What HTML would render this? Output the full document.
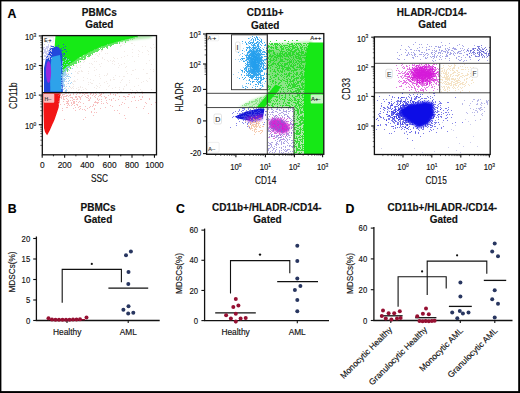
<!DOCTYPE html>
<html><head><meta charset="utf-8"><style>
html,body{margin:0;padding:0;background:#fff;width:520px;height:393px;overflow:hidden}
svg{display:block}
text{font-family:"Liberation Sans", sans-serif}
</style></head><body>
<svg width="520" height="393" viewBox="0 0 520 393">
<defs>
<filter id="b0" x="-20%" y="-20%" width="140%" height="140%"><feGaussianBlur stdDeviation="0.6"/></filter>
<filter id="b1" x="-20%" y="-20%" width="140%" height="140%"><feGaussianBlur stdDeviation="0.9"/></filter>
<filter id="b2" x="-30%" y="-30%" width="160%" height="160%"><feGaussianBlur stdDeviation="2"/></filter>
<clipPath id="c1"><rect x="42.3" y="35.6" width="114.2" height="119.2"/></clipPath>
<clipPath id="c2"><rect x="206.6" y="33.6" width="117.2" height="120.7"/></clipPath>
<clipPath id="c3"><rect x="374.4" y="36.9" width="115.8" height="117.6"/></clipPath>
</defs>
<rect x="0" y="0" width="520" height="393" fill="#fff"/>
<g>
<rect x="0" y="0" width="520" height="393" fill="#fff"/>
<text x="7.60" y="17.70" font-size="12.3" text-anchor="start" font-weight="bold" fill="#000"  stroke="#000" stroke-width="0.15">A</text>
<text x="99.30" y="15.80" font-size="10" text-anchor="middle" font-weight="bold" fill="#111"  stroke="#111" stroke-width="0.15">PBMCs</text>
<text x="99.30" y="28.30" font-size="10" text-anchor="middle" font-weight="bold" fill="#111"  stroke="#111" stroke-width="0.15">Gated</text>
<g clip-path="url(#c1)">
<path d="M89 49h1v1h-1zM121 45h1v1h-1zM110 60h1v1h-1zM63 67h1v1h-1zM61 63h1v1h-1zM64 46h1v1h-1zM99 83h1v1h-1zM70 53h1v1h-1zM119 89h1v1h-1zM114 61h1v1h-1zM153 44h1v1h-1zM72 47h1v1h-1zM88 82h1v1h-1zM75 71h1v1h-1zM111 45h1v1h-1zM63 52h1v1h-1zM124 63h1v1h-1zM88 71h1v1h-1zM81 70h1v1h-1zM109 85h1v1h-1zM154 47h1v1h-1zM72 66h1v1h-1zM61 75h1v1h-1zM132 70h1v1h-1zM126 71h1v1h-1zM114 64h1v1h-1zM140 89h1v1h-1zM104 75h1v1h-1zM63 77h1v1h-1zM121 91h1v1h-1zM138 56h1v1h-1zM95 75h1v1h-1zM60 65h1v1h-1zM74 47h1v1h-1zM63 80h1v1h-1zM70 54h1v1h-1zM96 85h1v1h-1zM65 64h1v1h-1zM138 85h1v1h-1zM75 53h1v1h-1zM58 62h1v1h-1zM94 70h1v1h-1zM124 44h1v1h-1zM146 80h1v1h-1zM143 81h1v1h-1zM96 61h1v1h-1zM68 73h1v1h-1zM64 45h1v1h-1zM78 50h1v1h-1zM58 49h1v1h-1zM67 60h1v1h-1zM60 85h1v1h-1zM66 47h1v1h-1zM91 55h1v1h-1zM60 89h1v1h-1zM111 43h1v1h-1zM83 60h1v1h-1zM74 80h1v1h-1zM110 80h1v1h-1zM90 53h1v1h-1zM137 91h1v1h-1zM138 78h1v1h-1zM80 67h1v1h-1zM92 43h1v1h-1zM60 55h1v1h-1zM151 64h1v1h-1zM79 53h1v1h-1zM77 52h1v1h-1zM66 75h1v1h-1zM147 81h1v1h-1zM75 81h1v1h-1zM90 82h1v1h-1zM70 49h1v1h-1zM72 83h1v1h-1zM70 42h1v1h-1zM100 85h1v1h-1zM82 56h1v1h-1zM81 71h1v1h-1zM83 62h1v1h-1zM70 87h1v1h-1zM92 64h1v1h-1zM115 87h1v1h-1zM99 87h1v1h-1zM101 51h1v1h-1zM58 81h1v1h-1zM74 65h1v1h-1zM89 67h1v1h-1zM68 70h1v1h-1zM82 55h1v1h-1zM113 79h1v1h-1zM118 67h1v1h-1zM126 85h1v1h-1zM69 64h1v1h-1zM65 54h1v1h-1zM65 75h1v1h-1zM134 86h1v1h-1zM79 89h1v1h-1zM73 63h1v1h-1zM77 57h1v1h-1zM59 58h1v1h-1zM64 91h1v1h-1zM68 55h1v1h-1zM61 80h1v1h-1zM84 48h1v1h-1zM72 87h1v1h-1zM113 77h1v1h-1zM66 44h1v1h-1zM65 88h1v1h-1zM120 82h1v1h-1zM66 84h1v1h-1zM64 85h1v1h-1zM102 58h1v1h-1zM112 88h1v1h-1zM68 50h1v1h-1zM62 52h1v1h-1zM88 57h1v1h-1zM132 56h1v1h-1zM92 42h1v1h-1zM76 65h1v1h-1zM91 83h1v1h-1zM127 73h1v1h-1zM63 48h1v1h-1zM64 79h1v1h-1zM83 50h1v1h-1zM85 54h1v1h-1zM73 64h1v1h-1zM153 69h1v1h-1zM81 90h1v1h-1zM58 61h1v1h-1zM77 67h1v1h-1zM58 55h1v1h-1zM66 61h1v1h-1zM62 43h1v1h-1zM131 74h1v1h-1zM62 83h1v1h-1zM71 68h1v1h-1zM107 83h1v1h-1zM124 76h1v1h-1zM80 43h1v1h-1zM71 60h1v1h-1zM68 83h1v1h-1zM105 42h1v1h-1zM65 55h1v1h-1zM120 45h1v1h-1zM72 54h1v1h-1zM63 55h1v1h-1zM123 76h1v1h-1zM124 56h1v1h-1zM59 64h1v1h-1zM78 89h1v1h-1zM78 71h1v1h-1zM80 86h1v1h-1zM58 66h1v1h-1zM102 57h1v1h-1zM71 59h1v1h-1zM88 84h1v1h-1zM58 79h1v1h-1zM94 61h1v1h-1zM67 83h1v1h-1zM85 88h1v1h-1zM119 87h1v1h-1zM150 69h1v1h-1zM104 59h1v1h-1zM87 78h1v1h-1zM112 61h1v1h-1zM74 50h1v1h-1zM78 87h1v1h-1zM102 48h1v1h-1zM76 46h1v1h-1zM81 54h1v1h-1zM94 58h1v1h-1zM64 55h1v1h-1zM107 73h1v1h-1zM142 52h1v1h-1zM84 54h1v1h-1zM61 77h1v1h-1zM115 42h1v1h-1zM96 88h1v1h-1zM68 49h1v1h-1zM121 80h1v1h-1zM61 81h1v1h-1zM80 87h1v1h-1zM121 57h1v1h-1zM68 45h1v1h-1zM96 53h1v1h-1zM116 42h1v1h-1zM106 75h1v1h-1zM99 54h1v1h-1zM123 88h1v1h-1zM91 63h1v1h-1zM124 51h1v1h-1zM86 89h1v1h-1zM79 62h1v1h-1zM123 89h1v1h-1zM78 90h1v1h-1zM71 44h1v1h-1zM63 61h1v1h-1zM76 88h1v1h-1zM131 43h1v1h-1zM74 42h1v1h-1zM85 59h1v1h-1zM151 48h1v1h-1zM62 65h1v1h-1zM94 87h1v1h-1zM76 60h1v1h-1zM61 45h1v1h-1zM148 54h1v1h-1zM83 77h1v1h-1zM89 55h1v1h-1zM147 73h1v1h-1zM80 65h1v1h-1zM151 89h1v1h-1zM95 54h1v1h-1zM100 66h1v1h-1zM148 51h1v1h-1zM136 78h1v1h-1zM117 58h1v1h-1zM134 45h1v1h-1zM77 79h1v1h-1zM61 69h1v1h-1zM67 66h1v1h-1zM80 62h1v1h-1zM113 60h1v1h-1zM82 54h1v1h-1zM73 86h1v1h-1zM114 58h1v1h-1zM96 91h1v1h-1zM107 53h1v1h-1zM104 82h1v1h-1zM61 56h1v1h-1zM69 51h1v1h-1zM153 71h1v1h-1zM149 60h1v1h-1zM83 80h1v1h-1zM150 47h1v1h-1zM79 60h1v1h-1zM71 52h1v1h-1zM82 71h1v1h-1zM88 52h1v1h-1zM135 69h1v1h-1zM64 47h1v1h-1zM96 69h1v1h-1zM120 46h1v1h-1zM74 76h1v1h-1zM98 56h1v1h-1zM142 91h1v1h-1zM93 51h1v1h-1zM58 87h1v1h-1zM97 86h1v1h-1zM59 69h1v1h-1zM66 73h1v1h-1zM94 67h1v1h-1zM72 56h1v1h-1zM68 66h1v1h-1zM136 90h1v1h-1zM77 48h1v1h-1zM105 44h1v1h-1zM146 73h1v1h-1zM138 50h1v1h-1zM139 51h1v1h-1zM79 61h1v1h-1zM108 61h1v1h-1zM62 70h1v1h-1zM132 43h1v1h-1zM99 74h1v1h-1zM101 63h1v1h-1zM60 72h1v1h-1zM105 53h1v1h-1zM102 50h1v1h-1zM70 63h1v1h-1zM66 64h1v1h-1zM129 80h1v1h-1zM107 60h1v1h-1zM141 91h1v1h-1zM129 82h1v1h-1zM76 91h1v1h-1zM106 89h1v1h-1zM147 50h1v1h-1zM64 59h1v1h-1zM132 49h1v1h-1zM78 55h1v1h-1zM61 51h1v1h-1zM73 88h1v1h-1zM124 86h1v1h-1zM74 81h1v1h-1zM69 68h1v1h-1zM143 69h1v1h-1zM68 91h1v1h-1zM93 80h1v1h-1zM101 50h1v1h-1zM138 54h1v1h-1zM120 91h1v1h-1zM115 75h1v1h-1zM88 42h1v1h-1zM61 49h1v1h-1zM118 63h1v1h-1zM108 86h1v1h-1zM122 43h1v1h-1zM58 59h1v1h-1zM68 59h1v1h-1zM79 71h1v1h-1zM71 88h1v1h-1zM67 73h1v1h-1zM97 55h1v1h-1zM59 74h1v1h-1zM121 64h1v1h-1zM149 78h1v1h-1zM82 87h1v1h-1zM62 68h1v1h-1zM77 72h1v1h-1zM107 74h1v1h-1zM62 86h1v1h-1zM58 84h1v1h-1zM90 79h1v1h-1zM126 84h1v1h-1zM127 55h1v1h-1zM112 63h1v1h-1zM130 89h1v1h-1zM119 76h1v1h-1zM100 78h1v1h-1zM113 57h1v1h-1zM78 73h1v1h-1zM65 87h1v1h-1zM72 43h1v1h-1zM68 88h1v1h-1zM60 44h1v1h-1zM64 71h1v1h-1zM68 52h1v1h-1zM68 43h1v1h-1zM141 82h1v1h-1zM67 46h1v1h-1zM132 52h1v1h-1zM89 63h1v1h-1zM60 54h1v1h-1zM61 62h1v1h-1zM142 46h1v1h-1zM58 52h1v1h-1zM132 90h1v1h-1zM106 81h1v1h-1zM76 66h1v1h-1zM92 83h1v1h-1zM83 89h1v1h-1zM85 52h1v1h-1zM126 66h1v1h-1zM65 81h1v1h-1zM145 46h1v1h-1zM110 79h1v1h-1zM92 58h1v1h-1zM73 84h1v1h-1zM122 79h1v1h-1zM74 63h1v1h-1zM133 70h1v1h-1zM70 65h1v1h-1zM76 57h1v1h-1zM73 49h1v1h-1zM82 58h1v1h-1zM90 51h1v1h-1zM67 90h1v1h-1zM67 61h1v1h-1zM77 73h1v1h-1zM96 43h1v1h-1zM125 67h1v1h-1zM119 65h1v1h-1zM146 63h1v1h-1zM114 79h1v1h-1zM99 53h1v1h-1zM88 73h1v1h-1zM67 62h1v1h-1zM99 64h1v1h-1zM134 61h1v1h-1zM73 81h1v1h-1zM67 70h1v1h-1zM69 91h1v1h-1zM92 44h1v1h-1zM84 61h1v1h-1zM59 62h1v1h-1zM99 76h1v1h-1z" fill="#d8c4b8" fill-opacity="0.35"/>
<path d="M62 72h1v1h-1zM61 71h1v1h-1zM64 70h1v1h-1zM63 70h1v1h-1zM63 74h1v1h-1zM61 73h1v1h-1zM64 71h1v1h-1zM61 76h1v1h-1zM62 70h1v1h-1zM60 71h1v1h-1zM64 68h1v1h-1zM63 72h1v1h-1zM62 69h1v1h-1zM62 73h1v1h-1zM60 73h1v1h-1zM63 71h1v1h-1zM63 73h1v1h-1zM62 74h1v1h-1zM62 75h1v1h-1zM65 68h1v1h-1zM65 69h1v1h-1zM65 71h1v1h-1zM62 71h1v1h-1zM61 70h1v1h-1zM64 69h1v1h-1zM61 72h1v1h-1zM63 69h1v1h-1zM60 74h1v1h-1zM60 72h1v1h-1zM65 70h1v1h-1zM69 64h1v1h-1zM70 65h1v1h-1zM68 65h1v1h-1zM66 68h1v1h-1zM67 68h1v1h-1zM67 71h1v1h-1zM68 67h1v1h-1zM67 67h1v1h-1zM67 66h1v1h-1zM70 64h1v1h-1zM67 65h1v1h-1zM67 69h1v1h-1zM66 67h1v1h-1zM69 66h1v1h-1zM71 63h1v1h-1zM66 69h1v1h-1zM68 69h1v1h-1zM68 66h1v1h-1zM70 68h1v1h-1zM69 65h1v1h-1zM67 70h1v1h-1zM65 67h1v1h-1zM70 67h1v1h-1zM72 62h1v1h-1zM78 59h1v1h-1zM76 62h1v1h-1zM74 62h1v1h-1zM76 60h1v1h-1zM71 64h1v1h-1zM78 62h1v1h-1zM76 61h1v1h-1zM74 63h1v1h-1zM75 62h1v1h-1zM78 60h1v1h-1zM71 65h1v1h-1zM75 61h1v1h-1zM73 63h1v1h-1zM72 63h1v1h-1zM73 61h1v1h-1zM77 60h1v1h-1zM72 64h1v1h-1zM77 59h1v1h-1zM75 60h1v1h-1zM75 63h1v1h-1zM71 62h1v1h-1zM74 61h1v1h-1zM78 58h1v1h-1zM74 60h1v1h-1zM76 59h1v1h-1zM73 65h1v1h-1zM78 61h1v1h-1zM76 63h1v1h-1zM73 62h1v1h-1zM73 64h1v1h-1zM83 56h1v1h-1zM84 58h1v1h-1zM81 57h1v1h-1zM80 56h1v1h-1zM82 58h1v1h-1zM79 58h1v1h-1zM84 57h1v1h-1zM81 59h1v1h-1zM80 58h1v1h-1zM81 58h1v1h-1zM80 59h1v1h-1zM84 55h1v1h-1zM82 56h1v1h-1zM80 61h1v1h-1zM84 56h1v1h-1zM84 59h1v1h-1zM83 57h1v1h-1zM82 57h1v1h-1zM79 59h1v1h-1zM82 59h1v1h-1zM81 56h1v1h-1zM83 59h1v1h-1zM85 55h1v1h-1zM86 54h1v1h-1zM88 56h1v1h-1zM88 54h1v1h-1zM89 56h1v1h-1zM89 53h1v1h-1zM85 54h1v1h-1zM88 53h1v1h-1zM88 55h1v1h-1zM85 56h1v1h-1zM86 55h1v1h-1zM85 57h1v1h-1zM87 54h1v1h-1zM89 52h1v1h-1zM87 56h1v1h-1zM85 58h1v1h-1zM89 54h1v1h-1zM89 55h1v1h-1zM86 53h1v1h-1zM87 53h1v1h-1zM91 51h1v1h-1zM94 52h1v1h-1zM94 50h1v1h-1zM93 51h1v1h-1zM93 52h1v1h-1zM92 51h1v1h-1zM91 53h1v1h-1zM90 53h1v1h-1zM92 52h1v1h-1zM92 50h1v1h-1zM90 52h1v1h-1zM91 52h1v1h-1zM92 53h1v1h-1zM94 51h1v1h-1zM90 55h1v1h-1zM93 50h1v1h-1zM90 54h1v1h-1zM92 54h1v1h-1zM98 48h1v1h-1zM96 49h1v1h-1zM95 49h1v1h-1zM98 50h1v1h-1zM97 50h1v1h-1zM97 49h1v1h-1zM98 49h1v1h-1zM96 51h1v1h-1zM96 50h1v1h-1zM99 47h1v1h-1zM95 51h1v1h-1zM97 48h1v1h-1zM95 50h1v1h-1zM99 49h1v1h-1zM96 48h1v1h-1zM97 51h1v1h-1zM105 45h1v1h-1zM102 47h1v1h-1zM103 46h1v1h-1zM104 46h1v1h-1zM104 47h1v1h-1zM106 45h1v1h-1zM101 47h1v1h-1zM105 46h1v1h-1zM106 46h1v1h-1zM106 47h1v1h-1zM106 44h1v1h-1zM100 47h1v1h-1zM100 48h1v1h-1zM102 48h1v1h-1zM104 45h1v1h-1zM102 49h1v1h-1zM102 46h1v1h-1zM101 49h1v1h-1zM103 45h1v1h-1zM103 47h1v1h-1zM113 42h1v1h-1zM109 45h1v1h-1zM110 44h1v1h-1zM110 46h1v1h-1zM107 48h1v1h-1zM111 44h1v1h-1zM111 43h1v1h-1zM110 43h1v1h-1zM107 45h1v1h-1zM113 43h1v1h-1zM107 47h1v1h-1zM112 43h1v1h-1zM109 44h1v1h-1zM112 42h1v1h-1zM113 44h1v1h-1zM114 42h1v1h-1zM108 45h1v1h-1zM110 45h1v1h-1zM112 44h1v1h-1zM108 44h1v1h-1zM114 43h1v1h-1zM111 45h1v1h-1zM107 46h1v1h-1zM115 43h1v1h-1zM116 42h1v1h-1zM117 42h1v1h-1zM120 41h1v1h-1zM115 42h1v1h-1zM117 43h1v1h-1zM118 41h1v1h-1zM116 43h1v1h-1zM119 41h1v1h-1zM121 41h1v1h-1zM117 41h1v1h-1zM119 42h1v1h-1zM119 43h1v1h-1zM128 39h1v1h-1zM125 40h1v1h-1zM129 38h1v1h-1zM126 39h1v1h-1zM125 41h1v1h-1zM126 40h1v1h-1zM127 40h1v1h-1zM123 40h1v1h-1zM122 40h1v1h-1zM127 39h1v1h-1zM125 42h1v1h-1zM128 40h1v1h-1zM122 41h1v1h-1zM124 40h1v1h-1zM132 37h1v1h-1zM134 38h1v1h-1zM134 37h1v1h-1zM132 38h1v1h-1zM136 37h1v1h-1zM132 39h1v1h-1zM131 38h1v1h-1zM133 38h1v1h-1zM130 38h1v1h-1zM137 37h1v1h-1zM130 39h1v1h-1z" fill="#3ee03e" fill-opacity="0.8"/>
<path d="M112,35.6 L153,35.6 L150,38 L135,39.5 L120,42 Z" fill="#9ae896" fill-opacity="0.85" filter="url(#b1)"/>
<path d="M55.5,35.6 L138,35.6 L138,36.5 L130,38.5 L122,40.5 L115,42.3 L107,44.8 L100,47.3 L95,49.5 L90,52 L85,54.5 L78.8,58 L71.3,63 L65.7,67.5 L60,71.7 L57,68 L54,55 Z" fill="#14ea14" filter="url(#b0)"/>
<path d="M59 60h1v1h-1zM59 57h1v1h-1zM59 56h1v1h-1zM65 46h1v1h-1zM54 47h1v1h-1zM57 51h1v1h-1zM54 54h1v1h-1zM64 58h1v1h-1zM64 53h1v1h-1zM58 58h1v1h-1zM60 56h1v1h-1zM55 51h1v1h-1zM54 58h1v1h-1zM53 53h1v1h-1zM58 52h1v1h-1zM55 54h1v1h-1zM54 53h1v1h-1zM62 50h1v1h-1zM61 58h1v1h-1zM64 49h1v1h-1zM63 57h1v1h-1zM62 56h1v1h-1zM56 56h1v1h-1zM54 51h1v1h-1zM56 46h1v1h-1zM58 47h1v1h-1zM59 58h1v1h-1zM61 59h1v1h-1zM56 49h1v1h-1zM57 56h1v1h-1zM52 51h1v1h-1zM56 55h1v1h-1zM59 59h1v1h-1zM52 54h1v1h-1zM66 58h1v1h-1zM58 56h1v1h-1zM56 58h1v1h-1zM54 56h1v1h-1zM58 50h1v1h-1zM57 52h1v1h-1zM53 57h1v1h-1zM59 54h1v1h-1zM51 51h1v1h-1zM56 51h1v1h-1zM55 49h1v1h-1zM55 48h1v1h-1zM61 54h1v1h-1zM55 57h1v1h-1zM50 50h1v1h-1zM57 59h1v1h-1zM61 56h1v1h-1zM60 51h1v1h-1zM56 50h1v1h-1zM57 48h1v1h-1zM58 55h1v1h-1zM56 57h1v1h-1zM54 52h1v1h-1zM57 49h1v1h-1zM60 50h1v1h-1zM65 57h1v1h-1zM59 53h1v1h-1zM62 54h1v1h-1zM50 55h1v1h-1zM50 58h1v1h-1zM50 49h1v1h-1zM63 44h1v1h-1zM59 55h1v1h-1zM51 55h1v1h-1zM52 46h1v1h-1zM57 58h1v1h-1zM53 51h1v1h-1zM51 53h1v1h-1zM55 52h1v1h-1zM53 58h1v1h-1zM65 49h1v1h-1zM51 57h1v1h-1zM62 61h1v1h-1zM53 52h1v1h-1zM49 54h1v1h-1zM51 46h1v1h-1zM49 49h1v1h-1zM55 60h1v1h-1zM63 53h1v1h-1zM61 53h1v1h-1zM53 54h1v1h-1zM48 54h1v1h-1zM60 54h1v1h-1zM53 46h1v1h-1zM52 53h1v1h-1zM56 52h1v1h-1zM61 48h1v1h-1zM59 49h1v1h-1zM57 53h1v1h-1zM52 52h1v1h-1zM63 47h1v1h-1zM66 51h1v1h-1zM53 56h1v1h-1zM63 55h1v1h-1zM61 55h1v1h-1zM57 57h1v1h-1zM58 45h1v1h-1zM54 49h1v1h-1zM56 60h1v1h-1zM52 49h1v1h-1zM60 49h1v1h-1zM57 54h1v1h-1zM51 48h1v1h-1zM55 53h1v1h-1zM48 52h1v1h-1zM50 56h1v1h-1zM64 54h1v1h-1z" fill="#2848d8" fill-opacity="0.9"/>
<path d="M50,48.5 L57,46.5 L61.5,50 L62.5,60 L62.8,92 L44,92 L44,68 L46,58 Z" fill="#2246dc" filter="url(#b0)"/>
<path d="M51.5,57 L60,55 L61.3,65 L61.3,91.5 L50.3,91.5 L50,72 Z" fill="#2ea2ea" filter="url(#b0)"/>
<ellipse cx="48.5" cy="72" rx="2.6" ry="11" fill="#962ae0" filter="url(#b0)"/>
<path d="M51 50h1v1h-1zM50 46h1v1h-1zM44 59h1v1h-1zM45 50h1v1h-1zM44 55h1v1h-1zM50 56h1v1h-1zM46 56h1v1h-1zM51 54h1v1h-1zM49 55h1v1h-1zM47 42h1v1h-1zM46 47h1v1h-1zM49 49h1v1h-1zM47 51h1v1h-1zM49 42h1v1h-1zM49 56h1v1h-1zM45 55h1v1h-1zM43 52h1v1h-1zM44 56h1v1h-1zM51 45h1v1h-1zM47 48h1v1h-1zM49 57h1v1h-1zM51 51h1v1h-1zM48 47h1v1h-1zM46 52h1v1h-1zM48 44h1v1h-1zM45 49h1v1h-1zM44 52h1v1h-1zM51 58h1v1h-1zM46 48h1v1h-1zM44 44h1v1h-1zM50 50h1v1h-1zM48 56h1v1h-1zM46 54h1v1h-1zM46 51h1v1h-1zM47 46h1v1h-1zM43 47h1v1h-1zM45 48h1v1h-1zM45 56h1v1h-1zM46 58h1v1h-1zM43 53h1v1h-1zM45 58h1v1h-1zM48 53h1v1h-1zM49 58h1v1h-1zM49 51h1v1h-1zM47 50h1v1h-1zM45 51h1v1h-1zM48 46h1v1h-1zM48 52h1v1h-1zM46 53h1v1h-1zM45 53h1v1h-1zM51 49h1v1h-1zM49 48h1v1h-1zM46 46h1v1h-1zM48 50h1v1h-1zM48 55h1v1h-1zM47 53h1v1h-1zM48 51h1v1h-1zM43 48h1v1h-1zM50 47h1v1h-1zM44 51h1v1h-1zM45 52h1v1h-1zM47 57h1v1h-1zM43 49h1v1h-1zM47 54h1v1h-1zM49 59h1v1h-1zM47 58h1v1h-1zM48 45h1v1h-1zM50 53h1v1h-1zM47 47h1v1h-1zM44 49h1v1h-1zM47 49h1v1h-1zM50 45h1v1h-1zM44 50h1v1h-1zM43 59h1v1h-1zM48 57h1v1h-1zM44 47h1v1h-1zM47 55h1v1h-1z" fill="#c8c8f0" fill-opacity="0.9"/>
<path d="M62 63h1v1h-1zM66 81h1v1h-1zM68 76h1v1h-1zM62 82h1v1h-1zM63 81h1v1h-1zM61 66h1v1h-1zM65 91h1v1h-1zM68 74h1v1h-1zM62 80h1v1h-1zM61 86h1v1h-1zM64 73h1v1h-1zM66 90h1v1h-1zM63 79h1v1h-1zM66 78h1v1h-1zM69 67h1v1h-1zM62 88h1v1h-1zM66 86h1v1h-1zM64 71h1v1h-1zM68 83h1v1h-1zM66 91h1v1h-1zM62 79h1v1h-1zM63 86h1v1h-1zM66 67h1v1h-1zM63 66h1v1h-1zM64 81h1v1h-1zM61 74h1v1h-1zM66 74h1v1h-1zM66 64h1v1h-1zM62 74h1v1h-1zM65 74h1v1h-1zM63 78h1v1h-1zM70 83h1v1h-1zM61 77h1v1h-1zM66 69h1v1h-1zM61 87h1v1h-1zM62 77h1v1h-1zM65 77h1v1h-1zM62 75h1v1h-1zM68 81h1v1h-1zM65 70h1v1h-1zM63 73h1v1h-1zM72 68h1v1h-1zM63 84h1v1h-1zM64 64h1v1h-1zM65 62h1v1h-1zM67 66h1v1h-1zM64 78h1v1h-1zM69 80h1v1h-1zM63 83h1v1h-1zM67 64h1v1h-1zM68 66h1v1h-1zM66 70h1v1h-1zM61 84h1v1h-1zM67 76h1v1h-1zM66 58h1v1h-1zM64 88h1v1h-1zM64 79h1v1h-1zM65 75h1v1h-1zM65 79h1v1h-1zM65 71h1v1h-1zM64 72h1v1h-1zM62 78h1v1h-1zM68 59h1v1h-1zM68 69h1v1h-1zM62 84h1v1h-1zM69 76h1v1h-1zM64 74h1v1h-1zM70 61h1v1h-1zM64 84h1v1h-1zM69 70h1v1h-1zM63 89h1v1h-1zM63 74h1v1h-1zM62 61h1v1h-1zM64 69h1v1h-1zM68 78h1v1h-1zM65 60h1v1h-1zM64 85h1v1h-1zM64 75h1v1h-1zM61 75h1v1h-1zM62 65h1v1h-1zM63 85h1v1h-1zM61 88h1v1h-1zM69 86h1v1h-1zM62 69h1v1h-1zM62 72h1v1h-1zM64 76h1v1h-1zM62 70h1v1h-1zM64 80h1v1h-1zM62 83h1v1h-1zM66 59h1v1h-1zM67 67h1v1h-1zM64 86h1v1h-1zM71 73h1v1h-1zM63 70h1v1h-1zM71 82h1v1h-1zM61 80h1v1h-1zM62 76h1v1h-1zM68 62h1v1h-1zM67 75h1v1h-1zM65 68h1v1h-1zM63 76h1v1h-1zM62 62h1v1h-1zM63 72h1v1h-1zM70 77h1v1h-1zM68 67h1v1h-1zM66 76h1v1h-1zM63 82h1v1h-1zM65 72h1v1h-1zM63 57h1v1h-1zM66 89h1v1h-1zM63 80h1v1h-1zM65 90h1v1h-1zM61 82h1v1h-1zM69 61h1v1h-1zM63 61h1v1h-1zM63 75h1v1h-1zM65 69h1v1h-1zM62 67h1v1h-1zM65 73h1v1h-1z" fill="#90c8f0" fill-opacity="0.8"/>
<path d="M60.5,93.2 L58.6,107.8 L54.7,119.3 L49.6,130.8 L47.1,135.2 L45,132 L44,128 L43.5,110 L43.5,93.2 Z" fill="#f21212" filter="url(#b0)"/>
<path d="M76 101h1v1h-1zM73 94h1v1h-1zM80 102h1v1h-1zM76 97h1v1h-1zM71 97h1v1h-1zM110 93h1v1h-1zM88 96h1v1h-1zM80 98h1v1h-1zM62 95h1v1h-1zM95 95h1v1h-1zM89 107h1v1h-1zM94 112h1v1h-1zM85 117h1v1h-1zM87 95h1v1h-1zM100 108h1v1h-1zM66 96h1v1h-1zM63 96h1v1h-1zM132 97h1v1h-1zM99 95h1v1h-1zM68 96h1v1h-1zM83 119h1v1h-1zM72 98h1v1h-1zM117 110h1v1h-1zM90 106h1v1h-1zM68 100h1v1h-1zM136 107h1v1h-1zM131 93h1v1h-1zM144 106h1v1h-1zM111 100h1v1h-1zM134 97h1v1h-1zM60 97h1v1h-1zM64 96h1v1h-1zM97 102h1v1h-1zM68 101h1v1h-1zM78 102h1v1h-1zM70 95h1v1h-1zM100 94h1v1h-1zM67 102h1v1h-1zM109 99h1v1h-1zM79 93h1v1h-1zM79 109h1v1h-1zM90 93h1v1h-1zM60 95h1v1h-1zM151 104h1v1h-1zM72 97h1v1h-1zM103 93h1v1h-1zM146 103h1v1h-1zM140 99h1v1h-1zM66 107h1v1h-1zM71 105h1v1h-1zM77 99h1v1h-1zM73 103h1v1h-1zM76 96h1v1h-1zM88 98h1v1h-1zM101 103h1v1h-1zM72 104h1v1h-1zM74 105h1v1h-1zM97 98h1v1h-1zM125 97h1v1h-1zM142 96h1v1h-1zM92 106h1v1h-1zM75 107h1v1h-1zM106 102h1v1h-1zM149 99h1v1h-1zM95 105h1v1h-1zM83 103h1v1h-1zM110 94h1v1h-1zM138 100h1v1h-1zM73 93h1v1h-1zM76 94h1v1h-1zM63 94h1v1h-1zM80 97h1v1h-1zM66 101h1v1h-1zM61 97h1v1h-1zM60 94h1v1h-1zM127 96h1v1h-1zM82 95h1v1h-1zM114 110h1v1h-1zM95 93h1v1h-1zM135 93h1v1h-1zM149 98h1v1h-1zM99 99h1v1h-1zM85 106h1v1h-1zM67 107h1v1h-1zM131 101h1v1h-1zM61 96h1v1h-1zM145 102h1v1h-1zM128 94h1v1h-1zM69 105h1v1h-1zM110 105h1v1h-1zM148 113h1v1h-1zM97 103h1v1h-1zM74 99h1v1h-1zM106 100h1v1h-1zM94 108h1v1h-1zM88 100h1v1h-1zM119 113h1v1h-1zM93 105h1v1h-1zM142 97h1v1h-1zM64 104h1v1h-1zM125 118h1v1h-1zM99 93h1v1h-1zM58 103h1v1h-1zM98 102h1v1h-1zM59 94h1v1h-1zM67 99h1v1h-1zM68 93h1v1h-1zM72 100h1v1h-1zM93 104h1v1h-1zM73 102h1v1h-1zM59 101h1v1h-1zM67 101h1v1h-1zM90 94h1v1h-1zM117 93h1v1h-1zM75 96h1v1h-1zM66 98h1v1h-1zM69 95h1v1h-1zM63 101h1v1h-1zM74 103h1v1h-1zM77 104h1v1h-1zM79 106h1v1h-1zM73 101h1v1h-1zM64 119h1v1h-1zM67 103h1v1h-1zM77 93h1v1h-1zM86 93h1v1h-1zM71 102h1v1h-1zM63 98h1v1h-1zM93 94h1v1h-1zM58 101h1v1h-1zM108 95h1v1h-1zM105 97h1v1h-1zM115 94h1v1h-1zM76 99h1v1h-1zM88 95h1v1h-1zM93 93h1v1h-1zM78 107h1v1h-1zM63 99h1v1h-1zM93 115h1v1h-1zM105 98h1v1h-1zM75 97h1v1h-1zM95 101h1v1h-1zM90 98h1v1h-1zM76 104h1v1h-1zM59 98h1v1h-1zM77 105h1v1h-1zM80 108h1v1h-1zM115 100h1v1h-1zM89 100h1v1h-1zM84 94h1v1h-1zM63 97h1v1h-1zM95 102h1v1h-1zM78 96h1v1h-1zM66 93h1v1h-1zM94 102h1v1h-1zM86 97h1v1h-1zM142 93h1v1h-1zM118 99h1v1h-1zM66 95h1v1h-1zM91 112h1v1h-1zM97 99h1v1h-1zM124 115h1v1h-1zM124 103h1v1h-1zM74 101h1v1h-1zM74 102h1v1h-1zM71 103h1v1h-1zM134 96h1v1h-1zM101 101h1v1h-1zM68 104h1v1h-1zM129 94h1v1h-1zM75 110h1v1h-1zM91 111h1v1h-1zM119 96h1v1h-1zM85 110h1v1h-1zM80 106h1v1h-1zM66 103h1v1h-1zM103 103h1v1h-1zM85 93h1v1h-1zM82 109h1v1h-1zM79 96h1v1h-1zM60 93h1v1h-1zM92 95h1v1h-1zM122 102h1v1h-1zM73 99h1v1h-1zM67 95h1v1h-1zM100 95h1v1h-1zM58 95h1v1h-1zM70 100h1v1h-1zM124 96h1v1h-1zM98 96h1v1h-1zM101 94h1v1h-1zM94 96h1v1h-1zM125 99h1v1h-1zM62 108h1v1h-1zM79 101h1v1h-1zM61 93h1v1h-1zM96 94h1v1h-1zM87 93h1v1h-1zM89 99h1v1h-1zM70 97h1v1h-1zM87 108h1v1h-1zM64 94h1v1h-1zM98 100h1v1h-1zM80 99h1v1h-1zM77 98h1v1h-1zM101 93h1v1h-1zM101 99h1v1h-1zM70 94h1v1h-1zM82 93h1v1h-1zM62 110h1v1h-1zM115 95h1v1h-1zM94 109h1v1h-1zM155 102h1v1h-1zM112 106h1v1h-1zM65 96h1v1h-1zM104 96h1v1h-1zM128 107h1v1h-1zM84 109h1v1h-1zM135 100h1v1h-1zM90 97h1v1h-1zM128 96h1v1h-1zM79 97h1v1h-1zM141 99h1v1h-1zM80 93h1v1h-1zM121 104h1v1h-1zM101 96h1v1h-1zM59 102h1v1h-1zM96 102h1v1h-1zM59 100h1v1h-1zM139 96h1v1h-1zM83 93h1v1h-1zM143 108h1v1h-1zM62 94h1v1h-1zM95 97h1v1h-1zM113 98h1v1h-1zM60 104h1v1h-1zM119 105h1v1h-1zM61 98h1v1h-1zM106 97h1v1h-1zM96 112h1v1h-1zM64 99h1v1h-1zM87 97h1v1h-1zM107 103h1v1h-1zM58 104h1v1h-1zM67 105h1v1h-1zM113 94h1v1h-1zM111 99h1v1h-1zM85 96h1v1h-1zM68 103h1v1h-1zM73 108h1v1h-1zM65 93h1v1h-1zM123 96h1v1h-1zM91 93h1v1h-1zM81 96h1v1h-1zM105 107h1v1h-1z" fill="#f08080" fill-opacity="0.5"/>
</g>
<rect x="43.80" y="37.40" width="10.00" height="4.60" fill="#ffffff" stroke="#ccc" stroke-width="0.3" rx="1"/>
<text x="44.30" y="41.50" font-size="4.5" text-anchor="start" fill="#333"  stroke="#333" stroke-width="0.15">E-+</text>
<rect x="43.80" y="93.80" width="10.50" height="9.00" fill="#f8c0c0" stroke="none" stroke-width="0" rx="1"/>
<text x="44.50" y="100.50" font-size="5" text-anchor="start" fill="#333"  stroke="#333" stroke-width="0.15">H--</text>
<line x1="42.30" y1="92.60" x2="156.50" y2="92.60" stroke="#111" stroke-width="1.2"/>
<rect x="42.30" y="35.60" width="114.20" height="119.20" fill="none" stroke="#111" stroke-width="1.3" rx="0"/>
<line x1="38.80" y1="124.70" x2="42.30" y2="124.70" stroke="#111" stroke-width="1.1"/>
<text transform="translate(36.30,129.00) scale(0.86,1)" font-size="9" text-anchor="end" fill="#111" stroke="#111" stroke-width="0.15">10<tspan font-size="5.7" dy="-3.3">0</tspan></text>
<line x1="40.30" y1="115.79" x2="42.30" y2="115.79" stroke="#111" stroke-width="0.6"/>
<line x1="40.30" y1="110.58" x2="42.30" y2="110.58" stroke="#111" stroke-width="0.6"/>
<line x1="40.30" y1="106.88" x2="42.30" y2="106.88" stroke="#111" stroke-width="0.6"/>
<line x1="40.30" y1="104.01" x2="42.30" y2="104.01" stroke="#111" stroke-width="0.6"/>
<line x1="40.30" y1="101.67" x2="42.30" y2="101.67" stroke="#111" stroke-width="0.6"/>
<line x1="40.30" y1="99.69" x2="42.30" y2="99.69" stroke="#111" stroke-width="0.6"/>
<line x1="40.30" y1="97.97" x2="42.30" y2="97.97" stroke="#111" stroke-width="0.6"/>
<line x1="40.30" y1="96.45" x2="42.30" y2="96.45" stroke="#111" stroke-width="0.6"/>
<line x1="38.80" y1="95.10" x2="42.30" y2="95.10" stroke="#111" stroke-width="1.1"/>
<text transform="translate(36.30,99.40) scale(0.86,1)" font-size="9" text-anchor="end" fill="#111" stroke="#111" stroke-width="0.15">10<tspan font-size="5.7" dy="-3.3">1</tspan></text>
<line x1="40.30" y1="86.19" x2="42.30" y2="86.19" stroke="#111" stroke-width="0.6"/>
<line x1="40.30" y1="80.98" x2="42.30" y2="80.98" stroke="#111" stroke-width="0.6"/>
<line x1="40.30" y1="77.28" x2="42.30" y2="77.28" stroke="#111" stroke-width="0.6"/>
<line x1="40.30" y1="74.41" x2="42.30" y2="74.41" stroke="#111" stroke-width="0.6"/>
<line x1="40.30" y1="72.07" x2="42.30" y2="72.07" stroke="#111" stroke-width="0.6"/>
<line x1="40.30" y1="70.09" x2="42.30" y2="70.09" stroke="#111" stroke-width="0.6"/>
<line x1="40.30" y1="68.37" x2="42.30" y2="68.37" stroke="#111" stroke-width="0.6"/>
<line x1="40.30" y1="66.85" x2="42.30" y2="66.85" stroke="#111" stroke-width="0.6"/>
<line x1="38.80" y1="65.50" x2="42.30" y2="65.50" stroke="#111" stroke-width="1.1"/>
<text transform="translate(36.30,69.80) scale(0.86,1)" font-size="9" text-anchor="end" fill="#111" stroke="#111" stroke-width="0.15">10<tspan font-size="5.7" dy="-3.3">2</tspan></text>
<line x1="40.30" y1="56.59" x2="42.30" y2="56.59" stroke="#111" stroke-width="0.6"/>
<line x1="40.30" y1="51.38" x2="42.30" y2="51.38" stroke="#111" stroke-width="0.6"/>
<line x1="40.30" y1="47.68" x2="42.30" y2="47.68" stroke="#111" stroke-width="0.6"/>
<line x1="40.30" y1="44.81" x2="42.30" y2="44.81" stroke="#111" stroke-width="0.6"/>
<line x1="40.30" y1="42.47" x2="42.30" y2="42.47" stroke="#111" stroke-width="0.6"/>
<line x1="40.30" y1="40.49" x2="42.30" y2="40.49" stroke="#111" stroke-width="0.6"/>
<line x1="40.30" y1="38.77" x2="42.30" y2="38.77" stroke="#111" stroke-width="0.6"/>
<line x1="40.30" y1="37.25" x2="42.30" y2="37.25" stroke="#111" stroke-width="0.6"/>
<line x1="38.80" y1="35.90" x2="42.30" y2="35.90" stroke="#111" stroke-width="1.1"/>
<text transform="translate(36.30,40.20) scale(0.86,1)" font-size="9" text-anchor="end" fill="#111" stroke="#111" stroke-width="0.15">10<tspan font-size="5.7" dy="-3.3">3</tspan></text>
<line x1="40.30" y1="145.39" x2="42.30" y2="145.39" stroke="#111" stroke-width="0.6"/>
<line x1="40.30" y1="140.18" x2="42.30" y2="140.18" stroke="#111" stroke-width="0.6"/>
<line x1="40.30" y1="136.48" x2="42.30" y2="136.48" stroke="#111" stroke-width="0.6"/>
<line x1="40.30" y1="133.61" x2="42.30" y2="133.61" stroke="#111" stroke-width="0.6"/>
<line x1="40.30" y1="131.27" x2="42.30" y2="131.27" stroke="#111" stroke-width="0.6"/>
<line x1="40.30" y1="129.29" x2="42.30" y2="129.29" stroke="#111" stroke-width="0.6"/>
<line x1="40.30" y1="127.57" x2="42.30" y2="127.57" stroke="#111" stroke-width="0.6"/>
<line x1="40.30" y1="126.05" x2="42.30" y2="126.05" stroke="#111" stroke-width="0.6"/>
<line x1="42.20" y1="154.80" x2="42.20" y2="157.80" stroke="#111" stroke-width="1.1"/>
<text x="0" y="0" transform="translate(42.20,168.40) scale(0.9,1)" font-size="9.3" text-anchor="middle" fill="#111"  stroke="#111" stroke-width="0.15">0</text>
<line x1="53.43" y1="154.80" x2="53.43" y2="156.30" stroke="#111" stroke-width="0.9"/>
<line x1="64.65" y1="154.80" x2="64.65" y2="157.80" stroke="#111" stroke-width="1.1"/>
<text x="0" y="0" transform="translate(64.65,168.40) scale(0.9,1)" font-size="9.3" text-anchor="middle" fill="#111"  stroke="#111" stroke-width="0.15">200</text>
<line x1="75.88" y1="154.80" x2="75.88" y2="156.30" stroke="#111" stroke-width="0.9"/>
<line x1="87.10" y1="154.80" x2="87.10" y2="157.80" stroke="#111" stroke-width="1.1"/>
<text x="0" y="0" transform="translate(87.10,168.40) scale(0.9,1)" font-size="9.3" text-anchor="middle" fill="#111"  stroke="#111" stroke-width="0.15">400</text>
<line x1="98.32" y1="154.80" x2="98.32" y2="156.30" stroke="#111" stroke-width="0.9"/>
<line x1="109.55" y1="154.80" x2="109.55" y2="157.80" stroke="#111" stroke-width="1.1"/>
<text x="0" y="0" transform="translate(109.55,168.40) scale(0.9,1)" font-size="9.3" text-anchor="middle" fill="#111"  stroke="#111" stroke-width="0.15">600</text>
<line x1="120.77" y1="154.80" x2="120.77" y2="156.30" stroke="#111" stroke-width="0.9"/>
<line x1="132.00" y1="154.80" x2="132.00" y2="157.80" stroke="#111" stroke-width="1.1"/>
<text x="0" y="0" transform="translate(132.00,168.40) scale(0.9,1)" font-size="9.3" text-anchor="middle" fill="#111"  stroke="#111" stroke-width="0.15">800</text>
<line x1="143.22" y1="154.80" x2="143.22" y2="156.30" stroke="#111" stroke-width="0.9"/>
<line x1="154.45" y1="154.80" x2="154.45" y2="157.80" stroke="#111" stroke-width="1.1"/>
<text x="0" y="0" transform="translate(154.45,168.40) scale(0.9,1)" font-size="9.3" text-anchor="middle" fill="#111"  stroke="#111" stroke-width="0.15">1000</text>
<text x="0" y="0" transform="translate(99.50,181.80) scale(0.79,1)" font-size="10.5" text-anchor="middle" fill="#111"  stroke="#111" stroke-width="0.15">SSC</text>
<text x="0" y="0" transform="translate(17.00,95.60) rotate(-90) scale(0.85,1)" font-size="10.3" text-anchor="middle" fill="#111"  stroke="#111" stroke-width="0.15">CD11b</text>
<text x="265.20" y="16.20" font-size="10" text-anchor="middle" font-weight="bold" fill="#111"  stroke="#111" stroke-width="0.15">CD11b+</text>
<text x="265.20" y="28.50" font-size="10" text-anchor="middle" font-weight="bold" fill="#111"  stroke="#111" stroke-width="0.15">Gated</text>
<g clip-path="url(#c2)">
<linearGradient id="gg2" x1="0" y1="0" x2="0" y2="1"><stop offset="0" stop-color="#c0f0b8"/><stop offset="0.12" stop-color="#6edc6a"/><stop offset="0.5" stop-color="#98e694"/><stop offset="1" stop-color="#bcefb8"/></linearGradient>
<path d="M267.8,44 L312,41 L312,154 L294,154 L294,107.6 L267.8,107.6 Z" fill="url(#gg2)" filter="url(#b1)"/>
<path d="M295 91h1v1h-1zM284 54h1v1h-1zM301 93h1v1h-1zM298 109h1v1h-1zM307 153h1v1h-1zM282 65h1v1h-1zM300 68h1v1h-1zM311 84h1v1h-1zM300 111h1v1h-1zM297 40h1v1h-1zM269 89h1v1h-1zM305 87h1v1h-1zM289 44h1v1h-1zM294 132h1v1h-1zM302 84h1v1h-1zM308 144h1v1h-1zM298 56h1v1h-1zM304 116h1v1h-1zM283 47h1v1h-1zM307 132h1v1h-1zM286 52h1v1h-1zM303 129h1v1h-1zM305 134h1v1h-1zM308 149h1v1h-1zM300 65h1v1h-1zM287 54h1v1h-1zM301 78h1v1h-1zM300 120h1v1h-1zM293 86h1v1h-1zM271 51h1v1h-1zM273 45h1v1h-1zM300 110h1v1h-1zM299 134h1v1h-1zM277 104h1v1h-1zM279 56h1v1h-1zM295 146h1v1h-1zM279 98h1v1h-1zM308 105h1v1h-1zM273 52h1v1h-1zM296 54h1v1h-1zM284 63h1v1h-1zM279 67h1v1h-1zM286 81h1v1h-1zM307 92h1v1h-1zM304 141h1v1h-1zM289 103h1v1h-1zM295 110h1v1h-1zM306 143h1v1h-1zM301 59h1v1h-1zM304 83h1v1h-1zM278 83h1v1h-1zM303 61h1v1h-1zM277 100h1v1h-1zM278 56h1v1h-1zM271 64h1v1h-1zM291 43h1v1h-1zM301 67h1v1h-1zM304 152h1v1h-1zM310 150h1v1h-1zM299 95h1v1h-1zM299 122h1v1h-1zM311 131h1v1h-1zM297 96h1v1h-1zM287 80h1v1h-1zM288 100h1v1h-1zM272 95h1v1h-1zM275 90h1v1h-1zM289 100h1v1h-1zM310 72h1v1h-1zM276 82h1v1h-1zM294 134h1v1h-1zM293 47h1v1h-1zM308 82h1v1h-1zM307 65h1v1h-1zM302 53h1v1h-1zM307 94h1v1h-1zM274 96h1v1h-1zM305 57h1v1h-1zM288 52h1v1h-1zM308 122h1v1h-1zM294 138h1v1h-1zM294 45h1v1h-1zM275 67h1v1h-1zM290 106h1v1h-1zM288 56h1v1h-1zM309 145h1v1h-1zM307 91h1v1h-1zM300 88h1v1h-1zM269 49h1v1h-1zM299 43h1v1h-1zM291 51h1v1h-1zM298 53h1v1h-1zM270 70h1v1h-1zM273 64h1v1h-1zM294 111h1v1h-1zM294 109h1v1h-1zM290 52h1v1h-1zM296 49h1v1h-1zM311 112h1v1h-1zM293 76h1v1h-1zM283 68h1v1h-1zM307 146h1v1h-1zM305 117h1v1h-1zM293 51h1v1h-1zM279 43h1v1h-1zM308 93h1v1h-1zM271 43h1v1h-1zM294 114h1v1h-1zM307 102h1v1h-1zM299 145h1v1h-1zM296 132h1v1h-1zM268 47h1v1h-1zM309 110h1v1h-1zM272 105h1v1h-1zM282 57h1v1h-1zM307 127h1v1h-1zM306 101h1v1h-1zM289 49h1v1h-1zM307 96h1v1h-1zM297 120h1v1h-1zM277 57h1v1h-1zM296 47h1v1h-1zM310 70h1v1h-1zM281 49h1v1h-1zM306 128h1v1h-1zM298 110h1v1h-1zM297 99h1v1h-1zM298 54h1v1h-1zM305 104h1v1h-1zM299 96h1v1h-1zM296 58h1v1h-1zM294 124h1v1h-1zM304 101h1v1h-1zM304 69h1v1h-1zM283 48h1v1h-1zM298 95h1v1h-1zM306 47h1v1h-1zM298 100h1v1h-1zM279 65h1v1h-1zM310 71h1v1h-1zM272 80h1v1h-1zM296 114h1v1h-1zM295 47h1v1h-1zM300 57h1v1h-1zM310 134h1v1h-1zM309 121h1v1h-1zM304 131h1v1h-1zM297 60h1v1h-1zM270 77h1v1h-1zM309 80h1v1h-1zM305 100h1v1h-1zM274 56h1v1h-1zM303 89h1v1h-1zM309 55h1v1h-1zM287 87h1v1h-1zM276 55h1v1h-1zM297 81h1v1h-1zM281 89h1v1h-1zM296 88h1v1h-1zM272 56h1v1h-1zM307 66h1v1h-1zM275 56h1v1h-1zM293 68h1v1h-1zM297 88h1v1h-1zM296 90h1v1h-1zM296 50h1v1h-1zM305 82h1v1h-1zM290 68h1v1h-1zM310 149h1v1h-1zM309 135h1v1h-1zM286 56h1v1h-1zM279 53h1v1h-1zM293 71h1v1h-1zM282 49h1v1h-1zM285 103h1v1h-1zM290 44h1v1h-1zM293 79h1v1h-1zM276 43h1v1h-1zM274 104h1v1h-1zM268 58h1v1h-1zM294 152h1v1h-1zM304 94h1v1h-1zM285 48h1v1h-1zM309 73h1v1h-1zM301 108h1v1h-1zM307 150h1v1h-1zM268 92h1v1h-1zM305 50h1v1h-1zM277 55h1v1h-1zM297 86h1v1h-1zM291 92h1v1h-1zM298 52h1v1h-1zM308 126h1v1h-1zM283 51h1v1h-1zM285 87h1v1h-1zM310 63h1v1h-1zM276 57h1v1h-1zM290 59h1v1h-1zM307 90h1v1h-1zM294 52h1v1h-1zM307 109h1v1h-1zM270 87h1v1h-1zM300 127h1v1h-1zM295 82h1v1h-1zM304 58h1v1h-1zM305 152h1v1h-1zM309 44h1v1h-1zM273 80h1v1h-1zM292 100h1v1h-1zM281 65h1v1h-1zM294 76h1v1h-1zM305 97h1v1h-1zM299 106h1v1h-1zM295 102h1v1h-1zM300 48h1v1h-1zM279 107h1v1h-1zM279 103h1v1h-1zM309 111h1v1h-1zM306 48h1v1h-1zM311 149h1v1h-1zM300 116h1v1h-1zM289 97h1v1h-1zM298 118h1v1h-1zM288 48h1v1h-1zM304 43h1v1h-1zM303 138h1v1h-1zM309 102h1v1h-1zM310 117h1v1h-1zM299 76h1v1h-1zM292 55h1v1h-1zM288 41h1v1h-1zM287 55h1v1h-1zM295 84h1v1h-1zM306 118h1v1h-1zM311 122h1v1h-1zM305 52h1v1h-1zM302 128h1v1h-1zM270 94h1v1h-1zM294 85h1v1h-1zM280 71h1v1h-1zM305 151h1v1h-1zM281 47h1v1h-1zM273 77h1v1h-1zM273 51h1v1h-1zM306 44h1v1h-1zM305 114h1v1h-1zM304 49h1v1h-1zM309 65h1v1h-1zM301 45h1v1h-1zM296 56h1v1h-1zM297 66h1v1h-1zM291 71h1v1h-1zM306 122h1v1h-1zM306 98h1v1h-1zM297 53h1v1h-1zM281 80h1v1h-1zM281 56h1v1h-1zM286 79h1v1h-1zM299 141h1v1h-1zM301 60h1v1h-1zM268 62h1v1h-1zM275 94h1v1h-1zM296 86h1v1h-1zM298 77h1v1h-1zM304 125h1v1h-1zM280 70h1v1h-1zM292 45h1v1h-1zM293 48h1v1h-1zM300 132h1v1h-1zM292 49h1v1h-1zM303 78h1v1h-1zM301 62h1v1h-1zM288 69h1v1h-1zM299 117h1v1h-1zM308 114h1v1h-1zM301 95h1v1h-1zM291 87h1v1h-1zM285 65h1v1h-1zM300 140h1v1h-1zM305 54h1v1h-1zM300 129h1v1h-1zM296 79h1v1h-1zM297 126h1v1h-1zM301 55h1v1h-1zM297 69h1v1h-1zM301 113h1v1h-1zM295 100h1v1h-1zM282 63h1v1h-1zM309 103h1v1h-1zM303 53h1v1h-1zM291 99h1v1h-1zM271 94h1v1h-1zM311 45h1v1h-1zM302 52h1v1h-1zM294 69h1v1h-1zM291 83h1v1h-1zM303 123h1v1h-1zM299 62h1v1h-1zM268 61h1v1h-1zM306 50h1v1h-1zM309 91h1v1h-1zM302 57h1v1h-1zM297 90h1v1h-1zM288 54h1v1h-1zM280 59h1v1h-1zM307 142h1v1h-1zM287 67h1v1h-1zM295 78h1v1h-1zM291 104h1v1h-1zM302 95h1v1h-1zM308 111h1v1h-1zM292 54h1v1h-1zM284 55h1v1h-1zM289 88h1v1h-1zM283 99h1v1h-1zM311 78h1v1h-1zM303 130h1v1h-1zM285 96h1v1h-1zM301 99h1v1h-1zM297 141h1v1h-1zM303 45h1v1h-1zM277 53h1v1h-1zM300 105h1v1h-1zM280 47h1v1h-1zM311 63h1v1h-1zM270 95h1v1h-1zM300 89h1v1h-1zM297 149h1v1h-1zM294 151h1v1h-1zM282 51h1v1h-1zM297 148h1v1h-1zM300 107h1v1h-1zM273 103h1v1h-1zM300 133h1v1h-1zM287 89h1v1h-1zM302 140h1v1h-1zM299 64h1v1h-1zM298 128h1v1h-1zM311 121h1v1h-1zM301 136h1v1h-1zM308 89h1v1h-1zM280 46h1v1h-1zM299 119h1v1h-1zM277 99h1v1h-1zM309 117h1v1h-1zM308 130h1v1h-1zM301 84h1v1h-1zM302 46h1v1h-1zM294 123h1v1h-1zM297 142h1v1h-1zM279 72h1v1h-1zM296 57h1v1h-1zM288 43h1v1h-1zM289 70h1v1h-1zM298 99h1v1h-1zM295 49h1v1h-1zM287 91h1v1h-1zM284 66h1v1h-1zM295 46h1v1h-1zM308 72h1v1h-1zM293 82h1v1h-1zM311 54h1v1h-1zM297 140h1v1h-1zM268 52h1v1h-1zM273 89h1v1h-1zM299 150h1v1h-1zM294 140h1v1h-1zM273 58h1v1h-1zM298 126h1v1h-1zM302 76h1v1h-1zM300 153h1v1h-1zM310 81h1v1h-1zM311 88h1v1h-1zM301 120h1v1h-1zM308 148h1v1h-1zM297 95h1v1h-1zM304 126h1v1h-1zM300 78h1v1h-1zM307 147h1v1h-1zM284 80h1v1h-1zM294 43h1v1h-1zM308 47h1v1h-1zM299 125h1v1h-1zM290 81h1v1h-1zM310 143h1v1h-1zM301 83h1v1h-1zM297 82h1v1h-1zM307 83h1v1h-1zM283 87h1v1h-1zM301 139h1v1h-1zM289 64h1v1h-1zM305 113h1v1h-1zM296 61h1v1h-1zM283 105h1v1h-1zM291 77h1v1h-1zM300 81h1v1h-1zM300 82h1v1h-1zM305 102h1v1h-1zM298 102h1v1h-1zM278 44h1v1h-1zM275 72h1v1h-1zM296 80h1v1h-1zM274 44h1v1h-1zM299 55h1v1h-1zM297 47h1v1h-1zM298 58h1v1h-1zM270 50h1v1h-1zM295 106h1v1h-1zM296 96h1v1h-1zM304 74h1v1h-1zM286 85h1v1h-1zM301 53h1v1h-1zM277 66h1v1h-1zM271 84h1v1h-1zM305 74h1v1h-1zM303 122h1v1h-1zM279 68h1v1h-1zM289 81h1v1h-1zM302 86h1v1h-1zM306 76h1v1h-1zM293 91h1v1h-1zM298 133h1v1h-1zM300 124h1v1h-1zM308 46h1v1h-1zM269 55h1v1h-1zM291 91h1v1h-1zM268 100h1v1h-1zM271 46h1v1h-1zM285 59h1v1h-1zM282 48h1v1h-1zM299 143h1v1h-1zM305 89h1v1h-1zM305 83h1v1h-1zM269 63h1v1h-1zM308 75h1v1h-1zM310 118h1v1h-1zM272 81h1v1h-1zM309 87h1v1h-1zM279 45h1v1h-1zM311 103h1v1h-1zM299 114h1v1h-1zM272 47h1v1h-1zM311 123h1v1h-1zM305 141h1v1h-1zM296 131h1v1h-1zM295 133h1v1h-1zM309 115h1v1h-1zM309 71h1v1h-1zM307 122h1v1h-1zM309 140h1v1h-1zM291 44h1v1h-1zM296 53h1v1h-1zM294 48h1v1h-1zM269 53h1v1h-1zM296 151h1v1h-1zM298 49h1v1h-1zM298 81h1v1h-1zM287 56h1v1h-1zM309 52h1v1h-1zM296 62h1v1h-1zM305 91h1v1h-1zM287 45h1v1h-1zM281 48h1v1h-1zM305 153h1v1h-1zM302 119h1v1h-1zM299 87h1v1h-1zM301 119h1v1h-1zM300 148h1v1h-1zM298 131h1v1h-1zM307 75h1v1h-1zM302 82h1v1h-1zM307 64h1v1h-1zM274 59h1v1h-1zM297 139h1v1h-1zM311 126h1v1h-1zM294 86h1v1h-1zM299 139h1v1h-1zM303 86h1v1h-1zM306 125h1v1h-1zM290 46h1v1h-1zM293 66h1v1h-1zM292 81h1v1h-1zM281 46h1v1h-1zM306 108h1v1h-1zM296 77h1v1h-1zM280 61h1v1h-1zM299 121h1v1h-1zM286 47h1v1h-1zM287 43h1v1h-1zM300 92h1v1h-1zM303 100h1v1h-1zM293 70h1v1h-1zM288 73h1v1h-1zM297 111h1v1h-1zM310 52h1v1h-1zM307 51h1v1h-1zM295 69h1v1h-1zM289 47h1v1h-1zM296 44h1v1h-1zM305 69h1v1h-1zM283 103h1v1h-1zM309 104h1v1h-1zM304 104h1v1h-1zM296 74h1v1h-1zM301 117h1v1h-1zM298 83h1v1h-1zM307 116h1v1h-1zM289 45h1v1h-1zM304 107h1v1h-1zM294 142h1v1h-1zM288 90h1v1h-1zM293 65h1v1h-1zM296 152h1v1h-1zM280 51h1v1h-1zM277 43h1v1h-1zM305 112h1v1h-1zM301 54h1v1h-1zM294 99h1v1h-1zM306 61h1v1h-1zM307 77h1v1h-1zM274 54h1v1h-1zM278 90h1v1h-1zM299 124h1v1h-1zM309 133h1v1h-1zM304 97h1v1h-1zM295 98h1v1h-1zM309 126h1v1h-1zM311 89h1v1h-1zM289 95h1v1h-1zM302 68h1v1h-1zM285 93h1v1h-1zM304 147h1v1h-1zM300 102h1v1h-1zM311 117h1v1h-1zM285 47h1v1h-1zM301 76h1v1h-1zM272 89h1v1h-1zM303 87h1v1h-1zM306 73h1v1h-1zM311 74h1v1h-1zM296 78h1v1h-1zM299 105h1v1h-1zM285 56h1v1h-1zM270 54h1v1h-1zM310 137h1v1h-1zM300 98h1v1h-1zM289 106h1v1h-1zM309 152h1v1h-1zM292 51h1v1h-1zM308 67h1v1h-1zM294 128h1v1h-1zM304 99h1v1h-1zM275 47h1v1h-1zM295 85h1v1h-1zM299 81h1v1h-1zM310 102h1v1h-1zM297 64h1v1h-1zM294 83h1v1h-1zM308 153h1v1h-1zM276 67h1v1h-1zM299 69h1v1h-1zM284 101h1v1h-1zM303 144h1v1h-1zM303 126h1v1h-1zM287 63h1v1h-1zM298 82h1v1h-1zM284 70h1v1h-1zM301 89h1v1h-1zM306 57h1v1h-1zM304 88h1v1h-1zM308 56h1v1h-1zM304 75h1v1h-1zM277 69h1v1h-1zM286 54h1v1h-1zM292 70h1v1h-1zM299 144h1v1h-1zM293 74h1v1h-1zM294 127h1v1h-1zM306 145h1v1h-1zM304 102h1v1h-1zM302 141h1v1h-1zM309 82h1v1h-1zM294 145h1v1h-1zM269 101h1v1h-1zM281 61h1v1h-1zM294 78h1v1h-1zM296 40h1v1h-1zM307 46h1v1h-1zM310 122h1v1h-1zM287 59h1v1h-1zM306 69h1v1h-1zM303 105h1v1h-1zM267 53h1v1h-1zM309 90h1v1h-1zM307 133h1v1h-1zM280 52h1v1h-1zM279 61h1v1h-1zM284 40h1v1h-1zM292 43h1v1h-1zM291 64h1v1h-1zM310 132h1v1h-1zM310 104h1v1h-1zM296 123h1v1h-1zM297 83h1v1h-1zM283 66h1v1h-1zM292 59h1v1h-1zM280 82h1v1h-1zM310 100h1v1h-1zM290 98h1v1h-1zM275 64h1v1h-1zM280 44h1v1h-1zM293 53h1v1h-1zM302 117h1v1h-1zM284 65h1v1h-1zM311 53h1v1h-1zM308 45h1v1h-1zM310 76h1v1h-1zM295 141h1v1h-1zM300 117h1v1h-1zM308 100h1v1h-1zM297 94h1v1h-1zM297 108h1v1h-1zM303 103h1v1h-1zM275 87h1v1h-1zM286 69h1v1h-1zM269 46h1v1h-1zM308 120h1v1h-1zM279 55h1v1h-1zM285 94h1v1h-1zM299 137h1v1h-1zM297 46h1v1h-1zM293 87h1v1h-1zM307 131h1v1h-1zM284 97h1v1h-1zM311 143h1v1h-1zM296 143h1v1h-1zM279 62h1v1h-1zM287 99h1v1h-1zM278 79h1v1h-1zM296 67h1v1h-1zM306 129h1v1h-1zM302 62h1v1h-1zM289 107h1v1h-1zM283 49h1v1h-1zM304 118h1v1h-1zM310 44h1v1h-1zM272 106h1v1h-1zM303 108h1v1h-1zM295 152h1v1h-1zM303 150h1v1h-1zM296 147h1v1h-1zM284 71h1v1h-1zM302 88h1v1h-1zM296 107h1v1h-1zM297 106h1v1h-1zM274 61h1v1h-1zM288 67h1v1h-1zM294 84h1v1h-1zM277 63h1v1h-1zM281 51h1v1h-1zM288 85h1v1h-1zM272 94h1v1h-1zM294 79h1v1h-1zM303 55h1v1h-1zM308 81h1v1h-1zM297 77h1v1h-1zM292 53h1v1h-1zM282 67h1v1h-1zM305 71h1v1h-1zM307 69h1v1h-1zM303 52h1v1h-1zM288 75h1v1h-1zM281 71h1v1h-1zM306 83h1v1h-1zM303 117h1v1h-1zM309 146h1v1h-1zM304 151h1v1h-1zM276 46h1v1h-1zM296 72h1v1h-1zM282 106h1v1h-1zM277 103h1v1h-1zM287 70h1v1h-1zM302 136h1v1h-1zM287 102h1v1h-1zM294 70h1v1h-1zM289 75h1v1h-1zM310 89h1v1h-1zM294 50h1v1h-1zM300 130h1v1h-1zM297 54h1v1h-1zM272 104h1v1h-1zM300 109h1v1h-1zM308 66h1v1h-1zM299 65h1v1h-1zM304 73h1v1h-1zM299 67h1v1h-1zM273 63h1v1h-1zM311 55h1v1h-1zM311 100h1v1h-1zM306 78h1v1h-1zM303 69h1v1h-1zM278 84h1v1h-1zM304 130h1v1h-1zM297 58h1v1h-1zM286 59h1v1h-1zM290 79h1v1h-1zM293 54h1v1h-1zM271 56h1v1h-1zM291 60h1v1h-1zM297 131h1v1h-1zM293 77h1v1h-1zM298 48h1v1h-1zM274 94h1v1h-1zM282 46h1v1h-1zM308 102h1v1h-1zM301 112h1v1h-1zM309 124h1v1h-1zM274 70h1v1h-1zM282 59h1v1h-1zM272 96h1v1h-1zM298 143h1v1h-1zM296 141h1v1h-1zM295 44h1v1h-1zM299 136h1v1h-1zM307 86h1v1h-1zM286 55h1v1h-1zM268 87h1v1h-1zM307 137h1v1h-1zM294 150h1v1h-1zM307 126h1v1h-1zM305 72h1v1h-1zM306 119h1v1h-1zM269 74h1v1h-1zM305 60h1v1h-1zM273 106h1v1h-1zM301 47h1v1h-1zM297 43h1v1h-1zM295 144h1v1h-1zM270 67h1v1h-1zM311 71h1v1h-1zM300 113h1v1h-1zM291 61h1v1h-1zM280 99h1v1h-1zM301 64h1v1h-1zM296 43h1v1h-1zM298 60h1v1h-1zM294 112h1v1h-1zM276 47h1v1h-1zM302 144h1v1h-1zM304 55h1v1h-1zM299 132h1v1h-1zM269 52h1v1h-1zM304 117h1v1h-1zM297 128h1v1h-1zM294 100h1v1h-1zM278 49h1v1h-1zM304 70h1v1h-1zM304 61h1v1h-1zM276 40h1v1h-1zM269 65h1v1h-1zM308 129h1v1h-1zM304 110h1v1h-1zM273 60h1v1h-1zM303 91h1v1h-1zM311 94h1v1h-1zM288 74h1v1h-1zM301 79h1v1h-1zM281 53h1v1h-1zM302 120h1v1h-1zM302 107h1v1h-1zM275 46h1v1h-1zM268 68h1v1h-1zM298 119h1v1h-1zM308 70h1v1h-1zM310 105h1v1h-1zM301 63h1v1h-1zM273 100h1v1h-1zM287 81h1v1h-1zM298 112h1v1h-1zM311 86h1v1h-1zM278 74h1v1h-1zM302 85h1v1h-1zM307 112h1v1h-1zM300 150h1v1h-1zM307 89h1v1h-1zM309 63h1v1h-1zM275 74h1v1h-1zM284 92h1v1h-1zM282 97h1v1h-1zM309 138h1v1h-1zM268 46h1v1h-1zM305 77h1v1h-1zM301 101h1v1h-1zM299 142h1v1h-1zM304 76h1v1h-1zM268 45h1v1h-1zM307 101h1v1h-1zM284 45h1v1h-1zM302 115h1v1h-1zM276 60h1v1h-1zM308 63h1v1h-1zM274 63h1v1h-1zM286 67h1v1h-1zM278 70h1v1h-1zM275 45h1v1h-1zM281 85h1v1h-1zM300 128h1v1h-1zM277 44h1v1h-1zM284 73h1v1h-1zM305 136h1v1h-1zM294 146h1v1h-1zM309 109h1v1h-1zM306 152h1v1h-1zM297 102h1v1h-1zM278 93h1v1h-1zM303 120h1v1h-1zM302 79h1v1h-1zM279 79h1v1h-1zM303 83h1v1h-1zM292 66h1v1h-1zM297 138h1v1h-1zM274 69h1v1h-1zM308 107h1v1h-1zM284 56h1v1h-1zM293 97h1v1h-1zM310 112h1v1h-1zM302 149h1v1h-1zM297 63h1v1h-1zM301 80h1v1h-1zM270 41h1v1h-1zM284 78h1v1h-1zM308 51h1v1h-1zM304 57h1v1h-1zM276 49h1v1h-1zM299 152h1v1h-1zM298 130h1v1h-1zM270 61h1v1h-1zM275 89h1v1h-1zM270 102h1v1h-1zM297 109h1v1h-1zM298 150h1v1h-1zM304 79h1v1h-1zM296 137h1v1h-1zM276 97h1v1h-1zM286 63h1v1h-1zM310 77h1v1h-1zM308 108h1v1h-1zM273 53h1v1h-1zM286 105h1v1h-1zM298 90h1v1h-1zM289 73h1v1h-1zM280 91h1v1h-1zM268 57h1v1h-1zM282 79h1v1h-1zM294 65h1v1h-1zM304 115h1v1h-1zM275 96h1v1h-1zM286 53h1v1h-1zM288 68h1v1h-1zM305 68h1v1h-1zM295 140h1v1h-1zM288 53h1v1h-1zM295 70h1v1h-1zM282 43h1v1h-1zM298 75h1v1h-1zM273 81h1v1h-1zM303 67h1v1h-1zM300 63h1v1h-1zM310 144h1v1h-1zM280 92h1v1h-1zM311 130h1v1h-1zM300 73h1v1h-1zM290 48h1v1h-1zM305 105h1v1h-1zM307 59h1v1h-1zM287 82h1v1h-1zM289 79h1v1h-1zM300 112h1v1h-1zM299 85h1v1h-1zM311 147h1v1h-1zM288 70h1v1h-1zM286 76h1v1h-1zM294 121h1v1h-1zM294 143h1v1h-1zM294 118h1v1h-1zM272 103h1v1h-1zM310 65h1v1h-1zM282 61h1v1h-1zM272 75h1v1h-1zM269 66h1v1h-1zM309 101h1v1h-1zM311 50h1v1h-1zM289 72h1v1h-1zM276 100h1v1h-1zM290 55h1v1h-1zM291 84h1v1h-1zM296 110h1v1h-1zM296 92h1v1h-1zM268 64h1v1h-1zM311 119h1v1h-1zM305 67h1v1h-1zM291 65h1v1h-1zM299 129h1v1h-1zM308 53h1v1h-1zM289 46h1v1h-1zM291 88h1v1h-1zM307 110h1v1h-1zM300 91h1v1h-1zM287 83h1v1h-1zM296 100h1v1h-1zM297 85h1v1h-1zM306 95h1v1h-1zM298 101h1v1h-1zM273 47h1v1h-1zM291 73h1v1h-1zM277 68h1v1h-1zM310 123h1v1h-1zM311 90h1v1h-1zM268 105h1v1h-1zM306 65h1v1h-1zM309 105h1v1h-1zM279 66h1v1h-1zM300 59h1v1h-1zM281 50h1v1h-1zM310 82h1v1h-1zM301 48h1v1h-1zM306 77h1v1h-1zM276 75h1v1h-1zM310 110h1v1h-1zM276 48h1v1h-1zM280 56h1v1h-1zM300 44h1v1h-1zM273 83h1v1h-1zM271 100h1v1h-1zM308 143h1v1h-1zM288 102h1v1h-1zM300 137h1v1h-1zM271 65h1v1h-1zM301 123h1v1h-1zM302 74h1v1h-1zM299 99h1v1h-1zM309 130h1v1h-1zM311 56h1v1h-1zM292 76h1v1h-1zM307 152h1v1h-1zM292 95h1v1h-1zM304 148h1v1h-1zM296 45h1v1h-1zM276 92h1v1h-1zM275 85h1v1h-1zM285 98h1v1h-1zM300 118h1v1h-1zM284 53h1v1h-1zM299 147h1v1h-1zM306 94h1v1h-1zM308 65h1v1h-1zM311 140h1v1h-1zM299 59h1v1h-1zM299 51h1v1h-1zM309 57h1v1h-1zM287 69h1v1h-1zM304 124h1v1h-1zM293 75h1v1h-1zM291 57h1v1h-1zM303 128h1v1h-1zM277 94h1v1h-1zM299 107h1v1h-1zM269 88h1v1h-1zM301 73h1v1h-1zM282 68h1v1h-1zM295 64h1v1h-1zM308 147h1v1h-1zM300 104h1v1h-1zM287 62h1v1h-1zM297 93h1v1h-1zM308 139h1v1h-1zM285 83h1v1h-1zM297 112h1v1h-1zM279 54h1v1h-1zM305 148h1v1h-1zM289 102h1v1h-1zM302 49h1v1h-1zM311 58h1v1h-1zM292 47h1v1h-1zM290 51h1v1h-1zM301 58h1v1h-1zM310 111h1v1h-1zM294 68h1v1h-1zM296 52h1v1h-1zM297 150h1v1h-1zM300 56h1v1h-1zM269 86h1v1h-1zM295 56h1v1h-1zM311 102h1v1h-1zM297 117h1v1h-1zM302 67h1v1h-1zM311 91h1v1h-1zM301 107h1v1h-1zM307 107h1v1h-1zM299 57h1v1h-1zM288 103h1v1h-1zM277 106h1v1h-1zM300 46h1v1h-1zM270 62h1v1h-1zM284 58h1v1h-1zM281 74h1v1h-1zM270 60h1v1h-1zM286 107h1v1h-1zM305 65h1v1h-1zM306 54h1v1h-1zM284 74h1v1h-1zM308 131h1v1h-1zM300 135h1v1h-1zM276 65h1v1h-1zM311 52h1v1h-1zM311 135h1v1h-1zM296 149h1v1h-1zM298 85h1v1h-1zM281 45h1v1h-1zM310 62h1v1h-1zM283 91h1v1h-1zM303 57h1v1h-1zM297 67h1v1h-1zM294 47h1v1h-1zM311 129h1v1h-1zM268 65h1v1h-1zM298 144h1v1h-1zM281 59h1v1h-1zM293 52h1v1h-1zM309 72h1v1h-1zM296 104h1v1h-1zM274 89h1v1h-1zM290 85h1v1h-1zM294 153h1v1h-1zM311 66h1v1h-1zM282 66h1v1h-1zM301 44h1v1h-1zM296 70h1v1h-1zM305 55h1v1h-1zM308 136h1v1h-1zM288 46h1v1h-1zM274 53h1v1h-1zM302 51h1v1h-1zM275 43h1v1h-1zM299 104h1v1h-1zM290 53h1v1h-1zM270 68h1v1h-1zM300 139h1v1h-1zM303 148h1v1h-1zM297 73h1v1h-1zM311 114h1v1h-1zM275 81h1v1h-1zM300 58h1v1h-1zM296 93h1v1h-1zM285 40h1v1h-1zM296 75h1v1h-1zM280 63h1v1h-1zM274 77h1v1h-1zM286 73h1v1h-1zM295 90h1v1h-1zM302 146h1v1h-1zM268 67h1v1h-1zM293 62h1v1h-1zM288 105h1v1h-1zM307 48h1v1h-1zM311 125h1v1h-1zM303 121h1v1h-1zM305 126h1v1h-1zM274 57h1v1h-1zM273 62h1v1h-1zM277 49h1v1h-1zM307 61h1v1h-1zM310 83h1v1h-1zM309 123h1v1h-1zM295 127h1v1h-1zM288 50h1v1h-1zM302 75h1v1h-1zM307 119h1v1h-1zM294 63h1v1h-1zM302 65h1v1h-1zM304 121h1v1h-1zM292 67h1v1h-1zM302 55h1v1h-1zM294 59h1v1h-1zM273 93h1v1h-1zM286 45h1v1h-1zM278 65h1v1h-1zM269 56h1v1h-1zM307 113h1v1h-1zM288 49h1v1h-1zM289 61h1v1h-1zM301 141h1v1h-1zM275 57h1v1h-1zM277 93h1v1h-1zM292 84h1v1h-1zM299 153h1v1h-1zM311 59h1v1h-1zM302 122h1v1h-1zM277 45h1v1h-1zM298 125h1v1h-1zM270 58h1v1h-1zM278 77h1v1h-1zM280 53h1v1h-1zM280 87h1v1h-1zM283 61h1v1h-1zM279 94h1v1h-1zM285 97h1v1h-1zM305 73h1v1h-1zM309 93h1v1h-1zM297 74h1v1h-1zM293 61h1v1h-1zM310 94h1v1h-1zM310 58h1v1h-1zM308 138h1v1h-1zM282 75h1v1h-1zM303 127h1v1h-1zM290 69h1v1h-1zM268 74h1v1h-1zM282 54h1v1h-1zM271 57h1v1h-1zM293 64h1v1h-1zM290 90h1v1h-1zM297 56h1v1h-1zM308 87h1v1h-1zM271 44h1v1h-1zM310 140h1v1h-1zM290 50h1v1h-1zM279 83h1v1h-1zM305 110h1v1h-1zM267 84h1v1h-1zM301 152h1v1h-1zM298 149h1v1h-1zM280 65h1v1h-1zM309 49h1v1h-1zM311 70h1v1h-1zM284 99h1v1h-1zM306 74h1v1h-1zM298 67h1v1h-1zM307 149h1v1h-1zM309 46h1v1h-1zM298 145h1v1h-1zM293 57h1v1h-1zM295 86h1v1h-1zM286 50h1v1h-1zM283 77h1v1h-1zM307 136h1v1h-1zM273 50h1v1h-1zM301 124h1v1h-1zM287 49h1v1h-1zM281 66h1v1h-1zM307 95h1v1h-1zM300 66h1v1h-1zM274 43h1v1h-1zM310 151h1v1h-1zM298 63h1v1h-1zM291 66h1v1h-1zM291 62h1v1h-1zM308 91h1v1h-1zM299 54h1v1h-1zM294 98h1v1h-1zM296 108h1v1h-1zM293 45h1v1h-1zM302 150h1v1h-1zM275 48h1v1h-1zM301 85h1v1h-1zM308 48h1v1h-1zM309 74h1v1h-1zM270 56h1v1h-1zM299 97h1v1h-1zM281 76h1v1h-1zM294 93h1v1h-1zM295 138h1v1h-1zM294 97h1v1h-1zM289 60h1v1h-1zM272 90h1v1h-1zM309 77h1v1h-1zM277 70h1v1h-1zM278 64h1v1h-1zM306 86h1v1h-1zM282 71h1v1h-1zM310 93h1v1h-1zM298 55h1v1h-1zM287 68h1v1h-1zM274 92h1v1h-1zM302 87h1v1h-1zM299 89h1v1h-1zM308 79h1v1h-1zM298 61h1v1h-1zM297 130h1v1h-1zM295 88h1v1h-1zM306 91h1v1h-1zM280 58h1v1h-1zM278 58h1v1h-1zM302 116h1v1h-1zM308 96h1v1h-1zM272 88h1v1h-1zM303 43h1v1h-1zM303 97h1v1h-1zM305 145h1v1h-1zM294 125h1v1h-1zM288 62h1v1h-1zM296 83h1v1h-1zM303 62h1v1h-1zM271 92h1v1h-1zM288 59h1v1h-1zM303 146h1v1h-1zM284 61h1v1h-1zM273 59h1v1h-1zM311 83h1v1h-1zM297 113h1v1h-1zM302 139h1v1h-1zM309 43h1v1h-1zM290 66h1v1h-1zM272 69h1v1h-1zM310 113h1v1h-1zM306 126h1v1h-1zM268 50h1v1h-1zM309 128h1v1h-1zM293 60h1v1h-1zM269 105h1v1h-1zM270 101h1v1h-1zM304 96h1v1h-1zM268 102h1v1h-1zM295 55h1v1h-1zM307 128h1v1h-1zM304 68h1v1h-1zM276 76h1v1h-1zM295 103h1v1h-1zM287 51h1v1h-1zM299 93h1v1h-1zM310 69h1v1h-1zM302 123h1v1h-1zM310 124h1v1h-1zM276 101h1v1h-1zM309 89h1v1h-1zM306 99h1v1h-1zM295 60h1v1h-1zM287 47h1v1h-1zM271 105h1v1h-1zM309 76h1v1h-1zM305 111h1v1h-1zM279 82h1v1h-1zM268 85h1v1h-1zM292 80h1v1h-1zM297 89h1v1h-1zM300 125h1v1h-1zM292 46h1v1h-1zM274 101h1v1h-1zM304 47h1v1h-1zM278 55h1v1h-1zM311 65h1v1h-1zM296 119h1v1h-1zM272 60h1v1h-1zM280 54h1v1h-1zM269 50h1v1h-1zM302 106h1v1h-1zM289 76h1v1h-1zM306 106h1v1h-1zM272 82h1v1h-1zM301 116h1v1h-1zM309 81h1v1h-1zM310 60h1v1h-1zM287 86h1v1h-1zM297 118h1v1h-1zM307 82h1v1h-1zM300 61h1v1h-1zM304 137h1v1h-1zM300 122h1v1h-1zM309 144h1v1h-1zM289 94h1v1h-1zM299 61h1v1h-1zM300 123h1v1h-1zM305 59h1v1h-1zM278 63h1v1h-1zM288 78h1v1h-1zM294 106h1v1h-1zM282 105h1v1h-1zM297 103h1v1h-1zM272 43h1v1h-1zM267 99h1v1h-1zM300 77h1v1h-1zM298 134h1v1h-1zM285 67h1v1h-1zM310 79h1v1h-1zM270 59h1v1h-1zM302 118h1v1h-1zM302 138h1v1h-1zM291 101h1v1h-1zM310 92h1v1h-1zM293 83h1v1h-1zM300 74h1v1h-1zM272 50h1v1h-1zM298 147h1v1h-1zM298 50h1v1h-1zM295 65h1v1h-1zM301 68h1v1h-1zM284 64h1v1h-1zM289 52h1v1h-1zM295 99h1v1h-1zM305 47h1v1h-1zM273 71h1v1h-1zM306 141h1v1h-1zM311 148h1v1h-1zM267 90h1v1h-1zM269 43h1v1h-1zM307 71h1v1h-1zM294 116h1v1h-1zM276 85h1v1h-1zM307 106h1v1h-1zM291 50h1v1h-1zM302 83h1v1h-1zM305 118h1v1h-1zM298 114h1v1h-1zM282 69h1v1h-1zM282 70h1v1h-1zM308 43h1v1h-1zM295 74h1v1h-1zM308 113h1v1h-1zM280 75h1v1h-1zM311 124h1v1h-1zM296 105h1v1h-1zM306 45h1v1h-1zM292 87h1v1h-1zM277 107h1v1h-1zM300 55h1v1h-1zM290 62h1v1h-1zM288 65h1v1h-1zM296 148h1v1h-1zM302 111h1v1h-1zM269 51h1v1h-1zM308 99h1v1h-1zM302 132h1v1h-1zM307 124h1v1h-1zM298 78h1v1h-1zM277 56h1v1h-1zM276 59h1v1h-1zM270 86h1v1h-1zM305 103h1v1h-1zM307 140h1v1h-1zM311 152h1v1h-1zM298 92h1v1h-1zM277 89h1v1h-1zM289 105h1v1h-1zM294 87h1v1h-1zM274 75h1v1h-1zM301 144h1v1h-1zM277 54h1v1h-1zM293 56h1v1h-1zM301 149h1v1h-1zM302 145h1v1h-1zM295 57h1v1h-1zM301 150h1v1h-1zM309 139h1v1h-1zM303 134h1v1h-1zM270 98h1v1h-1zM305 43h1v1h-1zM301 103h1v1h-1zM306 49h1v1h-1zM310 148h1v1h-1zM303 107h1v1h-1zM292 96h1v1h-1zM301 51h1v1h-1zM268 104h1v1h-1zM298 111h1v1h-1zM285 63h1v1h-1zM282 53h1v1h-1zM290 93h1v1h-1zM270 44h1v1h-1zM311 110h1v1h-1zM282 72h1v1h-1zM304 103h1v1h-1zM299 133h1v1h-1zM303 51h1v1h-1zM298 104h1v1h-1zM288 88h1v1h-1zM294 136h1v1h-1zM269 59h1v1h-1zM286 74h1v1h-1zM309 67h1v1h-1zM300 131h1v1h-1zM300 147h1v1h-1zM304 140h1v1h-1zM299 52h1v1h-1zM268 89h1v1h-1zM306 146h1v1h-1zM282 87h1v1h-1zM305 130h1v1h-1zM296 73h1v1h-1zM301 50h1v1h-1zM308 57h1v1h-1zM290 54h1v1h-1zM304 144h1v1h-1zM297 123h1v1h-1zM294 102h1v1h-1zM289 63h1v1h-1zM272 63h1v1h-1zM301 71h1v1h-1zM307 73h1v1h-1zM304 45h1v1h-1zM305 58h1v1h-1zM300 121h1v1h-1zM281 72h1v1h-1zM310 115h1v1h-1zM275 71h1v1h-1zM289 83h1v1h-1zM311 87h1v1h-1zM282 52h1v1h-1zM293 85h1v1h-1zM288 66h1v1h-1zM299 66h1v1h-1zM289 50h1v1h-1zM310 141h1v1h-1zM297 110h1v1h-1zM302 89h1v1h-1zM309 45h1v1h-1zM295 129h1v1h-1zM310 147h1v1h-1zM309 68h1v1h-1zM291 46h1v1h-1zM304 62h1v1h-1zM283 80h1v1h-1zM286 104h1v1h-1zM297 101h1v1h-1zM270 47h1v1h-1zM301 111h1v1h-1zM283 54h1v1h-1zM283 89h1v1h-1zM284 76h1v1h-1zM298 89h1v1h-1zM309 53h1v1h-1zM279 101h1v1h-1zM299 149h1v1h-1zM301 77h1v1h-1zM282 95h1v1h-1zM295 93h1v1h-1zM298 105h1v1h-1zM302 96h1v1h-1zM293 72h1v1h-1zM281 64h1v1h-1zM302 104h1v1h-1zM282 60h1v1h-1zM301 105h1v1h-1zM281 88h1v1h-1zM288 93h1v1h-1zM297 49h1v1h-1zM289 58h1v1h-1zM288 57h1v1h-1zM302 148h1v1h-1zM307 49h1v1h-1zM311 43h1v1h-1zM298 153h1v1h-1zM306 70h1v1h-1zM297 132h1v1h-1zM302 130h1v1h-1zM305 127h1v1h-1zM300 87h1v1h-1zM293 80h1v1h-1zM295 62h1v1h-1zM291 76h1v1h-1zM280 85h1v1h-1zM309 150h1v1h-1zM305 139h1v1h-1zM306 80h1v1h-1zM286 64h1v1h-1zM302 112h1v1h-1zM297 133h1v1h-1zM302 137h1v1h-1zM300 43h1v1h-1zM297 134h1v1h-1zM298 91h1v1h-1zM282 99h1v1h-1zM287 79h1v1h-1zM283 45h1v1h-1zM309 100h1v1h-1zM296 133h1v1h-1zM290 56h1v1h-1zM307 84h1v1h-1zM302 78h1v1h-1zM270 81h1v1h-1zM285 64h1v1h-1zM293 46h1v1h-1zM277 47h1v1h-1zM311 150h1v1h-1zM287 105h1v1h-1zM309 127h1v1h-1zM290 86h1v1h-1zM275 75h1v1h-1zM297 78h1v1h-1zM305 66h1v1h-1zM295 123h1v1h-1zM298 88h1v1h-1zM296 130h1v1h-1zM296 134h1v1h-1zM303 110h1v1h-1zM271 60h1v1h-1zM281 95h1v1h-1zM277 97h1v1h-1zM291 78h1v1h-1zM306 53h1v1h-1zM296 69h1v1h-1zM302 100h1v1h-1zM273 48h1v1h-1zM309 153h1v1h-1zM275 76h1v1h-1zM277 73h1v1h-1zM306 116h1v1h-1zM310 87h1v1h-1zM308 123h1v1h-1zM281 68h1v1h-1zM303 94h1v1h-1zM305 106h1v1h-1zM298 137h1v1h-1zM308 134h1v1h-1zM300 80h1v1h-1zM292 105h1v1h-1zM275 54h1v1h-1zM296 103h1v1h-1zM272 73h1v1h-1zM307 103h1v1h-1zM292 89h1v1h-1zM270 65h1v1h-1zM308 140h1v1h-1zM292 85h1v1h-1zM279 50h1v1h-1zM302 97h1v1h-1zM278 62h1v1h-1zM275 63h1v1h-1zM273 94h1v1h-1zM291 49h1v1h-1zM307 98h1v1h-1zM271 48h1v1h-1zM290 80h1v1h-1zM281 55h1v1h-1zM297 72h1v1h-1zM306 92h1v1h-1zM277 64h1v1h-1zM268 86h1v1h-1zM304 72h1v1h-1zM301 52h1v1h-1zM298 103h1v1h-1zM275 79h1v1h-1zM306 59h1v1h-1zM299 58h1v1h-1zM296 84h1v1h-1zM287 75h1v1h-1zM303 133h1v1h-1zM277 96h1v1h-1zM281 60h1v1h-1zM289 67h1v1h-1zM302 47h1v1h-1zM298 115h1v1h-1zM285 74h1v1h-1zM310 101h1v1h-1zM294 147h1v1h-1zM287 76h1v1h-1zM278 71h1v1h-1zM291 81h1v1h-1zM272 66h1v1h-1zM298 57h1v1h-1zM305 99h1v1h-1zM283 55h1v1h-1zM298 94h1v1h-1zM277 91h1v1h-1zM296 136h1v1h-1zM303 125h1v1h-1zM300 47h1v1h-1zM279 97h1v1h-1zM302 61h1v1h-1zM293 84h1v1h-1zM302 135h1v1h-1zM285 105h1v1h-1zM269 102h1v1h-1zM276 96h1v1h-1zM309 149h1v1h-1zM310 61h1v1h-1zM300 52h1v1h-1zM303 65h1v1h-1zM299 108h1v1h-1zM290 82h1v1h-1zM301 72h1v1h-1zM293 102h1v1h-1zM294 129h1v1h-1zM289 85h1v1h-1zM275 82h1v1h-1zM304 89h1v1h-1zM311 68h1v1h-1zM301 75h1v1h-1zM308 74h1v1h-1zM287 64h1v1h-1zM299 86h1v1h-1zM294 135h1v1h-1zM285 95h1v1h-1zM294 120h1v1h-1zM296 142h1v1h-1zM310 59h1v1h-1zM299 45h1v1h-1zM289 84h1v1h-1zM310 78h1v1h-1zM303 106h1v1h-1zM310 90h1v1h-1zM308 119h1v1h-1zM307 145h1v1h-1zM275 83h1v1h-1zM307 88h1v1h-1zM293 92h1v1h-1zM291 55h1v1h-1zM296 91h1v1h-1zM310 152h1v1h-1zM308 92h1v1h-1zM292 40h1v1h-1zM301 69h1v1h-1zM299 101h1v1h-1zM305 123h1v1h-1zM296 138h1v1h-1zM294 133h1v1h-1zM296 127h1v1h-1zM308 94h1v1h-1zM283 69h1v1h-1zM289 55h1v1h-1zM297 116h1v1h-1zM295 50h1v1h-1zM306 100h1v1h-1zM294 80h1v1h-1zM310 126h1v1h-1zM311 67h1v1h-1zM305 144h1v1h-1zM308 121h1v1h-1zM304 77h1v1h-1zM303 80h1v1h-1zM268 51h1v1h-1zM279 96h1v1h-1zM311 151h1v1h-1zM303 84h1v1h-1zM272 64h1v1h-1zM301 118h1v1h-1zM309 125h1v1h-1zM311 93h1v1h-1zM282 56h1v1h-1zM294 137h1v1h-1zM285 69h1v1h-1zM310 85h1v1h-1zM288 86h1v1h-1zM307 81h1v1h-1zM295 124h1v1h-1zM293 81h1v1h-1zM281 98h1v1h-1zM288 84h1v1h-1zM307 87h1v1h-1zM280 105h1v1h-1zM275 103h1v1h-1zM305 61h1v1h-1zM280 55h1v1h-1zM297 48h1v1h-1zM309 69h1v1h-1zM289 54h1v1h-1zM311 57h1v1h-1zM278 68h1v1h-1zM289 68h1v1h-1zM275 99h1v1h-1zM300 72h1v1h-1zM279 86h1v1h-1zM310 146h1v1h-1zM309 70h1v1h-1zM273 88h1v1h-1zM276 58h1v1h-1zM271 50h1v1h-1zM292 48h1v1h-1zM289 74h1v1h-1zM299 74h1v1h-1zM301 49h1v1h-1zM303 112h1v1h-1zM277 74h1v1h-1zM274 71h1v1h-1zM300 145h1v1h-1zM301 129h1v1h-1zM294 91h1v1h-1zM294 54h1v1h-1zM270 79h1v1h-1zM284 100h1v1h-1zM285 45h1v1h-1zM299 146h1v1h-1zM285 81h1v1h-1zM288 107h1v1h-1zM289 99h1v1h-1zM311 73h1v1h-1zM270 76h1v1h-1zM290 100h1v1h-1zM299 50h1v1h-1zM308 55h1v1h-1zM292 92h1v1h-1zM298 113h1v1h-1zM295 107h1v1h-1zM296 125h1v1h-1zM280 80h1v1h-1zM303 99h1v1h-1zM292 52h1v1h-1zM289 53h1v1h-1zM307 85h1v1h-1zM309 148h1v1h-1zM304 48h1v1h-1zM305 79h1v1h-1zM270 51h1v1h-1zM295 51h1v1h-1zM307 43h1v1h-1zM271 47h1v1h-1zM310 56h1v1h-1zM281 81h1v1h-1zM296 150h1v1h-1zM301 88h1v1h-1zM310 107h1v1h-1zM286 49h1v1h-1zM299 90h1v1h-1zM269 79h1v1h-1zM303 109h1v1h-1zM298 146h1v1h-1zM308 101h1v1h-1zM280 57h1v1h-1zM311 97h1v1h-1zM303 77h1v1h-1zM306 109h1v1h-1zM306 56h1v1h-1zM295 96h1v1h-1zM303 118h1v1h-1zM308 49h1v1h-1zM294 113h1v1h-1zM311 69h1v1h-1zM302 94h1v1h-1zM311 139h1v1h-1zM310 51h1v1h-1zM303 136h1v1h-1zM311 115h1v1h-1zM302 71h1v1h-1zM272 55h1v1h-1zM291 70h1v1h-1zM294 73h1v1h-1zM279 95h1v1h-1zM298 141h1v1h-1zM298 44h1v1h-1zM301 61h1v1h-1zM304 93h1v1h-1zM308 86h1v1h-1zM304 111h1v1h-1zM285 58h1v1h-1zM298 43h1v1h-1zM276 44h1v1h-1zM289 62h1v1h-1zM290 91h1v1h-1zM310 49h1v1h-1zM300 67h1v1h-1zM299 94h1v1h-1zM304 54h1v1h-1zM311 133h1v1h-1zM294 51h1v1h-1zM310 116h1v1h-1zM305 86h1v1h-1zM302 73h1v1h-1zM311 60h1v1h-1zM272 44h1v1h-1zM293 58h1v1h-1zM271 78h1v1h-1zM274 52h1v1h-1zM305 138h1v1h-1zM305 109h1v1h-1zM285 52h1v1h-1zM297 92h1v1h-1zM275 60h1v1h-1zM283 102h1v1h-1zM310 66h1v1h-1zM293 67h1v1h-1zM290 61h1v1h-1zM290 65h1v1h-1zM286 77h1v1h-1zM267 66h1v1h-1zM310 97h1v1h-1zM302 77h1v1h-1zM308 112h1v1h-1zM270 55h1v1h-1zM295 105h1v1h-1zM283 93h1v1h-1zM296 146h1v1h-1zM303 66h1v1h-1zM286 68h1v1h-1zM311 146h1v1h-1zM284 46h1v1h-1zM307 120h1v1h-1zM311 109h1v1h-1zM290 73h1v1h-1zM310 48h1v1h-1zM308 98h1v1h-1zM292 63h1v1h-1zM305 53h1v1h-1zM275 44h1v1h-1zM302 147h1v1h-1zM297 125h1v1h-1zM278 78h1v1h-1zM285 53h1v1h-1zM270 71h1v1h-1zM273 55h1v1h-1zM271 107h1v1h-1zM299 91h1v1h-1zM275 86h1v1h-1zM290 88h1v1h-1zM302 142h1v1h-1zM273 96h1v1h-1zM280 60h1v1h-1zM306 144h1v1h-1zM303 76h1v1h-1zM305 107h1v1h-1zM309 48h1v1h-1zM284 51h1v1h-1zM287 60h1v1h-1zM292 86h1v1h-1zM267 55h1v1h-1zM292 44h1v1h-1zM284 67h1v1h-1zM306 132h1v1h-1zM269 61h1v1h-1z" fill="#22d822" fill-opacity="0.85"/>
<path d="M238,107.6 L252,100 L267.3,94 L267.3,107.6 Z" fill="#b4eeae" fill-opacity="0.8" filter="url(#b1)"/>
<path d="M264 98h1v1h-1zM265 101h1v1h-1zM265 107h1v1h-1zM261 99h1v1h-1zM255 100h1v1h-1zM251 106h1v1h-1zM263 101h1v1h-1zM265 106h1v1h-1zM244 104h1v1h-1zM246 105h1v1h-1zM264 99h1v1h-1zM252 105h1v1h-1zM257 104h1v1h-1zM256 106h1v1h-1zM267 95h1v1h-1zM262 105h1v1h-1zM261 103h1v1h-1zM258 105h1v1h-1zM263 100h1v1h-1zM266 96h1v1h-1zM258 103h1v1h-1zM260 101h1v1h-1zM266 94h1v1h-1zM262 104h1v1h-1zM259 106h1v1h-1zM254 106h1v1h-1zM258 104h1v1h-1zM255 107h1v1h-1zM253 101h1v1h-1zM240 107h1v1h-1zM259 101h1v1h-1zM264 96h1v1h-1zM266 106h1v1h-1zM257 107h1v1h-1zM265 104h1v1h-1zM266 97h1v1h-1zM245 107h1v1h-1zM264 105h1v1h-1zM254 104h1v1h-1zM257 98h1v1h-1zM261 106h1v1h-1zM267 96h1v1h-1zM249 101h1v1h-1zM265 95h1v1h-1zM267 104h1v1h-1zM266 103h1v1h-1zM256 100h1v1h-1zM267 105h1v1h-1zM249 107h1v1h-1zM260 97h1v1h-1zM260 102h1v1h-1zM262 103h1v1h-1zM267 102h1v1h-1zM267 106h1v1h-1zM259 99h1v1h-1zM260 105h1v1h-1zM248 103h1v1h-1zM260 103h1v1h-1zM249 102h1v1h-1zM256 102h1v1h-1zM265 100h1v1h-1zM264 100h1v1h-1zM255 103h1v1h-1zM252 101h1v1h-1zM254 107h1v1h-1zM250 106h1v1h-1zM263 97h1v1h-1zM256 99h1v1h-1zM248 104h1v1h-1zM244 105h1v1h-1zM246 104h1v1h-1zM263 104h1v1h-1zM249 106h1v1h-1zM252 102h1v1h-1zM257 100h1v1h-1zM259 100h1v1h-1zM253 104h1v1h-1zM251 101h1v1h-1zM246 103h1v1h-1zM251 102h1v1h-1zM266 100h1v1h-1zM266 107h1v1h-1zM245 105h1v1h-1zM262 99h1v1h-1zM259 98h1v1h-1zM249 103h1v1h-1zM266 95h1v1h-1zM259 102h1v1h-1zM267 98h1v1h-1zM254 101h1v1h-1zM252 107h1v1h-1zM247 103h1v1h-1zM255 99h1v1h-1zM260 98h1v1h-1zM262 102h1v1h-1zM267 103h1v1h-1zM259 104h1v1h-1zM245 103h1v1h-1zM255 101h1v1h-1zM252 106h1v1h-1zM261 100h1v1h-1zM256 103h1v1h-1zM265 103h1v1h-1zM265 98h1v1h-1zM257 101h1v1h-1zM242 105h1v1h-1zM265 99h1v1h-1zM261 97h1v1h-1zM265 105h1v1h-1zM266 104h1v1h-1z" fill="#7ee27a" fill-opacity="0.8"/>
<path d="M309,42.6 L324,42.6 L324,155 L304,155 L304,100 L305,70 L306.5,52 Z" fill="#12e812" filter="url(#b0)"/>
<path d="M256.5,107.6 L263.5,108.6 L281,87 L275.5,84.5 Z" fill="#18e418" filter="url(#b0)"/>
<path d="M266 48h1v1h-1zM242 59h1v1h-1zM252 50h1v1h-1zM260 73h1v1h-1zM254 60h1v1h-1zM257 74h1v1h-1zM256 46h1v1h-1zM259 66h1v1h-1zM251 40h1v1h-1zM258 70h1v1h-1zM258 64h1v1h-1zM264 60h1v1h-1zM241 60h1v1h-1zM256 72h1v1h-1zM259 71h1v1h-1zM258 66h1v1h-1zM246 57h1v1h-1zM262 84h1v1h-1zM235 59h1v1h-1zM251 73h1v1h-1zM240 54h1v1h-1zM256 50h1v1h-1zM242 87h1v1h-1zM253 62h1v1h-1zM259 88h1v1h-1zM249 59h1v1h-1zM252 75h1v1h-1zM261 83h1v1h-1zM251 45h1v1h-1zM258 47h1v1h-1zM258 82h1v1h-1zM255 53h1v1h-1zM257 58h1v1h-1zM248 60h1v1h-1zM245 42h1v1h-1zM247 67h1v1h-1zM252 61h1v1h-1zM257 57h1v1h-1zM253 53h1v1h-1zM259 58h1v1h-1zM254 67h1v1h-1zM256 67h1v1h-1zM243 67h1v1h-1zM246 69h1v1h-1zM257 60h1v1h-1zM251 50h1v1h-1zM250 83h1v1h-1zM249 57h1v1h-1zM258 42h1v1h-1zM252 77h1v1h-1zM256 69h1v1h-1zM260 61h1v1h-1zM238 72h1v1h-1zM253 81h1v1h-1zM246 74h1v1h-1zM265 60h1v1h-1zM253 47h1v1h-1zM259 65h1v1h-1zM259 60h1v1h-1zM262 59h1v1h-1zM264 74h1v1h-1zM249 46h1v1h-1zM262 67h1v1h-1zM252 76h1v1h-1zM240 69h1v1h-1zM252 72h1v1h-1zM250 55h1v1h-1zM244 69h1v1h-1zM260 38h1v1h-1zM248 45h1v1h-1zM248 52h1v1h-1zM248 58h1v1h-1zM264 56h1v1h-1zM261 76h1v1h-1zM252 67h1v1h-1zM262 64h1v1h-1zM266 67h1v1h-1zM266 47h1v1h-1zM244 54h1v1h-1zM252 58h1v1h-1zM258 41h1v1h-1zM242 72h1v1h-1zM261 66h1v1h-1zM251 68h1v1h-1zM248 43h1v1h-1zM248 80h1v1h-1zM253 85h1v1h-1zM250 58h1v1h-1zM259 51h1v1h-1zM255 70h1v1h-1zM254 57h1v1h-1zM252 71h1v1h-1zM263 66h1v1h-1zM257 48h1v1h-1zM260 53h1v1h-1zM264 63h1v1h-1zM239 45h1v1h-1zM259 72h1v1h-1zM262 68h1v1h-1zM251 63h1v1h-1zM255 61h1v1h-1zM262 48h1v1h-1zM252 79h1v1h-1zM254 69h1v1h-1zM251 62h1v1h-1zM264 83h1v1h-1zM255 52h1v1h-1zM253 71h1v1h-1zM254 48h1v1h-1zM252 66h1v1h-1zM242 50h1v1h-1zM233 74h1v1h-1zM255 38h1v1h-1zM244 51h1v1h-1zM266 68h1v1h-1zM246 54h1v1h-1zM243 48h1v1h-1zM242 86h1v1h-1zM260 79h1v1h-1zM258 51h1v1h-1zM249 38h1v1h-1zM254 44h1v1h-1zM241 75h1v1h-1zM258 63h1v1h-1zM253 64h1v1h-1zM248 72h1v1h-1zM266 53h1v1h-1zM243 61h1v1h-1zM256 54h1v1h-1zM262 82h1v1h-1zM252 54h1v1h-1zM247 74h1v1h-1zM253 50h1v1h-1zM260 81h1v1h-1zM253 68h1v1h-1zM260 59h1v1h-1zM248 53h1v1h-1zM261 87h1v1h-1zM249 43h1v1h-1zM264 47h1v1h-1zM249 56h1v1h-1zM245 69h1v1h-1zM246 58h1v1h-1zM262 54h1v1h-1zM263 52h1v1h-1zM250 40h1v1h-1zM257 71h1v1h-1zM254 81h1v1h-1zM257 44h1v1h-1zM265 66h1v1h-1zM265 44h1v1h-1zM255 56h1v1h-1zM253 77h1v1h-1zM254 50h1v1h-1zM247 44h1v1h-1zM259 59h1v1h-1zM251 59h1v1h-1zM264 72h1v1h-1zM249 68h1v1h-1zM245 77h1v1h-1zM239 55h1v1h-1zM261 85h1v1h-1zM253 74h1v1h-1zM259 67h1v1h-1zM249 49h1v1h-1zM257 56h1v1h-1zM256 76h1v1h-1zM249 75h1v1h-1zM257 68h1v1h-1zM260 64h1v1h-1zM242 85h1v1h-1zM256 64h1v1h-1zM255 67h1v1h-1zM253 42h1v1h-1zM246 86h1v1h-1zM259 46h1v1h-1zM266 65h1v1h-1zM246 50h1v1h-1zM250 77h1v1h-1zM260 58h1v1h-1zM253 51h1v1h-1zM255 46h1v1h-1zM261 60h1v1h-1zM256 49h1v1h-1zM262 56h1v1h-1zM259 54h1v1h-1zM264 68h1v1h-1zM254 74h1v1h-1zM254 58h1v1h-1zM262 51h1v1h-1zM246 80h1v1h-1zM261 56h1v1h-1zM238 59h1v1h-1zM258 71h1v1h-1zM256 65h1v1h-1zM253 60h1v1h-1zM255 63h1v1h-1zM239 61h1v1h-1zM243 60h1v1h-1zM266 58h1v1h-1zM253 70h1v1h-1zM254 54h1v1h-1zM250 37h1v1h-1zM259 50h1v1h-1zM258 46h1v1h-1zM242 70h1v1h-1zM245 41h1v1h-1zM252 56h1v1h-1zM266 76h1v1h-1zM242 43h1v1h-1zM256 42h1v1h-1zM258 76h1v1h-1zM259 37h1v1h-1zM263 86h1v1h-1zM248 59h1v1h-1zM266 59h1v1h-1zM249 58h1v1h-1zM249 63h1v1h-1zM249 74h1v1h-1zM249 79h1v1h-1zM263 61h1v1h-1zM253 66h1v1h-1zM246 44h1v1h-1zM237 77h1v1h-1zM250 57h1v1h-1zM257 66h1v1h-1zM259 43h1v1h-1zM257 75h1v1h-1z" fill="#8ccaf2" fill-opacity="0.8"/>
<ellipse cx="255" cy="61.5" rx="5.5" ry="13" fill="#22a0ee" fill-opacity="0.9" filter="url(#b2)"/>
<path d="M258 78h1v1h-1zM247 75h1v1h-1zM247 48h1v1h-1zM261 60h1v1h-1zM255 74h1v1h-1zM248 57h1v1h-1zM251 75h1v1h-1zM257 65h1v1h-1zM261 58h1v1h-1zM250 72h1v1h-1zM245 65h1v1h-1zM254 43h1v1h-1zM255 51h1v1h-1zM262 70h1v1h-1zM259 73h1v1h-1zM254 74h1v1h-1zM258 68h1v1h-1zM260 85h1v1h-1zM246 56h1v1h-1zM247 47h1v1h-1zM258 50h1v1h-1zM253 55h1v1h-1zM260 80h1v1h-1zM255 53h1v1h-1zM252 59h1v1h-1zM246 47h1v1h-1zM255 64h1v1h-1zM255 65h1v1h-1zM251 60h1v1h-1zM249 64h1v1h-1zM244 68h1v1h-1zM256 57h1v1h-1zM255 73h1v1h-1zM255 84h1v1h-1zM261 63h1v1h-1zM253 48h1v1h-1zM255 66h1v1h-1zM263 66h1v1h-1zM257 59h1v1h-1zM249 56h1v1h-1zM254 70h1v1h-1zM247 59h1v1h-1zM247 53h1v1h-1zM260 66h1v1h-1zM266 50h1v1h-1zM259 60h1v1h-1zM246 64h1v1h-1zM256 58h1v1h-1zM258 62h1v1h-1zM252 66h1v1h-1zM260 78h1v1h-1zM261 42h1v1h-1zM248 59h1v1h-1zM261 40h1v1h-1zM255 48h1v1h-1zM259 74h1v1h-1zM253 77h1v1h-1zM258 60h1v1h-1zM262 86h1v1h-1zM254 65h1v1h-1zM256 71h1v1h-1zM261 65h1v1h-1zM263 79h1v1h-1zM249 70h1v1h-1zM257 74h1v1h-1zM258 67h1v1h-1zM262 52h1v1h-1zM254 48h1v1h-1zM253 53h1v1h-1zM253 75h1v1h-1zM265 63h1v1h-1zM251 64h1v1h-1zM251 66h1v1h-1zM258 84h1v1h-1zM250 74h1v1h-1zM250 77h1v1h-1zM264 42h1v1h-1zM260 88h1v1h-1zM255 61h1v1h-1zM265 59h1v1h-1zM254 51h1v1h-1zM258 77h1v1h-1zM251 71h1v1h-1zM257 80h1v1h-1zM254 53h1v1h-1zM256 67h1v1h-1zM253 51h1v1h-1zM258 44h1v1h-1zM249 61h1v1h-1zM248 68h1v1h-1zM246 60h1v1h-1zM257 77h1v1h-1zM250 65h1v1h-1zM261 53h1v1h-1zM257 75h1v1h-1zM260 61h1v1h-1zM256 54h1v1h-1zM257 67h1v1h-1zM258 52h1v1h-1zM255 68h1v1h-1zM249 51h1v1h-1zM259 61h1v1h-1zM253 45h1v1h-1zM249 60h1v1h-1zM254 57h1v1h-1zM250 42h1v1h-1zM253 67h1v1h-1zM256 69h1v1h-1zM242 70h1v1h-1zM254 61h1v1h-1zM255 59h1v1h-1zM256 66h1v1h-1zM253 40h1v1h-1zM252 36h1v1h-1zM253 63h1v1h-1zM263 68h1v1h-1zM260 58h1v1h-1zM253 46h1v1h-1zM262 75h1v1h-1zM254 67h1v1h-1zM256 78h1v1h-1zM257 61h1v1h-1zM242 59h1v1h-1zM261 54h1v1h-1zM253 69h1v1h-1zM254 56h1v1h-1zM259 57h1v1h-1zM246 57h1v1h-1zM249 46h1v1h-1zM265 44h1v1h-1zM253 76h1v1h-1zM255 38h1v1h-1zM247 57h1v1h-1zM258 61h1v1h-1zM254 47h1v1h-1zM247 65h1v1h-1zM262 71h1v1h-1zM243 61h1v1h-1zM256 52h1v1h-1zM245 77h1v1h-1zM245 68h1v1h-1zM259 77h1v1h-1zM254 72h1v1h-1zM253 70h1v1h-1zM261 61h1v1h-1zM245 67h1v1h-1zM239 78h1v1h-1zM251 55h1v1h-1zM260 72h1v1h-1zM257 55h1v1h-1zM258 63h1v1h-1zM253 52h1v1h-1zM257 53h1v1h-1zM261 41h1v1h-1zM246 83h1v1h-1zM247 54h1v1h-1zM252 64h1v1h-1zM262 57h1v1h-1zM252 77h1v1h-1zM254 71h1v1h-1zM255 56h1v1h-1zM251 50h1v1h-1zM250 64h1v1h-1zM260 82h1v1h-1zM253 72h1v1h-1zM250 51h1v1h-1zM257 72h1v1h-1zM258 74h1v1h-1zM255 60h1v1h-1zM253 42h1v1h-1zM248 71h1v1h-1zM249 71h1v1h-1zM258 75h1v1h-1zM253 64h1v1h-1zM265 69h1v1h-1zM252 52h1v1h-1zM252 75h1v1h-1zM244 69h1v1h-1zM252 69h1v1h-1zM255 43h1v1h-1zM252 38h1v1h-1zM259 40h1v1h-1zM256 50h1v1h-1zM252 42h1v1h-1zM264 59h1v1h-1zM255 88h1v1h-1zM245 60h1v1h-1zM250 58h1v1h-1zM252 67h1v1h-1zM248 42h1v1h-1zM257 70h1v1h-1zM258 81h1v1h-1zM258 48h1v1h-1zM247 72h1v1h-1zM253 66h1v1h-1zM263 77h1v1h-1zM252 70h1v1h-1zM260 63h1v1h-1zM260 68h1v1h-1zM252 78h1v1h-1zM253 56h1v1h-1zM253 41h1v1h-1zM260 47h1v1h-1zM243 58h1v1h-1zM258 66h1v1h-1zM252 63h1v1h-1zM248 55h1v1h-1zM254 52h1v1h-1zM253 73h1v1h-1zM255 72h1v1h-1zM252 54h1v1h-1zM261 71h1v1h-1zM258 55h1v1h-1zM254 66h1v1h-1zM249 72h1v1h-1zM249 50h1v1h-1zM252 55h1v1h-1zM260 76h1v1h-1zM266 53h1v1h-1zM255 77h1v1h-1zM246 71h1v1h-1zM264 73h1v1h-1zM251 61h1v1h-1zM255 54h1v1h-1zM249 75h1v1h-1zM249 52h1v1h-1zM264 54h1v1h-1zM252 71h1v1h-1zM247 62h1v1h-1zM260 71h1v1h-1zM262 60h1v1h-1zM257 49h1v1h-1zM253 61h1v1h-1zM266 54h1v1h-1zM250 59h1v1h-1zM251 62h1v1h-1zM252 47h1v1h-1zM251 39h1v1h-1zM263 78h1v1h-1zM254 64h1v1h-1zM258 65h1v1h-1zM259 58h1v1h-1zM257 57h1v1h-1zM256 68h1v1h-1zM244 72h1v1h-1zM261 56h1v1h-1zM246 66h1v1h-1zM250 50h1v1h-1zM263 60h1v1h-1zM257 66h1v1h-1zM257 48h1v1h-1zM252 62h1v1h-1zM255 69h1v1h-1zM244 78h1v1h-1zM247 64h1v1h-1zM261 69h1v1h-1zM261 62h1v1h-1zM266 68h1v1h-1zM246 70h1v1h-1zM253 74h1v1h-1zM248 58h1v1h-1zM254 75h1v1h-1zM260 41h1v1h-1zM256 84h1v1h-1zM261 79h1v1h-1zM257 45h1v1h-1zM250 81h1v1h-1zM248 65h1v1h-1zM244 75h1v1h-1zM246 69h1v1h-1zM246 55h1v1h-1zM255 58h1v1h-1zM264 69h1v1h-1zM251 78h1v1h-1zM241 70h1v1h-1zM249 57h1v1h-1zM259 82h1v1h-1zM242 77h1v1h-1zM260 60h1v1h-1zM251 59h1v1h-1zM260 81h1v1h-1zM250 54h1v1h-1zM255 63h1v1h-1zM256 47h1v1h-1zM252 60h1v1h-1zM255 71h1v1h-1zM253 50h1v1h-1zM257 60h1v1h-1zM259 81h1v1h-1zM263 61h1v1h-1zM246 75h1v1h-1zM249 73h1v1h-1zM260 51h1v1h-1zM260 57h1v1h-1zM251 44h1v1h-1zM242 53h1v1h-1zM249 80h1v1h-1zM252 82h1v1h-1zM257 46h1v1h-1zM246 43h1v1h-1zM258 57h1v1h-1zM252 58h1v1h-1zM265 68h1v1h-1zM256 36h1v1h-1zM242 56h1v1h-1zM251 70h1v1h-1zM249 47h1v1h-1zM257 50h1v1h-1zM255 39h1v1h-1zM247 61h1v1h-1zM254 63h1v1h-1zM245 70h1v1h-1zM252 73h1v1h-1zM260 59h1v1h-1zM248 52h1v1h-1zM263 75h1v1h-1zM250 61h1v1h-1zM265 52h1v1h-1zM255 57h1v1h-1zM256 64h1v1h-1zM261 66h1v1h-1zM256 56h1v1h-1zM264 65h1v1h-1zM252 72h1v1h-1zM263 69h1v1h-1zM246 50h1v1h-1zM256 60h1v1h-1zM259 48h1v1h-1zM252 61h1v1h-1zM257 86h1v1h-1zM263 63h1v1h-1zM245 55h1v1h-1zM244 58h1v1h-1zM262 85h1v1h-1zM253 54h1v1h-1zM252 49h1v1h-1zM250 66h1v1h-1zM254 44h1v1h-1zM259 63h1v1h-1zM259 59h1v1h-1zM251 77h1v1h-1zM264 62h1v1h-1zM258 79h1v1h-1zM245 86h1v1h-1zM255 86h1v1h-1zM260 54h1v1h-1zM257 82h1v1h-1zM250 63h1v1h-1zM252 56h1v1h-1zM254 37h1v1h-1zM251 42h1v1h-1zM250 55h1v1h-1zM260 49h1v1h-1zM259 55h1v1h-1zM262 62h1v1h-1zM255 67h1v1h-1zM254 68h1v1h-1zM259 68h1v1h-1zM257 54h1v1h-1zM250 53h1v1h-1zM260 55h1v1h-1zM254 59h1v1h-1zM258 56h1v1h-1zM253 65h1v1h-1zM251 53h1v1h-1zM249 79h1v1h-1zM266 59h1v1h-1zM254 60h1v1h-1zM248 64h1v1h-1zM250 69h1v1h-1zM251 65h1v1h-1zM247 55h1v1h-1zM256 59h1v1h-1zM264 51h1v1h-1zM241 58h1v1h-1zM256 49h1v1h-1zM253 62h1v1h-1zM250 49h1v1h-1zM249 55h1v1h-1zM251 56h1v1h-1zM259 54h1v1h-1zM250 70h1v1h-1zM253 58h1v1h-1zM257 64h1v1h-1zM252 76h1v1h-1zM250 67h1v1h-1zM257 44h1v1h-1zM260 64h1v1h-1zM251 54h1v1h-1zM260 74h1v1h-1zM258 43h1v1h-1zM241 74h1v1h-1zM255 47h1v1h-1zM254 45h1v1h-1zM256 55h1v1h-1zM247 71h1v1h-1zM246 59h1v1h-1zM238 52h1v1h-1zM242 58h1v1h-1zM247 87h1v1h-1zM261 50h1v1h-1zM260 77h1v1h-1zM258 47h1v1h-1zM238 44h1v1h-1zM248 76h1v1h-1zM259 62h1v1h-1zM259 53h1v1h-1zM251 52h1v1h-1zM252 81h1v1h-1zM256 51h1v1h-1zM255 62h1v1h-1zM249 62h1v1h-1zM263 65h1v1h-1zM250 75h1v1h-1zM248 74h1v1h-1zM258 73h1v1h-1zM254 62h1v1h-1zM261 70h1v1h-1zM256 62h1v1h-1zM257 42h1v1h-1zM262 43h1v1h-1zM259 69h1v1h-1zM256 73h1v1h-1zM249 66h1v1h-1zM264 52h1v1h-1zM257 39h1v1h-1zM256 65h1v1h-1zM261 45h1v1h-1zM256 79h1v1h-1zM248 62h1v1h-1zM247 52h1v1h-1zM251 48h1v1h-1zM244 71h1v1h-1zM256 43h1v1h-1zM242 41h1v1h-1zM257 38h1v1h-1zM266 78h1v1h-1zM263 67h1v1h-1zM261 77h1v1h-1zM250 57h1v1h-1zM245 88h1v1h-1zM248 38h1v1h-1zM246 68h1v1h-1zM265 56h1v1h-1zM247 63h1v1h-1zM266 74h1v1h-1zM250 71h1v1h-1zM250 84h1v1h-1zM258 53h1v1h-1zM257 37h1v1h-1zM248 66h1v1h-1zM257 71h1v1h-1zM258 70h1v1h-1zM260 75h1v1h-1zM262 54h1v1h-1zM258 39h1v1h-1zM254 73h1v1h-1zM262 63h1v1h-1zM248 56h1v1h-1zM240 59h1v1h-1zM253 57h1v1h-1zM266 58h1v1h-1zM255 75h1v1h-1zM259 65h1v1h-1zM263 51h1v1h-1zM257 68h1v1h-1zM260 50h1v1h-1zM246 73h1v1h-1zM255 40h1v1h-1zM245 42h1v1h-1zM251 63h1v1h-1zM258 71h1v1h-1zM258 83h1v1h-1zM256 74h1v1h-1zM253 71h1v1h-1zM254 79h1v1h-1zM252 53h1v1h-1zM258 69h1v1h-1zM245 63h1v1h-1zM251 69h1v1h-1zM258 45h1v1h-1zM265 45h1v1h-1zM258 64h1v1h-1zM257 58h1v1h-1zM261 80h1v1h-1zM251 57h1v1h-1zM249 48h1v1h-1zM254 76h1v1h-1zM258 59h1v1h-1zM263 54h1v1h-1zM250 47h1v1h-1zM261 78h1v1h-1zM261 39h1v1h-1zM261 64h1v1h-1zM256 37h1v1h-1zM264 45h1v1h-1zM257 41h1v1h-1zM264 74h1v1h-1zM250 60h1v1h-1zM261 57h1v1h-1zM251 76h1v1h-1zM256 77h1v1h-1zM262 67h1v1h-1zM256 75h1v1h-1zM250 76h1v1h-1zM258 58h1v1h-1zM250 68h1v1h-1zM253 44h1v1h-1zM260 52h1v1h-1zM252 87h1v1h-1zM242 71h1v1h-1zM259 71h1v1h-1zM248 83h1v1h-1zM249 58h1v1h-1zM265 81h1v1h-1zM259 51h1v1h-1zM253 59h1v1h-1zM257 51h1v1h-1zM258 72h1v1h-1zM253 47h1v1h-1zM266 73h1v1h-1zM248 73h1v1h-1zM253 68h1v1h-1zM266 48h1v1h-1zM264 56h1v1h-1zM257 62h1v1h-1zM252 65h1v1h-1zM261 75h1v1h-1zM250 43h1v1h-1zM263 64h1v1h-1zM244 61h1v1h-1zM253 49h1v1h-1zM260 44h1v1h-1zM243 79h1v1h-1zM248 69h1v1h-1zM249 77h1v1h-1zM256 70h1v1h-1zM248 47h1v1h-1zM251 58h1v1h-1zM266 56h1v1h-1zM261 59h1v1h-1zM258 46h1v1h-1zM247 58h1v1h-1zM242 50h1v1h-1zM252 45h1v1h-1zM259 50h1v1h-1zM243 87h1v1h-1zM246 49h1v1h-1zM248 75h1v1h-1zM251 73h1v1h-1zM246 44h1v1h-1zM259 49h1v1h-1zM248 70h1v1h-1zM249 43h1v1h-1zM256 76h1v1h-1zM252 43h1v1h-1zM260 70h1v1h-1zM255 45h1v1h-1zM262 79h1v1h-1zM249 41h1v1h-1zM250 62h1v1h-1zM259 42h1v1h-1zM264 78h1v1h-1zM259 56h1v1h-1zM263 49h1v1h-1zM248 51h1v1h-1zM256 42h1v1h-1zM253 39h1v1h-1zM260 67h1v1h-1zM260 83h1v1h-1zM256 81h1v1h-1zM246 67h1v1h-1zM259 70h1v1h-1zM257 79h1v1h-1zM251 51h1v1h-1zM252 51h1v1h-1zM255 79h1v1h-1zM258 54h1v1h-1zM247 66h1v1h-1zM254 69h1v1h-1zM249 54h1v1h-1zM251 72h1v1h-1zM254 55h1v1h-1zM257 69h1v1h-1zM253 81h1v1h-1z" fill="#1e9cec" fill-opacity="0.85"/>
<path d="M234.6,116.7 L246,111.5 L260.6,108.3 L264.5,109 L263,116.7 L250,120.5 L240,119 Z" fill="#1212d8" filter="url(#b0)"/>
<path d="M244,117.5 L263,114 L262,120 L250,122.5 Z" fill="#8a20d0" fill-opacity="0.85" filter="url(#b1)"/>
<path d="M242 116h1v1h-1zM237 113h1v1h-1zM253 116h1v1h-1zM252 121h1v1h-1zM247 126h1v1h-1zM256 114h1v1h-1zM258 110h1v1h-1zM256 112h1v1h-1zM243 110h1v1h-1zM244 116h1v1h-1zM266 119h1v1h-1zM258 114h1v1h-1zM265 114h1v1h-1zM263 108h1v1h-1zM255 109h1v1h-1zM247 114h1v1h-1zM233 116h1v1h-1zM249 114h1v1h-1zM235 111h1v1h-1zM259 112h1v1h-1zM248 114h1v1h-1zM248 109h1v1h-1zM251 113h1v1h-1zM251 112h1v1h-1zM244 112h1v1h-1zM252 119h1v1h-1zM242 110h1v1h-1zM253 120h1v1h-1zM253 110h1v1h-1zM258 112h1v1h-1zM239 113h1v1h-1zM243 118h1v1h-1zM243 120h1v1h-1zM256 108h1v1h-1zM246 113h1v1h-1zM247 123h1v1h-1zM258 117h1v1h-1zM257 111h1v1h-1zM259 119h1v1h-1zM245 120h1v1h-1zM249 127h1v1h-1zM254 109h1v1h-1zM255 116h1v1h-1zM233 112h1v1h-1zM230 127h1v1h-1zM239 110h1v1h-1zM247 111h1v1h-1zM260 113h1v1h-1zM237 118h1v1h-1zM253 108h1v1h-1zM258 108h1v1h-1zM242 122h1v1h-1zM245 115h1v1h-1zM242 113h1v1h-1zM232 113h1v1h-1zM243 119h1v1h-1zM246 110h1v1h-1zM239 116h1v1h-1zM247 124h1v1h-1zM237 116h1v1h-1zM265 111h1v1h-1zM238 119h1v1h-1zM266 111h1v1h-1zM257 118h1v1h-1zM251 118h1v1h-1zM247 118h1v1h-1zM240 114h1v1h-1zM249 110h1v1h-1zM243 113h1v1h-1zM262 117h1v1h-1zM255 121h1v1h-1zM256 123h1v1h-1zM262 118h1v1h-1zM249 115h1v1h-1zM249 111h1v1h-1zM236 117h1v1h-1zM238 118h1v1h-1zM265 115h1v1h-1zM241 111h1v1h-1zM255 114h1v1h-1zM246 116h1v1h-1zM239 109h1v1h-1zM253 111h1v1h-1zM255 112h1v1h-1zM250 114h1v1h-1zM261 113h1v1h-1zM250 109h1v1h-1zM251 114h1v1h-1zM255 115h1v1h-1zM252 116h1v1h-1zM259 110h1v1h-1zM245 116h1v1h-1zM236 125h1v1h-1zM232 117h1v1h-1zM245 118h1v1h-1zM263 124h1v1h-1zM243 115h1v1h-1zM243 108h1v1h-1zM251 111h1v1h-1zM244 109h1v1h-1zM251 117h1v1h-1zM256 119h1v1h-1zM242 108h1v1h-1zM239 121h1v1h-1zM248 112h1v1h-1zM250 115h1v1h-1zM255 119h1v1h-1zM254 120h1v1h-1zM260 111h1v1h-1zM251 116h1v1h-1zM240 113h1v1h-1zM245 119h1v1h-1zM250 124h1v1h-1zM254 112h1v1h-1zM252 115h1v1h-1zM243 116h1v1h-1zM237 115h1v1h-1zM243 123h1v1h-1zM244 118h1v1h-1zM250 120h1v1h-1zM244 108h1v1h-1zM256 120h1v1h-1zM264 122h1v1h-1zM250 110h1v1h-1zM247 117h1v1h-1zM262 113h1v1h-1zM248 108h1v1h-1zM248 111h1v1h-1zM250 111h1v1h-1zM253 114h1v1h-1zM244 117h1v1h-1zM254 113h1v1h-1zM248 118h1v1h-1zM254 114h1v1h-1zM238 111h1v1h-1zM241 116h1v1h-1zM239 114h1v1h-1zM248 122h1v1h-1zM245 122h1v1h-1zM242 112h1v1h-1zM236 123h1v1h-1z" fill="#5050e0" fill-opacity="0.7"/>
<path d="M253 125h1v1h-1zM251 127h1v1h-1zM253 122h1v1h-1zM258 131h1v1h-1zM256 127h1v1h-1zM258 125h1v1h-1zM260 130h1v1h-1zM256 126h1v1h-1zM251 123h1v1h-1zM252 124h1v1h-1zM251 126h1v1h-1zM256 124h1v1h-1zM262 126h1v1h-1zM254 126h1v1h-1zM252 128h1v1h-1zM251 125h1v1h-1zM263 126h1v1h-1zM250 121h1v1h-1zM259 118h1v1h-1zM262 130h1v1h-1zM253 126h1v1h-1zM252 122h1v1h-1zM256 122h1v1h-1zM257 126h1v1h-1zM252 125h1v1h-1zM255 124h1v1h-1zM254 129h1v1h-1zM259 126h1v1h-1zM253 121h1v1h-1zM253 118h1v1h-1zM260 127h1v1h-1zM259 127h1v1h-1zM256 119h1v1h-1zM254 120h1v1h-1zM248 126h1v1h-1zM254 124h1v1h-1zM250 128h1v1h-1zM256 125h1v1h-1zM262 122h1v1h-1zM255 128h1v1h-1zM255 125h1v1h-1zM249 126h1v1h-1zM256 123h1v1h-1zM250 129h1v1h-1zM255 129h1v1h-1zM254 134h1v1h-1zM249 128h1v1h-1zM255 126h1v1h-1zM254 127h1v1h-1zM259 121h1v1h-1zM256 131h1v1h-1zM257 123h1v1h-1zM250 124h1v1h-1zM253 124h1v1h-1zM260 118h1v1h-1zM250 122h1v1h-1zM260 125h1v1h-1zM261 132h1v1h-1zM256 121h1v1h-1zM253 119h1v1h-1zM258 124h1v1h-1zM259 123h1v1h-1zM251 117h1v1h-1zM256 129h1v1h-1zM245 121h1v1h-1zM262 131h1v1h-1zM256 120h1v1h-1zM255 122h1v1h-1zM264 124h1v1h-1zM258 122h1v1h-1zM261 130h1v1h-1zM257 121h1v1h-1zM254 122h1v1h-1zM254 119h1v1h-1zM256 116h1v1h-1zM248 123h1v1h-1zM254 130h1v1h-1zM258 123h1v1h-1zM259 131h1v1h-1zM254 131h1v1h-1zM251 128h1v1h-1zM248 125h1v1h-1zM260 133h1v1h-1zM250 119h1v1h-1zM255 132h1v1h-1zM250 123h1v1h-1zM252 130h1v1h-1z" fill="#f0a878" fill-opacity="0.6"/>
<ellipse cx="279.2" cy="125.8" rx="11" ry="6.5" fill="#d41cd4" transform="rotate(22 279.2 125.8)" filter="url(#b1)"/>
<path d="M269 122h1v1h-1zM274 122h1v1h-1zM280 127h1v1h-1zM273 127h1v1h-1zM274 128h1v1h-1zM281 120h1v1h-1zM273 130h1v1h-1zM278 127h1v1h-1zM276 133h1v1h-1zM282 122h1v1h-1zM280 120h1v1h-1zM276 123h1v1h-1zM272 121h1v1h-1zM286 121h1v1h-1zM277 119h1v1h-1zM287 121h1v1h-1zM284 128h1v1h-1zM282 123h1v1h-1zM277 118h1v1h-1zM271 127h1v1h-1zM279 130h1v1h-1zM282 131h1v1h-1zM280 125h1v1h-1zM280 129h1v1h-1zM285 128h1v1h-1zM276 120h1v1h-1zM285 130h1v1h-1zM272 125h1v1h-1zM272 126h1v1h-1zM293 124h1v1h-1zM276 125h1v1h-1zM276 127h1v1h-1zM268 129h1v1h-1zM274 125h1v1h-1zM282 130h1v1h-1zM288 121h1v1h-1zM288 124h1v1h-1zM280 124h1v1h-1zM276 128h1v1h-1zM275 121h1v1h-1zM276 124h1v1h-1zM281 134h1v1h-1zM279 125h1v1h-1zM291 132h1v1h-1zM281 128h1v1h-1zM279 115h1v1h-1zM269 137h1v1h-1zM278 118h1v1h-1zM276 115h1v1h-1zM277 124h1v1h-1zM278 123h1v1h-1zM277 126h1v1h-1zM272 118h1v1h-1zM278 125h1v1h-1zM287 123h1v1h-1zM279 124h1v1h-1zM275 119h1v1h-1zM271 121h1v1h-1zM275 116h1v1h-1zM270 122h1v1h-1zM286 128h1v1h-1zM283 131h1v1h-1zM283 126h1v1h-1zM280 130h1v1h-1zM275 120h1v1h-1zM278 128h1v1h-1zM292 124h1v1h-1zM272 117h1v1h-1zM273 124h1v1h-1zM279 122h1v1h-1zM274 127h1v1h-1zM274 126h1v1h-1zM283 125h1v1h-1zM285 123h1v1h-1zM281 121h1v1h-1zM268 120h1v1h-1zM277 128h1v1h-1zM291 127h1v1h-1zM283 121h1v1h-1zM290 122h1v1h-1zM278 135h1v1h-1zM285 136h1v1h-1zM275 127h1v1h-1zM274 132h1v1h-1zM282 117h1v1h-1zM276 121h1v1h-1zM271 124h1v1h-1zM276 122h1v1h-1zM285 129h1v1h-1zM271 130h1v1h-1zM289 124h1v1h-1zM283 136h1v1h-1zM273 118h1v1h-1zM277 120h1v1h-1zM279 133h1v1h-1zM288 125h1v1h-1zM291 121h1v1h-1zM275 123h1v1h-1zM292 111h1v1h-1zM281 126h1v1h-1zM272 122h1v1h-1zM275 125h1v1h-1zM281 127h1v1h-1zM288 134h1v1h-1zM269 126h1v1h-1zM271 128h1v1h-1zM275 122h1v1h-1zM277 131h1v1h-1zM272 127h1v1h-1zM279 134h1v1h-1zM276 126h1v1h-1zM281 118h1v1h-1zM272 123h1v1h-1zM285 127h1v1h-1zM289 118h1v1h-1zM271 135h1v1h-1zM283 127h1v1h-1zM282 132h1v1h-1zM271 136h1v1h-1zM289 125h1v1h-1zM277 132h1v1h-1zM290 123h1v1h-1zM280 118h1v1h-1zM292 125h1v1h-1zM272 119h1v1h-1zM289 127h1v1h-1zM285 126h1v1h-1zM269 124h1v1h-1zM273 120h1v1h-1zM280 122h1v1h-1zM277 130h1v1h-1zM286 131h1v1h-1zM273 121h1v1h-1zM278 126h1v1h-1zM281 129h1v1h-1zM271 123h1v1h-1zM284 130h1v1h-1zM279 131h1v1h-1zM281 123h1v1h-1zM283 119h1v1h-1zM273 138h1v1h-1zM283 130h1v1h-1zM287 118h1v1h-1zM284 122h1v1h-1zM269 123h1v1h-1zM286 126h1v1h-1zM287 116h1v1h-1zM277 121h1v1h-1zM275 118h1v1h-1zM279 128h1v1h-1zM273 122h1v1h-1zM283 129h1v1h-1zM274 136h1v1h-1zM283 122h1v1h-1zM278 129h1v1h-1zM272 131h1v1h-1zM279 119h1v1h-1zM280 135h1v1h-1zM271 132h1v1h-1zM270 125h1v1h-1zM271 125h1v1h-1zM286 134h1v1h-1zM285 125h1v1h-1zM284 118h1v1h-1zM277 122h1v1h-1zM270 131h1v1h-1zM283 132h1v1h-1zM280 137h1v1h-1zM287 126h1v1h-1zM286 125h1v1h-1zM280 131h1v1h-1zM281 125h1v1h-1zM287 133h1v1h-1zM282 120h1v1h-1zM284 124h1v1h-1zM273 125h1v1h-1zM274 119h1v1h-1zM279 121h1v1h-1zM284 127h1v1h-1zM270 127h1v1h-1zM284 123h1v1h-1zM277 129h1v1h-1zM288 128h1v1h-1zM270 123h1v1h-1zM273 131h1v1h-1zM281 131h1v1h-1zM291 128h1v1h-1zM286 119h1v1h-1zM272 128h1v1h-1zM274 138h1v1h-1zM286 135h1v1h-1zM288 129h1v1h-1zM284 125h1v1h-1zM269 127h1v1h-1zM282 139h1v1h-1zM279 126h1v1h-1zM270 133h1v1h-1zM280 128h1v1h-1zM273 129h1v1h-1zM277 127h1v1h-1zM274 133h1v1h-1zM275 128h1v1h-1zM291 133h1v1h-1zM275 133h1v1h-1zM289 128h1v1h-1z" fill="#c83cd0" fill-opacity="0.7"/>
<path d="M275 144h1v1h-1zM277 136h1v1h-1zM277 121h1v1h-1zM289 111h1v1h-1zM277 109h1v1h-1zM285 120h1v1h-1zM291 140h1v1h-1zM287 128h1v1h-1zM282 133h1v1h-1zM268 149h1v1h-1zM271 128h1v1h-1zM284 134h1v1h-1zM274 125h1v1h-1zM288 130h1v1h-1zM287 140h1v1h-1zM288 135h1v1h-1zM285 147h1v1h-1zM283 124h1v1h-1zM292 124h1v1h-1zM285 114h1v1h-1zM288 111h1v1h-1zM281 131h1v1h-1zM288 143h1v1h-1zM279 147h1v1h-1zM286 121h1v1h-1zM281 139h1v1h-1zM291 132h1v1h-1zM273 149h1v1h-1zM293 118h1v1h-1zM277 141h1v1h-1zM292 127h1v1h-1zM270 124h1v1h-1zM269 145h1v1h-1zM273 118h1v1h-1zM286 127h1v1h-1zM284 114h1v1h-1zM268 131h1v1h-1zM290 124h1v1h-1zM291 124h1v1h-1zM279 140h1v1h-1zM273 136h1v1h-1zM293 142h1v1h-1zM285 151h1v1h-1zM287 134h1v1h-1zM269 136h1v1h-1zM285 149h1v1h-1zM270 144h1v1h-1zM271 144h1v1h-1zM290 122h1v1h-1zM268 109h1v1h-1zM281 115h1v1h-1zM282 153h1v1h-1zM287 149h1v1h-1zM288 117h1v1h-1zM269 152h1v1h-1zM293 124h1v1h-1zM283 149h1v1h-1zM275 125h1v1h-1zM281 148h1v1h-1zM269 134h1v1h-1zM281 125h1v1h-1zM272 128h1v1h-1zM283 113h1v1h-1zM286 130h1v1h-1zM277 123h1v1h-1zM284 117h1v1h-1zM284 128h1v1h-1zM269 119h1v1h-1zM269 112h1v1h-1zM273 115h1v1h-1zM282 120h1v1h-1zM268 119h1v1h-1zM271 120h1v1h-1zM270 123h1v1h-1zM288 108h1v1h-1zM270 131h1v1h-1zM272 130h1v1h-1zM280 119h1v1h-1zM277 139h1v1h-1zM267 117h1v1h-1zM282 112h1v1h-1zM279 152h1v1h-1zM270 121h1v1h-1zM282 122h1v1h-1zM281 112h1v1h-1zM292 146h1v1h-1zM272 112h1v1h-1zM270 143h1v1h-1zM276 117h1v1h-1zM269 124h1v1h-1zM283 152h1v1h-1zM276 144h1v1h-1zM293 126h1v1h-1zM272 109h1v1h-1zM274 117h1v1h-1zM283 122h1v1h-1zM286 133h1v1h-1zM283 138h1v1h-1zM278 137h1v1h-1zM269 128h1v1h-1zM279 128h1v1h-1zM287 136h1v1h-1zM269 131h1v1h-1zM288 149h1v1h-1zM276 149h1v1h-1zM276 145h1v1h-1zM290 118h1v1h-1zM284 131h1v1h-1zM286 150h1v1h-1zM272 152h1v1h-1zM268 108h1v1h-1zM282 116h1v1h-1zM276 131h1v1h-1zM281 120h1v1h-1zM270 147h1v1h-1zM285 146h1v1h-1zM292 147h1v1h-1zM280 110h1v1h-1zM291 123h1v1h-1zM284 115h1v1h-1zM278 138h1v1h-1zM279 113h1v1h-1zM277 127h1v1h-1zM290 108h1v1h-1zM292 140h1v1h-1zM268 130h1v1h-1zM291 126h1v1h-1zM282 121h1v1h-1zM293 123h1v1h-1zM272 142h1v1h-1zM283 146h1v1h-1zM284 123h1v1h-1zM289 132h1v1h-1zM281 122h1v1h-1zM277 108h1v1h-1zM278 117h1v1h-1zM271 112h1v1h-1zM283 134h1v1h-1zM281 144h1v1h-1zM278 130h1v1h-1zM275 129h1v1h-1zM268 148h1v1h-1zM288 133h1v1h-1zM286 151h1v1h-1zM275 150h1v1h-1zM272 136h1v1h-1zM284 111h1v1h-1zM288 113h1v1h-1zM271 119h1v1h-1zM283 110h1v1h-1zM279 141h1v1h-1zM280 137h1v1h-1zM277 135h1v1h-1zM270 126h1v1h-1zM291 153h1v1h-1zM273 120h1v1h-1zM288 152h1v1h-1zM292 130h1v1h-1zM276 147h1v1h-1zM275 119h1v1h-1zM293 132h1v1h-1zM276 142h1v1h-1zM274 118h1v1h-1zM285 153h1v1h-1zM291 146h1v1h-1zM279 123h1v1h-1zM272 124h1v1h-1zM270 151h1v1h-1zM286 141h1v1h-1zM280 124h1v1h-1zM287 150h1v1h-1zM270 129h1v1h-1zM285 140h1v1h-1zM268 137h1v1h-1zM286 126h1v1h-1zM281 119h1v1h-1zM277 143h1v1h-1zM274 119h1v1h-1zM281 126h1v1h-1zM293 146h1v1h-1zM286 138h1v1h-1zM278 121h1v1h-1zM284 121h1v1h-1zM271 146h1v1h-1zM274 152h1v1h-1zM275 151h1v1h-1zM281 130h1v1h-1zM273 112h1v1h-1zM281 150h1v1h-1zM281 132h1v1h-1zM281 147h1v1h-1zM286 132h1v1h-1zM273 110h1v1h-1zM289 137h1v1h-1zM280 135h1v1h-1zM287 116h1v1h-1zM281 142h1v1h-1zM290 137h1v1h-1zM289 135h1v1h-1zM289 139h1v1h-1zM283 143h1v1h-1zM280 127h1v1h-1zM278 122h1v1h-1zM286 114h1v1h-1zM272 134h1v1h-1zM280 113h1v1h-1zM271 142h1v1h-1zM284 139h1v1h-1zM276 135h1v1h-1zM276 126h1v1h-1zM275 115h1v1h-1zM292 111h1v1h-1zM280 117h1v1h-1zM292 151h1v1h-1zM292 120h1v1h-1zM281 136h1v1h-1zM278 135h1v1h-1zM278 144h1v1h-1zM291 133h1v1h-1zM273 129h1v1h-1zM289 149h1v1h-1zM280 139h1v1h-1zM271 145h1v1h-1zM278 129h1v1h-1zM274 146h1v1h-1zM269 148h1v1h-1zM281 121h1v1h-1zM268 128h1v1h-1zM290 120h1v1h-1zM279 151h1v1h-1zM293 145h1v1h-1zM287 145h1v1h-1zM291 143h1v1h-1zM271 108h1v1h-1zM289 117h1v1h-1zM283 139h1v1h-1zM268 142h1v1h-1zM273 148h1v1h-1zM276 136h1v1h-1zM291 135h1v1h-1zM276 111h1v1h-1zM284 150h1v1h-1zM276 137h1v1h-1zM275 140h1v1h-1zM281 143h1v1h-1zM273 130h1v1h-1zM271 134h1v1h-1zM268 118h1v1h-1zM269 143h1v1h-1zM277 128h1v1h-1zM269 116h1v1h-1zM292 116h1v1h-1zM275 137h1v1h-1zM281 152h1v1h-1zM271 122h1v1h-1zM280 140h1v1h-1zM273 128h1v1h-1zM288 116h1v1h-1zM268 114h1v1h-1zM280 129h1v1h-1zM292 109h1v1h-1zM282 131h1v1h-1zM291 119h1v1h-1zM274 116h1v1h-1zM293 115h1v1h-1zM280 134h1v1h-1zM274 148h1v1h-1zM286 135h1v1h-1zM283 111h1v1h-1zM286 110h1v1h-1zM268 150h1v1h-1zM281 108h1v1h-1zM274 127h1v1h-1zM274 124h1v1h-1zM279 126h1v1h-1zM276 109h1v1h-1zM282 135h1v1h-1zM281 137h1v1h-1zM289 146h1v1h-1zM279 110h1v1h-1zM278 114h1v1h-1zM270 114h1v1h-1zM271 135h1v1h-1zM279 109h1v1h-1zM288 129h1v1h-1zM272 111h1v1h-1zM290 151h1v1h-1zM290 110h1v1h-1zM274 135h1v1h-1zM284 143h1v1h-1zM279 137h1v1h-1zM289 145h1v1h-1zM272 147h1v1h-1zM277 130h1v1h-1zM280 126h1v1h-1zM281 129h1v1h-1zM275 111h1v1h-1zM287 142h1v1h-1zM269 130h1v1h-1zM272 150h1v1h-1zM287 139h1v1h-1zM279 129h1v1h-1zM268 145h1v1h-1zM285 111h1v1h-1zM284 141h1v1h-1zM285 123h1v1h-1zM281 141h1v1h-1zM275 132h1v1h-1zM292 142h1v1h-1zM272 114h1v1h-1zM292 108h1v1h-1zM271 109h1v1h-1zM283 109h1v1h-1zM274 128h1v1h-1zM276 143h1v1h-1zM268 127h1v1h-1zM279 150h1v1h-1zM287 115h1v1h-1zM278 131h1v1h-1zM271 136h1v1h-1zM286 111h1v1h-1zM283 142h1v1h-1zM290 145h1v1h-1zM286 112h1v1h-1zM285 137h1v1h-1zM277 116h1v1h-1zM277 112h1v1h-1zM293 120h1v1h-1zM276 115h1v1h-1zM291 128h1v1h-1zM288 109h1v1h-1z" fill="#7a6ad0" fill-opacity="0.6"/>
</g>
<line x1="206.60" y1="93.30" x2="323.80" y2="93.30" stroke="#333" stroke-width="0.9"/>
<line x1="267.30" y1="33.60" x2="267.30" y2="154.30" stroke="#333" stroke-width="0.9"/>
<rect x="231.50" y="34.80" width="35.80" height="54.90" fill="none" stroke="#333" stroke-width="0.9" rx="0"/>
<rect x="206.60" y="107.60" width="87.30" height="46.70" fill="none" stroke="#333" stroke-width="0.9" rx="0"/>
<rect x="207.30" y="35.30" width="11.50" height="5.50" fill="#fff" stroke="#ccc" stroke-width="0.3" rx="1"/>
<text x="207.80" y="40.30" font-size="5.2" text-anchor="start" fill="#333"  stroke="#333" stroke-width="0.15">A-+</text>
<text x="310.30" y="40.40" font-size="6.0" text-anchor="start" fill="#222"  stroke="#222" stroke-width="0.15">A++</text>
<rect x="310.70" y="94.60" width="12.40" height="9.00" fill="#c8f4c4" stroke="none" stroke-width="0" rx="1"/>
<text x="311.00" y="100.70" font-size="6.0" text-anchor="start" fill="#222"  stroke="#222" stroke-width="0.15">A+-</text>
<rect x="207.90" y="142.40" width="11.20" height="9.80" fill="#fff" stroke="#ccc" stroke-width="0.3" rx="1"/>
<text x="208.20" y="150.60" font-size="5.4" text-anchor="start" fill="#333"  stroke="#333" stroke-width="0.15">A--</text>
<rect x="214.00" y="114.00" width="7.50" height="10.00" fill="#fff" stroke="#bbb" stroke-width="0.4" rx="1.5"/>
<text x="215.30" y="122.00" font-size="7" text-anchor="start" fill="#333"  stroke="#333" stroke-width="0.15">D</text>
<rect x="235.50" y="42.00" width="4.50" height="10.00" fill="#fff" stroke="#bbb" stroke-width="0.4" rx="1.5"/>
<text x="236.60" y="50.00" font-size="7" text-anchor="start" fill="#333"  stroke="#333" stroke-width="0.15">I</text>
<rect x="206.60" y="33.60" width="117.20" height="120.70" fill="none" stroke="#111" stroke-width="1.3" rx="0"/>
<line x1="203.00" y1="34.00" x2="206.60" y2="34.00" stroke="#111" stroke-width="1.1"/>
<text transform="translate(200.60,38.40) scale(0.86,1)" font-size="9" text-anchor="end" fill="#111" stroke="#111" stroke-width="0.15">10<tspan font-size="5.7" dy="-3.3">3</tspan></text>
<line x1="203.00" y1="64.00" x2="206.60" y2="64.00" stroke="#111" stroke-width="1.1"/>
<text transform="translate(200.60,68.40) scale(0.86,1)" font-size="9" text-anchor="end" fill="#111" stroke="#111" stroke-width="0.15">10<tspan font-size="5.7" dy="-3.3">2</tspan></text>
<line x1="203.00" y1="89.40" x2="206.60" y2="89.40" stroke="#111" stroke-width="1.1"/>
<text x="0" y="0" transform="translate(201.20,92.20) scale(0.92,1)" font-size="8.2" text-anchor="end" fill="#111"  stroke="#111" stroke-width="0.15">20</text>
<line x1="203.00" y1="120.90" x2="206.60" y2="120.90" stroke="#111" stroke-width="1.1"/>
<text x="0" y="0" transform="translate(201.20,123.70) scale(0.92,1)" font-size="8.2" text-anchor="end" fill="#111"  stroke="#111" stroke-width="0.15">0</text>
<line x1="203.00" y1="153.60" x2="206.60" y2="153.60" stroke="#111" stroke-width="1.1"/>
<text x="0" y="0" transform="translate(201.20,156.40) scale(0.92,1)" font-size="8.2" text-anchor="end" fill="#111"  stroke="#111" stroke-width="0.15">-20</text>
<line x1="204.60" y1="54.97" x2="206.60" y2="54.97" stroke="#111" stroke-width="0.6"/>
<line x1="204.60" y1="49.69" x2="206.60" y2="49.69" stroke="#111" stroke-width="0.6"/>
<line x1="204.60" y1="45.94" x2="206.60" y2="45.94" stroke="#111" stroke-width="0.6"/>
<line x1="204.60" y1="43.03" x2="206.60" y2="43.03" stroke="#111" stroke-width="0.6"/>
<line x1="204.60" y1="40.66" x2="206.60" y2="40.66" stroke="#111" stroke-width="0.6"/>
<line x1="204.60" y1="38.65" x2="206.60" y2="38.65" stroke="#111" stroke-width="0.6"/>
<line x1="204.60" y1="36.91" x2="206.60" y2="36.91" stroke="#111" stroke-width="0.6"/>
<line x1="204.60" y1="35.37" x2="206.60" y2="35.37" stroke="#111" stroke-width="0.6"/>
<line x1="204.60" y1="74.46" x2="206.60" y2="74.46" stroke="#111" stroke-width="0.6"/>
<line x1="204.60" y1="71.96" x2="206.60" y2="71.96" stroke="#111" stroke-width="0.6"/>
<line x1="204.60" y1="70.02" x2="206.60" y2="70.02" stroke="#111" stroke-width="0.6"/>
<line x1="204.60" y1="68.44" x2="206.60" y2="68.44" stroke="#111" stroke-width="0.6"/>
<line x1="204.60" y1="67.10" x2="206.60" y2="67.10" stroke="#111" stroke-width="0.6"/>
<line x1="204.60" y1="65.94" x2="206.60" y2="65.94" stroke="#111" stroke-width="0.6"/>
<line x1="204.60" y1="64.92" x2="206.60" y2="64.92" stroke="#111" stroke-width="0.6"/>
<line x1="204.60" y1="105.00" x2="206.60" y2="105.00" stroke="#111" stroke-width="0.6"/>
<line x1="204.60" y1="136.70" x2="206.60" y2="136.70" stroke="#111" stroke-width="0.6"/>
<line x1="235.90" y1="154.30" x2="235.90" y2="157.30" stroke="#111" stroke-width="1.1"/>
<text transform="translate(235.90,170.00) scale(0.86,1)" font-size="9" text-anchor="middle" fill="#111" stroke="#111" stroke-width="0.15">10<tspan font-size="5.7" dy="-3.3">0</tspan></text>
<line x1="244.63" y1="154.30" x2="244.63" y2="155.90" stroke="#111" stroke-width="0.6"/>
<line x1="249.74" y1="154.30" x2="249.74" y2="155.90" stroke="#111" stroke-width="0.6"/>
<line x1="253.36" y1="154.30" x2="253.36" y2="155.90" stroke="#111" stroke-width="0.6"/>
<line x1="256.17" y1="154.30" x2="256.17" y2="155.90" stroke="#111" stroke-width="0.6"/>
<line x1="258.47" y1="154.30" x2="258.47" y2="155.90" stroke="#111" stroke-width="0.6"/>
<line x1="260.41" y1="154.30" x2="260.41" y2="155.90" stroke="#111" stroke-width="0.6"/>
<line x1="262.09" y1="154.30" x2="262.09" y2="155.90" stroke="#111" stroke-width="0.6"/>
<line x1="263.57" y1="154.30" x2="263.57" y2="155.90" stroke="#111" stroke-width="0.6"/>
<line x1="265.40" y1="154.30" x2="265.40" y2="157.30" stroke="#111" stroke-width="1.1"/>
<text transform="translate(265.40,170.00) scale(0.86,1)" font-size="9" text-anchor="middle" fill="#111" stroke="#111" stroke-width="0.15">10<tspan font-size="5.7" dy="-3.3">1</tspan></text>
<line x1="274.13" y1="154.30" x2="274.13" y2="155.90" stroke="#111" stroke-width="0.6"/>
<line x1="279.24" y1="154.30" x2="279.24" y2="155.90" stroke="#111" stroke-width="0.6"/>
<line x1="282.86" y1="154.30" x2="282.86" y2="155.90" stroke="#111" stroke-width="0.6"/>
<line x1="285.67" y1="154.30" x2="285.67" y2="155.90" stroke="#111" stroke-width="0.6"/>
<line x1="287.97" y1="154.30" x2="287.97" y2="155.90" stroke="#111" stroke-width="0.6"/>
<line x1="289.91" y1="154.30" x2="289.91" y2="155.90" stroke="#111" stroke-width="0.6"/>
<line x1="291.59" y1="154.30" x2="291.59" y2="155.90" stroke="#111" stroke-width="0.6"/>
<line x1="293.07" y1="154.30" x2="293.07" y2="155.90" stroke="#111" stroke-width="0.6"/>
<line x1="294.40" y1="154.30" x2="294.40" y2="157.30" stroke="#111" stroke-width="1.1"/>
<text transform="translate(294.40,170.00) scale(0.86,1)" font-size="9" text-anchor="middle" fill="#111" stroke="#111" stroke-width="0.15">10<tspan font-size="5.7" dy="-3.3">2</tspan></text>
<line x1="303.13" y1="154.30" x2="303.13" y2="155.90" stroke="#111" stroke-width="0.6"/>
<line x1="308.24" y1="154.30" x2="308.24" y2="155.90" stroke="#111" stroke-width="0.6"/>
<line x1="311.86" y1="154.30" x2="311.86" y2="155.90" stroke="#111" stroke-width="0.6"/>
<line x1="314.67" y1="154.30" x2="314.67" y2="155.90" stroke="#111" stroke-width="0.6"/>
<line x1="316.97" y1="154.30" x2="316.97" y2="155.90" stroke="#111" stroke-width="0.6"/>
<line x1="318.91" y1="154.30" x2="318.91" y2="155.90" stroke="#111" stroke-width="0.6"/>
<line x1="320.59" y1="154.30" x2="320.59" y2="155.90" stroke="#111" stroke-width="0.6"/>
<line x1="322.07" y1="154.30" x2="322.07" y2="155.90" stroke="#111" stroke-width="0.6"/>
<line x1="322.60" y1="154.30" x2="322.60" y2="157.30" stroke="#111" stroke-width="1.1"/>
<text transform="translate(322.60,170.00) scale(0.86,1)" font-size="9" text-anchor="middle" fill="#111" stroke="#111" stroke-width="0.15">10<tspan font-size="5.7" dy="-3.3">3</tspan></text>
<line x1="215.63" y1="154.30" x2="215.63" y2="155.90" stroke="#111" stroke-width="0.6"/>
<line x1="220.74" y1="154.30" x2="220.74" y2="155.90" stroke="#111" stroke-width="0.6"/>
<line x1="224.36" y1="154.30" x2="224.36" y2="155.90" stroke="#111" stroke-width="0.6"/>
<line x1="227.17" y1="154.30" x2="227.17" y2="155.90" stroke="#111" stroke-width="0.6"/>
<line x1="229.47" y1="154.30" x2="229.47" y2="155.90" stroke="#111" stroke-width="0.6"/>
<line x1="231.41" y1="154.30" x2="231.41" y2="155.90" stroke="#111" stroke-width="0.6"/>
<line x1="233.09" y1="154.30" x2="233.09" y2="155.90" stroke="#111" stroke-width="0.6"/>
<line x1="234.57" y1="154.30" x2="234.57" y2="155.90" stroke="#111" stroke-width="0.6"/>
<text x="0" y="0" transform="translate(265.70,183.60) scale(0.79,1)" font-size="10.5" text-anchor="middle" fill="#111"  stroke="#111" stroke-width="0.15">CD14</text>
<text x="0" y="0" transform="translate(183.10,97.00) rotate(-90) scale(0.85,1)" font-size="10.3" text-anchor="middle" fill="#111"  stroke="#111" stroke-width="0.15">HLADR</text>
<text x="431.80" y="15.90" font-size="10" text-anchor="middle" font-weight="bold" fill="#111"  stroke="#111" stroke-width="0.15">HLADR-/CD14-</text>
<text x="432.40" y="28.00" font-size="10" text-anchor="middle" font-weight="bold" fill="#111"  stroke="#111" stroke-width="0.15">Gated</text>
<g clip-path="url(#c3)">
<path d="M456 58h1v1h-1zM411 49h1v1h-1zM406 55h1v1h-1zM478 60h1v1h-1zM440 55h1v1h-1zM449 49h1v1h-1zM454 52h1v1h-1zM483 51h1v1h-1zM409 54h1v1h-1zM431 53h1v1h-1zM459 44h1v1h-1zM401 54h1v1h-1zM470 50h1v1h-1zM446 55h1v1h-1zM432 52h1v1h-1zM434 57h1v1h-1zM447 48h1v1h-1zM454 49h1v1h-1zM439 47h1v1h-1zM442 56h1v1h-1zM467 55h1v1h-1zM424 52h1v1h-1zM447 51h1v1h-1zM440 46h1v1h-1zM451 53h1v1h-1zM418 50h1v1h-1zM458 52h1v1h-1zM462 48h1v1h-1zM445 48h1v1h-1zM448 49h1v1h-1zM434 55h1v1h-1zM478 52h1v1h-1zM454 48h1v1h-1zM434 50h1v1h-1zM459 60h1v1h-1zM397 58h1v1h-1zM486 55h1v1h-1zM439 56h1v1h-1zM408 46h1v1h-1zM452 50h1v1h-1zM468 48h1v1h-1zM397 52h1v1h-1zM463 46h1v1h-1zM450 53h1v1h-1zM459 56h1v1h-1zM455 49h1v1h-1zM412 55h1v1h-1zM440 57h1v1h-1zM481 50h1v1h-1zM433 58h1v1h-1zM453 47h1v1h-1zM443 51h1v1h-1zM481 47h1v1h-1zM430 56h1v1h-1zM471 53h1v1h-1zM434 48h1v1h-1zM455 53h1v1h-1zM413 44h1v1h-1zM436 50h1v1h-1zM410 49h1v1h-1zM470 57h1v1h-1zM470 52h1v1h-1zM426 58h1v1h-1zM486 54h1v1h-1zM405 52h1v1h-1zM421 54h1v1h-1zM446 56h1v1h-1zM432 60h1v1h-1zM457 52h1v1h-1zM442 50h1v1h-1zM477 56h1v1h-1zM461 57h1v1h-1zM460 48h1v1h-1zM423 56h1v1h-1zM445 51h1v1h-1zM482 56h1v1h-1zM487 51h1v1h-1zM421 52h1v1h-1zM472 48h1v1h-1zM447 55h1v1h-1zM454 55h1v1h-1zM475 48h1v1h-1zM426 49h1v1h-1zM449 54h1v1h-1zM461 53h1v1h-1zM438 53h1v1h-1zM433 56h1v1h-1zM426 47h1v1h-1zM436 57h1v1h-1zM458 51h1v1h-1zM445 49h1v1h-1zM425 54h1v1h-1zM429 49h1v1h-1zM463 50h1v1h-1zM453 54h1v1h-1zM419 54h1v1h-1zM452 48h1v1h-1zM425 57h1v1h-1zM409 47h1v1h-1zM407 54h1v1h-1zM488 53h1v1h-1zM414 55h1v1h-1zM408 53h1v1h-1zM489 52h1v1h-1zM408 52h1v1h-1zM457 45h1v1h-1zM460 53h1v1h-1zM479 55h1v1h-1zM432 56h1v1h-1zM433 61h1v1h-1zM440 47h1v1h-1zM421 44h1v1h-1zM431 52h1v1h-1zM420 54h1v1h-1zM449 58h1v1h-1zM417 56h1v1h-1zM419 50h1v1h-1zM474 50h1v1h-1zM461 50h1v1h-1zM473 54h1v1h-1zM460 60h1v1h-1zM415 56h1v1h-1zM453 48h1v1h-1zM446 54h1v1h-1zM416 50h1v1h-1zM482 51h1v1h-1zM459 51h1v1h-1zM458 56h1v1h-1zM428 54h1v1h-1zM486 49h1v1h-1zM435 60h1v1h-1zM427 53h1v1h-1zM474 54h1v1h-1zM426 53h1v1h-1zM463 61h1v1h-1zM434 54h1v1h-1zM455 48h1v1h-1zM445 52h1v1h-1zM468 51h1v1h-1zM445 58h1v1h-1zM486 57h1v1h-1zM425 58h1v1h-1zM456 49h1v1h-1zM469 53h1v1h-1zM474 48h1v1h-1zM441 59h1v1h-1zM439 50h1v1h-1zM441 42h1v1h-1zM398 59h1v1h-1zM484 52h1v1h-1zM473 49h1v1h-1zM465 57h1v1h-1zM435 51h1v1h-1zM456 57h1v1h-1zM434 56h1v1h-1zM446 50h1v1h-1zM479 59h1v1h-1zM414 53h1v1h-1zM438 47h1v1h-1zM450 52h1v1h-1zM431 46h1v1h-1zM469 57h1v1h-1zM449 43h1v1h-1zM466 60h1v1h-1zM445 45h1v1h-1zM413 52h1v1h-1zM436 51h1v1h-1zM447 56h1v1h-1zM441 50h1v1h-1zM404 59h1v1h-1zM438 52h1v1h-1zM440 52h1v1h-1zM464 49h1v1h-1zM439 59h1v1h-1zM440 53h1v1h-1zM422 47h1v1h-1zM439 52h1v1h-1zM414 50h1v1h-1zM457 53h1v1h-1zM415 54h1v1h-1zM437 55h1v1h-1zM427 44h1v1h-1zM464 60h1v1h-1zM435 46h1v1h-1zM462 45h1v1h-1zM413 58h1v1h-1zM406 50h1v1h-1zM413 57h1v1h-1zM475 55h1v1h-1zM424 55h1v1h-1zM464 52h1v1h-1zM419 51h1v1h-1zM444 51h1v1h-1zM441 51h1v1h-1zM435 53h1v1h-1zM420 59h1v1h-1zM415 42h1v1h-1zM442 45h1v1h-1zM453 51h1v1h-1zM468 50h1v1h-1zM467 50h1v1h-1zM412 57h1v1h-1zM449 60h1v1h-1zM448 52h1v1h-1zM414 54h1v1h-1zM411 52h1v1h-1zM399 59h1v1h-1zM466 54h1v1h-1zM429 46h1v1h-1zM448 50h1v1h-1zM438 46h1v1h-1zM484 53h1v1h-1zM445 56h1v1h-1zM436 56h1v1h-1zM470 59h1v1h-1zM447 52h1v1h-1zM431 57h1v1h-1zM480 49h1v1h-1zM447 53h1v1h-1zM485 53h1v1h-1zM453 53h1v1h-1zM432 54h1v1h-1zM473 48h1v1h-1zM461 59h1v1h-1zM451 50h1v1h-1zM434 52h1v1h-1zM478 54h1v1h-1zM460 51h1v1h-1zM436 46h1v1h-1zM422 52h1v1h-1zM459 53h1v1h-1zM486 52h1v1h-1zM450 54h1v1h-1zM401 45h1v1h-1zM432 50h1v1h-1zM442 53h1v1h-1zM474 45h1v1h-1zM427 55h1v1h-1zM423 54h1v1h-1zM426 50h1v1h-1zM427 57h1v1h-1zM411 54h1v1h-1zM428 49h1v1h-1zM463 55h1v1h-1zM419 47h1v1h-1zM405 49h1v1h-1zM472 49h1v1h-1zM449 47h1v1h-1zM466 51h1v1h-1zM400 49h1v1h-1zM399 55h1v1h-1zM473 53h1v1h-1zM419 44h1v1h-1zM467 49h1v1h-1zM407 55h1v1h-1zM417 48h1v1h-1zM479 56h1v1h-1zM487 60h1v1h-1zM487 56h1v1h-1zM439 49h1v1h-1zM484 57h1v1h-1zM458 59h1v1h-1zM482 48h1v1h-1z" fill="#7676d8" fill-opacity="0.65"/>
<path d="M472 52h1v1h-1zM477 50h1v1h-1zM488 53h1v1h-1zM486 49h1v1h-1zM479 55h1v1h-1zM483 55h1v1h-1zM486 53h1v1h-1zM477 49h1v1h-1zM473 49h1v1h-1zM477 52h1v1h-1zM485 50h1v1h-1zM481 55h1v1h-1zM474 50h1v1h-1zM485 53h1v1h-1zM483 52h1v1h-1zM479 54h1v1h-1zM476 56h1v1h-1zM482 51h1v1h-1zM469 56h1v1h-1zM488 54h1v1h-1zM487 56h1v1h-1zM479 48h1v1h-1zM485 47h1v1h-1zM478 46h1v1h-1zM473 52h1v1h-1zM474 52h1v1h-1zM470 51h1v1h-1zM489 50h1v1h-1zM478 48h1v1h-1zM477 46h1v1h-1zM478 50h1v1h-1zM467 54h1v1h-1zM479 46h1v1h-1zM484 56h1v1h-1zM479 49h1v1h-1zM483 51h1v1h-1zM473 51h1v1h-1zM478 60h1v1h-1zM479 51h1v1h-1zM489 47h1v1h-1zM477 53h1v1h-1zM481 51h1v1h-1zM478 47h1v1h-1zM479 53h1v1h-1zM479 52h1v1h-1zM475 48h1v1h-1zM481 54h1v1h-1zM489 53h1v1h-1zM480 52h1v1h-1zM471 50h1v1h-1zM467 50h1v1h-1zM469 53h1v1h-1zM475 53h1v1h-1zM471 55h1v1h-1zM489 51h1v1h-1zM478 56h1v1h-1zM484 48h1v1h-1zM480 50h1v1h-1zM488 55h1v1h-1zM473 48h1v1h-1zM481 53h1v1h-1zM475 56h1v1h-1zM482 57h1v1h-1zM470 50h1v1h-1zM482 54h1v1h-1zM482 49h1v1h-1zM483 49h1v1h-1zM489 55h1v1h-1zM481 45h1v1h-1z" fill="#5a5ad0" fill-opacity="0.8"/>
<path d="M417 72h1v1h-1zM419 78h1v1h-1zM419 82h1v1h-1zM423 70h1v1h-1zM409 84h1v1h-1zM428 72h1v1h-1zM406 70h1v1h-1zM416 79h1v1h-1zM423 81h1v1h-1zM429 70h1v1h-1zM411 73h1v1h-1zM412 79h1v1h-1zM433 79h1v1h-1zM412 84h1v1h-1zM430 70h1v1h-1zM427 79h1v1h-1zM416 82h1v1h-1zM400 86h1v1h-1zM417 74h1v1h-1zM424 74h1v1h-1zM432 86h1v1h-1zM418 77h1v1h-1zM422 82h1v1h-1zM412 82h1v1h-1zM409 69h1v1h-1zM418 75h1v1h-1zM396 70h1v1h-1zM419 71h1v1h-1zM425 79h1v1h-1zM413 69h1v1h-1zM417 89h1v1h-1zM431 70h1v1h-1zM407 68h1v1h-1zM422 86h1v1h-1zM425 70h1v1h-1zM409 81h1v1h-1zM428 74h1v1h-1zM421 84h1v1h-1zM423 84h1v1h-1zM430 78h1v1h-1zM438 73h1v1h-1zM429 69h1v1h-1zM433 64h1v1h-1zM407 76h1v1h-1zM425 72h1v1h-1zM430 81h1v1h-1zM419 72h1v1h-1zM436 76h1v1h-1zM425 77h1v1h-1zM423 75h1v1h-1zM419 75h1v1h-1zM414 71h1v1h-1zM434 88h1v1h-1zM418 74h1v1h-1zM426 77h1v1h-1zM417 69h1v1h-1zM431 80h1v1h-1zM408 69h1v1h-1zM421 72h1v1h-1zM405 78h1v1h-1zM411 76h1v1h-1zM411 81h1v1h-1zM432 79h1v1h-1zM412 68h1v1h-1zM439 87h1v1h-1zM412 73h1v1h-1zM431 71h1v1h-1zM406 82h1v1h-1zM415 75h1v1h-1zM417 79h1v1h-1zM414 75h1v1h-1zM419 69h1v1h-1zM427 67h1v1h-1zM422 89h1v1h-1zM419 74h1v1h-1zM423 79h1v1h-1zM438 74h1v1h-1zM409 75h1v1h-1zM414 68h1v1h-1zM422 72h1v1h-1zM430 82h1v1h-1zM411 79h1v1h-1zM402 71h1v1h-1zM412 71h1v1h-1zM427 78h1v1h-1zM419 80h1v1h-1zM428 80h1v1h-1zM434 86h1v1h-1zM417 67h1v1h-1zM412 77h1v1h-1zM427 84h1v1h-1zM423 74h1v1h-1zM415 68h1v1h-1zM415 78h1v1h-1zM398 73h1v1h-1zM433 68h1v1h-1zM426 72h1v1h-1zM431 79h1v1h-1zM427 80h1v1h-1zM431 69h1v1h-1zM412 72h1v1h-1zM430 73h1v1h-1zM424 81h1v1h-1zM406 83h1v1h-1zM417 76h1v1h-1zM406 78h1v1h-1zM423 89h1v1h-1zM406 74h1v1h-1zM439 68h1v1h-1zM433 74h1v1h-1zM413 79h1v1h-1zM424 75h1v1h-1zM428 65h1v1h-1zM421 70h1v1h-1zM420 77h1v1h-1zM425 67h1v1h-1zM427 66h1v1h-1zM426 85h1v1h-1zM403 77h1v1h-1zM418 78h1v1h-1zM402 83h1v1h-1zM409 79h1v1h-1zM431 76h1v1h-1zM422 67h1v1h-1zM414 77h1v1h-1zM418 80h1v1h-1zM411 75h1v1h-1zM412 64h1v1h-1zM422 75h1v1h-1zM423 72h1v1h-1zM435 67h1v1h-1zM419 86h1v1h-1zM430 69h1v1h-1zM416 76h1v1h-1zM415 77h1v1h-1zM408 79h1v1h-1zM438 79h1v1h-1zM397 75h1v1h-1zM417 82h1v1h-1zM407 73h1v1h-1zM419 76h1v1h-1zM424 83h1v1h-1zM423 91h1v1h-1zM429 76h1v1h-1zM410 73h1v1h-1zM416 85h1v1h-1zM425 75h1v1h-1zM428 71h1v1h-1zM413 74h1v1h-1zM430 68h1v1h-1zM400 76h1v1h-1zM418 86h1v1h-1zM424 72h1v1h-1zM418 87h1v1h-1zM414 78h1v1h-1zM437 81h1v1h-1zM422 85h1v1h-1zM433 81h1v1h-1zM422 81h1v1h-1zM411 86h1v1h-1zM434 81h1v1h-1zM430 67h1v1h-1zM428 67h1v1h-1zM422 84h1v1h-1zM412 87h1v1h-1zM416 70h1v1h-1zM420 83h1v1h-1zM433 73h1v1h-1zM401 86h1v1h-1zM421 73h1v1h-1zM421 64h1v1h-1zM436 79h1v1h-1zM412 65h1v1h-1zM434 71h1v1h-1zM409 71h1v1h-1zM409 65h1v1h-1zM416 83h1v1h-1zM418 72h1v1h-1zM425 76h1v1h-1zM432 73h1v1h-1zM423 69h1v1h-1zM432 66h1v1h-1zM414 64h1v1h-1zM403 68h1v1h-1zM421 81h1v1h-1zM434 80h1v1h-1zM414 81h1v1h-1zM398 77h1v1h-1zM422 74h1v1h-1zM429 83h1v1h-1zM420 80h1v1h-1zM424 77h1v1h-1zM407 77h1v1h-1zM429 71h1v1h-1zM405 82h1v1h-1zM437 74h1v1h-1zM431 66h1v1h-1zM432 67h1v1h-1zM424 71h1v1h-1zM402 64h1v1h-1zM426 71h1v1h-1zM428 78h1v1h-1zM428 73h1v1h-1zM414 74h1v1h-1zM426 75h1v1h-1zM421 85h1v1h-1zM409 90h1v1h-1zM436 77h1v1h-1zM411 69h1v1h-1zM424 84h1v1h-1zM415 80h1v1h-1zM437 72h1v1h-1zM408 71h1v1h-1zM402 78h1v1h-1zM407 78h1v1h-1zM422 77h1v1h-1zM422 78h1v1h-1zM426 65h1v1h-1zM433 78h1v1h-1zM416 73h1v1h-1zM410 80h1v1h-1zM438 82h1v1h-1zM434 69h1v1h-1zM404 73h1v1h-1zM404 68h1v1h-1zM418 85h1v1h-1zM436 69h1v1h-1zM428 75h1v1h-1zM415 66h1v1h-1zM426 69h1v1h-1zM413 80h1v1h-1zM415 88h1v1h-1zM403 80h1v1h-1zM424 67h1v1h-1zM409 67h1v1h-1zM414 76h1v1h-1zM420 72h1v1h-1zM417 81h1v1h-1zM404 76h1v1h-1zM425 89h1v1h-1zM419 81h1v1h-1zM407 66h1v1h-1zM427 73h1v1h-1zM434 70h1v1h-1zM409 77h1v1h-1zM410 81h1v1h-1zM411 72h1v1h-1zM429 92h1v1h-1zM432 77h1v1h-1zM396 87h1v1h-1zM421 69h1v1h-1zM426 73h1v1h-1zM403 83h1v1h-1zM415 83h1v1h-1zM423 71h1v1h-1zM428 76h1v1h-1zM425 81h1v1h-1zM400 73h1v1h-1zM425 78h1v1h-1zM426 79h1v1h-1zM416 84h1v1h-1zM408 83h1v1h-1zM421 77h1v1h-1zM399 71h1v1h-1zM417 80h1v1h-1zM418 66h1v1h-1zM421 78h1v1h-1zM420 75h1v1h-1zM412 75h1v1h-1zM430 77h1v1h-1zM435 76h1v1h-1zM429 66h1v1h-1zM425 74h1v1h-1zM417 68h1v1h-1zM431 77h1v1h-1zM430 83h1v1h-1zM408 74h1v1h-1zM420 71h1v1h-1zM420 84h1v1h-1zM434 76h1v1h-1zM422 76h1v1h-1zM408 86h1v1h-1zM430 76h1v1h-1zM412 83h1v1h-1zM433 66h1v1h-1zM422 69h1v1h-1zM415 79h1v1h-1zM411 89h1v1h-1zM420 67h1v1h-1zM436 82h1v1h-1zM407 69h1v1h-1zM433 90h1v1h-1zM429 77h1v1h-1zM414 69h1v1h-1zM432 75h1v1h-1zM438 69h1v1h-1zM420 78h1v1h-1zM424 66h1v1h-1zM426 82h1v1h-1zM415 72h1v1h-1zM431 84h1v1h-1zM431 67h1v1h-1zM422 68h1v1h-1zM430 79h1v1h-1zM434 73h1v1h-1zM427 77h1v1h-1zM409 87h1v1h-1zM431 68h1v1h-1zM428 77h1v1h-1zM420 70h1v1h-1zM411 77h1v1h-1zM427 87h1v1h-1zM414 92h1v1h-1zM423 82h1v1h-1zM418 73h1v1h-1zM432 68h1v1h-1zM404 80h1v1h-1zM438 76h1v1h-1zM420 89h1v1h-1zM422 71h1v1h-1zM426 74h1v1h-1zM416 65h1v1h-1zM421 67h1v1h-1zM429 84h1v1h-1zM424 78h1v1h-1zM431 75h1v1h-1zM433 76h1v1h-1zM420 82h1v1h-1zM405 76h1v1h-1zM416 81h1v1h-1zM438 75h1v1h-1zM412 67h1v1h-1zM418 67h1v1h-1zM438 81h1v1h-1zM413 85h1v1h-1zM408 80h1v1h-1zM438 71h1v1h-1zM402 67h1v1h-1zM419 65h1v1h-1zM422 80h1v1h-1zM437 89h1v1h-1zM401 72h1v1h-1zM408 77h1v1h-1zM426 84h1v1h-1zM406 80h1v1h-1zM406 76h1v1h-1zM425 80h1v1h-1zM434 74h1v1h-1zM425 83h1v1h-1zM423 90h1v1h-1zM418 69h1v1h-1zM406 87h1v1h-1zM417 86h1v1h-1zM425 85h1v1h-1zM426 76h1v1h-1zM402 75h1v1h-1zM425 66h1v1h-1zM423 83h1v1h-1zM421 83h1v1h-1zM410 70h1v1h-1zM426 80h1v1h-1zM423 85h1v1h-1zM427 75h1v1h-1zM420 74h1v1h-1zM417 84h1v1h-1zM413 75h1v1h-1zM402 73h1v1h-1zM419 77h1v1h-1zM425 69h1v1h-1zM434 82h1v1h-1zM425 73h1v1h-1zM418 91h1v1h-1zM439 76h1v1h-1zM405 84h1v1h-1zM409 80h1v1h-1zM433 84h1v1h-1zM416 72h1v1h-1zM410 78h1v1h-1zM429 72h1v1h-1zM403 73h1v1h-1zM435 68h1v1h-1zM430 71h1v1h-1zM420 76h1v1h-1zM403 66h1v1h-1zM435 69h1v1h-1zM413 77h1v1h-1zM416 67h1v1h-1zM431 74h1v1h-1zM416 74h1v1h-1zM424 68h1v1h-1zM429 85h1v1h-1zM397 68h1v1h-1zM435 83h1v1h-1zM401 76h1v1h-1zM438 84h1v1h-1zM423 80h1v1h-1zM419 67h1v1h-1zM398 81h1v1h-1zM416 80h1v1h-1zM415 73h1v1h-1zM423 78h1v1h-1zM413 65h1v1h-1zM426 83h1v1h-1zM438 85h1v1h-1zM427 71h1v1h-1zM401 65h1v1h-1zM424 85h1v1h-1zM420 66h1v1h-1zM432 69h1v1h-1zM418 76h1v1h-1zM432 70h1v1h-1zM415 69h1v1h-1zM430 75h1v1h-1zM411 87h1v1h-1zM434 75h1v1h-1zM404 72h1v1h-1zM403 82h1v1h-1zM421 80h1v1h-1zM404 75h1v1h-1zM420 69h1v1h-1zM431 72h1v1h-1zM431 73h1v1h-1zM416 75h1v1h-1zM413 73h1v1h-1zM398 70h1v1h-1zM436 72h1v1h-1zM420 90h1v1h-1zM437 79h1v1h-1zM414 80h1v1h-1zM416 77h1v1h-1zM421 76h1v1h-1zM399 73h1v1h-1zM432 87h1v1h-1zM433 71h1v1h-1zM405 72h1v1h-1zM404 67h1v1h-1zM426 87h1v1h-1zM401 63h1v1h-1zM425 64h1v1h-1zM426 81h1v1h-1zM401 81h1v1h-1zM404 82h1v1h-1zM405 81h1v1h-1zM427 83h1v1h-1zM436 80h1v1h-1zM412 78h1v1h-1zM416 78h1v1h-1zM419 64h1v1h-1zM436 78h1v1h-1zM421 75h1v1h-1zM405 71h1v1h-1zM410 74h1v1h-1zM419 70h1v1h-1zM431 87h1v1h-1zM403 89h1v1h-1zM419 79h1v1h-1zM411 70h1v1h-1zM416 91h1v1h-1zM399 86h1v1h-1zM424 79h1v1h-1zM438 72h1v1h-1zM401 77h1v1h-1zM426 90h1v1h-1zM410 77h1v1h-1zM421 82h1v1h-1zM428 86h1v1h-1zM432 65h1v1h-1zM422 70h1v1h-1zM429 68h1v1h-1zM420 68h1v1h-1zM427 69h1v1h-1zM421 71h1v1h-1zM404 81h1v1h-1zM429 75h1v1h-1zM414 65h1v1h-1zM437 80h1v1h-1zM413 82h1v1h-1zM425 71h1v1h-1zM399 80h1v1h-1zM421 90h1v1h-1zM436 73h1v1h-1zM409 72h1v1h-1zM406 73h1v1h-1zM429 78h1v1h-1zM414 79h1v1h-1zM420 73h1v1h-1zM434 64h1v1h-1zM436 64h1v1h-1zM406 66h1v1h-1zM414 70h1v1h-1zM423 77h1v1h-1zM400 81h1v1h-1zM424 87h1v1h-1zM407 82h1v1h-1zM437 68h1v1h-1zM421 68h1v1h-1zM432 76h1v1h-1zM419 83h1v1h-1zM425 88h1v1h-1zM410 71h1v1h-1zM422 79h1v1h-1zM414 73h1v1h-1zM415 70h1v1h-1zM433 80h1v1h-1zM417 70h1v1h-1zM412 80h1v1h-1zM414 88h1v1h-1zM427 76h1v1h-1zM416 71h1v1h-1zM418 65h1v1h-1zM418 82h1v1h-1zM417 83h1v1h-1zM429 80h1v1h-1zM416 69h1v1h-1zM414 86h1v1h-1zM405 75h1v1h-1zM430 72h1v1h-1zM415 90h1v1h-1zM428 81h1v1h-1zM439 79h1v1h-1zM430 80h1v1h-1zM424 80h1v1h-1zM407 72h1v1h-1zM421 74h1v1h-1zM427 81h1v1h-1zM406 65h1v1h-1zM410 85h1v1h-1zM431 85h1v1h-1zM429 65h1v1h-1zM436 83h1v1h-1zM407 79h1v1h-1zM429 81h1v1h-1zM422 90h1v1h-1zM437 71h1v1h-1zM436 84h1v1h-1zM399 82h1v1h-1zM411 82h1v1h-1zM432 72h1v1h-1zM401 85h1v1h-1zM414 72h1v1h-1zM413 68h1v1h-1zM435 74h1v1h-1zM414 67h1v1h-1zM429 73h1v1h-1zM434 79h1v1h-1zM419 68h1v1h-1zM430 74h1v1h-1zM415 89h1v1h-1zM414 87h1v1h-1zM429 74h1v1h-1zM421 88h1v1h-1zM413 83h1v1h-1zM423 66h1v1h-1zM396 65h1v1h-1zM429 67h1v1h-1z" fill="#d840d8" fill-opacity="0.7"/>
<ellipse cx="423" cy="74" rx="11" ry="7" fill="#d414d8" fill-opacity="0.8" filter="url(#b2)"/>
<path d="M431 77h1v1h-1zM426 72h1v1h-1zM424 74h1v1h-1zM431 69h1v1h-1zM421 67h1v1h-1zM426 75h1v1h-1zM418 80h1v1h-1zM430 77h1v1h-1zM427 80h1v1h-1zM433 76h1v1h-1zM419 71h1v1h-1zM418 76h1v1h-1zM424 73h1v1h-1zM419 72h1v1h-1zM429 69h1v1h-1zM422 76h1v1h-1zM425 76h1v1h-1zM430 72h1v1h-1zM428 76h1v1h-1zM424 65h1v1h-1zM413 70h1v1h-1zM418 77h1v1h-1zM419 74h1v1h-1zM421 70h1v1h-1zM427 72h1v1h-1zM424 69h1v1h-1zM423 74h1v1h-1zM419 83h1v1h-1zM432 68h1v1h-1zM420 76h1v1h-1zM428 73h1v1h-1zM422 74h1v1h-1zM414 76h1v1h-1zM417 80h1v1h-1zM416 69h1v1h-1zM433 72h1v1h-1zM428 74h1v1h-1zM429 79h1v1h-1zM425 72h1v1h-1zM415 71h1v1h-1zM422 77h1v1h-1zM426 74h1v1h-1zM429 83h1v1h-1zM415 74h1v1h-1zM427 71h1v1h-1zM427 79h1v1h-1zM428 77h1v1h-1zM426 80h1v1h-1zM425 73h1v1h-1zM418 73h1v1h-1zM429 76h1v1h-1zM426 69h1v1h-1zM419 78h1v1h-1zM428 70h1v1h-1zM415 69h1v1h-1zM434 67h1v1h-1zM417 76h1v1h-1zM427 73h1v1h-1zM428 71h1v1h-1zM408 74h1v1h-1zM431 73h1v1h-1zM428 81h1v1h-1zM410 78h1v1h-1zM415 70h1v1h-1zM421 71h1v1h-1zM426 71h1v1h-1zM421 77h1v1h-1zM423 71h1v1h-1zM414 83h1v1h-1zM428 69h1v1h-1zM430 74h1v1h-1zM435 70h1v1h-1zM432 78h1v1h-1zM417 65h1v1h-1zM423 80h1v1h-1zM412 78h1v1h-1zM416 70h1v1h-1zM413 77h1v1h-1zM412 74h1v1h-1zM419 75h1v1h-1zM427 74h1v1h-1zM420 75h1v1h-1zM421 75h1v1h-1zM421 74h1v1h-1zM426 73h1v1h-1zM421 81h1v1h-1zM433 71h1v1h-1zM418 72h1v1h-1zM410 81h1v1h-1zM427 83h1v1h-1zM428 64h1v1h-1zM416 78h1v1h-1zM425 69h1v1h-1zM413 76h1v1h-1zM422 78h1v1h-1zM425 66h1v1h-1zM424 67h1v1h-1zM409 76h1v1h-1zM414 75h1v1h-1zM429 78h1v1h-1zM428 78h1v1h-1zM414 71h1v1h-1zM420 67h1v1h-1zM419 76h1v1h-1zM429 77h1v1h-1zM432 74h1v1h-1zM429 73h1v1h-1zM422 75h1v1h-1zM424 68h1v1h-1zM417 74h1v1h-1zM418 66h1v1h-1zM435 73h1v1h-1zM414 77h1v1h-1zM424 76h1v1h-1zM423 72h1v1h-1zM425 67h1v1h-1zM425 78h1v1h-1zM423 79h1v1h-1zM419 67h1v1h-1zM419 82h1v1h-1zM416 66h1v1h-1zM416 72h1v1h-1zM418 74h1v1h-1zM420 68h1v1h-1zM427 78h1v1h-1zM436 73h1v1h-1zM419 69h1v1h-1zM417 75h1v1h-1zM417 70h1v1h-1zM417 73h1v1h-1zM419 68h1v1h-1zM421 78h1v1h-1zM421 79h1v1h-1zM416 84h1v1h-1zM428 75h1v1h-1zM425 81h1v1h-1zM414 70h1v1h-1zM427 75h1v1h-1zM417 68h1v1h-1zM432 70h1v1h-1zM422 66h1v1h-1zM432 80h1v1h-1zM423 66h1v1h-1zM425 75h1v1h-1zM433 73h1v1h-1zM430 68h1v1h-1zM412 80h1v1h-1zM413 68h1v1h-1zM409 68h1v1h-1zM425 80h1v1h-1zM429 75h1v1h-1zM428 72h1v1h-1zM422 73h1v1h-1zM413 74h1v1h-1zM415 75h1v1h-1zM420 74h1v1h-1zM419 73h1v1h-1zM428 66h1v1h-1zM416 75h1v1h-1zM425 77h1v1h-1zM429 70h1v1h-1zM422 67h1v1h-1zM415 76h1v1h-1zM411 77h1v1h-1zM426 84h1v1h-1zM427 82h1v1h-1zM411 79h1v1h-1zM423 75h1v1h-1zM417 69h1v1h-1zM417 71h1v1h-1zM412 79h1v1h-1zM426 79h1v1h-1zM408 73h1v1h-1zM424 70h1v1h-1zM422 70h1v1h-1zM419 77h1v1h-1zM431 76h1v1h-1zM434 71h1v1h-1zM430 69h1v1h-1zM418 69h1v1h-1zM424 78h1v1h-1zM411 71h1v1h-1zM415 68h1v1h-1zM420 82h1v1h-1zM417 82h1v1h-1zM422 83h1v1h-1zM416 65h1v1h-1zM418 82h1v1h-1zM430 73h1v1h-1zM422 79h1v1h-1zM413 72h1v1h-1zM421 68h1v1h-1zM426 67h1v1h-1zM417 81h1v1h-1zM405 74h1v1h-1zM423 73h1v1h-1zM423 70h1v1h-1zM421 73h1v1h-1zM430 71h1v1h-1zM434 79h1v1h-1zM426 76h1v1h-1zM426 68h1v1h-1zM412 69h1v1h-1zM418 71h1v1h-1zM429 65h1v1h-1zM414 74h1v1h-1zM417 79h1v1h-1zM423 68h1v1h-1zM430 78h1v1h-1zM422 71h1v1h-1zM433 69h1v1h-1zM423 78h1v1h-1zM416 73h1v1h-1zM425 74h1v1h-1zM413 75h1v1h-1zM420 80h1v1h-1zM435 67h1v1h-1zM424 72h1v1h-1zM408 76h1v1h-1zM437 72h1v1h-1zM433 80h1v1h-1zM433 66h1v1h-1zM421 69h1v1h-1zM435 80h1v1h-1zM431 75h1v1h-1zM407 74h1v1h-1zM430 75h1v1h-1zM422 82h1v1h-1zM429 72h1v1h-1zM422 72h1v1h-1zM417 77h1v1h-1zM420 70h1v1h-1zM417 78h1v1h-1zM424 77h1v1h-1zM423 76h1v1h-1zM412 67h1v1h-1zM434 76h1v1h-1zM420 73h1v1h-1zM431 74h1v1h-1zM429 82h1v1h-1zM429 81h1v1h-1zM416 76h1v1h-1zM424 75h1v1h-1zM423 81h1v1h-1zM413 73h1v1h-1zM424 71h1v1h-1zM432 69h1v1h-1zM422 68h1v1h-1zM432 71h1v1h-1zM429 74h1v1h-1zM427 84h1v1h-1zM417 72h1v1h-1zM419 81h1v1h-1zM426 64h1v1h-1zM421 72h1v1h-1zM412 72h1v1h-1zM425 70h1v1h-1zM431 79h1v1h-1zM432 67h1v1h-1zM420 78h1v1h-1zM413 78h1v1h-1zM435 79h1v1h-1zM418 75h1v1h-1zM432 73h1v1h-1zM420 72h1v1h-1zM427 76h1v1h-1zM430 66h1v1h-1zM412 77h1v1h-1zM408 79h1v1h-1zM433 75h1v1h-1zM434 73h1v1h-1zM431 82h1v1h-1zM415 72h1v1h-1zM419 70h1v1h-1zM416 68h1v1h-1zM433 74h1v1h-1zM427 70h1v1h-1zM422 81h1v1h-1zM435 75h1v1h-1zM432 76h1v1h-1zM423 69h1v1h-1zM418 70h1v1h-1zM426 66h1v1h-1zM411 72h1v1h-1zM422 80h1v1h-1zM415 77h1v1h-1zM410 69h1v1h-1z" fill="#d418d8" fill-opacity="0.8"/>
<path d="M458 75h1v1h-1zM468 71h1v1h-1zM440 79h1v1h-1zM447 69h1v1h-1zM450 76h1v1h-1zM449 80h1v1h-1zM444 77h1v1h-1zM456 70h1v1h-1zM458 89h1v1h-1zM456 75h1v1h-1zM448 87h1v1h-1zM441 71h1v1h-1zM465 83h1v1h-1zM457 76h1v1h-1zM447 74h1v1h-1zM446 73h1v1h-1zM454 67h1v1h-1zM470 67h1v1h-1zM446 78h1v1h-1zM452 76h1v1h-1zM448 82h1v1h-1zM445 81h1v1h-1zM448 86h1v1h-1zM462 84h1v1h-1zM472 77h1v1h-1zM449 78h1v1h-1zM441 79h1v1h-1zM449 88h1v1h-1zM448 79h1v1h-1zM473 67h1v1h-1zM453 70h1v1h-1zM454 65h1v1h-1zM454 82h1v1h-1zM446 84h1v1h-1zM460 76h1v1h-1zM466 78h1v1h-1zM454 80h1v1h-1zM451 65h1v1h-1zM457 78h1v1h-1zM447 79h1v1h-1zM452 81h1v1h-1zM455 72h1v1h-1zM454 71h1v1h-1zM462 90h1v1h-1zM445 79h1v1h-1zM447 89h1v1h-1zM448 76h1v1h-1zM457 87h1v1h-1zM449 77h1v1h-1zM441 76h1v1h-1zM469 85h1v1h-1zM440 82h1v1h-1zM441 91h1v1h-1zM463 75h1v1h-1zM451 81h1v1h-1zM462 83h1v1h-1zM464 64h1v1h-1zM441 68h1v1h-1zM443 82h1v1h-1zM446 74h1v1h-1zM456 80h1v1h-1zM473 82h1v1h-1zM447 78h1v1h-1zM453 78h1v1h-1zM443 72h1v1h-1zM465 69h1v1h-1zM444 87h1v1h-1zM449 69h1v1h-1zM458 86h1v1h-1zM442 71h1v1h-1zM444 88h1v1h-1zM454 72h1v1h-1zM455 81h1v1h-1zM443 86h1v1h-1zM447 88h1v1h-1zM460 91h1v1h-1zM453 85h1v1h-1zM461 69h1v1h-1zM456 85h1v1h-1zM451 74h1v1h-1zM455 79h1v1h-1zM448 78h1v1h-1zM462 87h1v1h-1zM458 82h1v1h-1zM470 73h1v1h-1zM448 83h1v1h-1zM451 82h1v1h-1zM449 84h1v1h-1zM461 83h1v1h-1zM447 84h1v1h-1zM457 82h1v1h-1zM446 83h1v1h-1zM459 82h1v1h-1zM464 86h1v1h-1zM454 84h1v1h-1zM442 77h1v1h-1zM458 74h1v1h-1zM447 82h1v1h-1zM448 73h1v1h-1zM459 77h1v1h-1zM442 87h1v1h-1zM457 73h1v1h-1zM452 70h1v1h-1zM452 79h1v1h-1zM453 73h1v1h-1zM449 87h1v1h-1zM441 73h1v1h-1zM444 83h1v1h-1zM468 74h1v1h-1zM457 70h1v1h-1zM440 89h1v1h-1zM445 90h1v1h-1zM451 83h1v1h-1zM444 71h1v1h-1zM444 90h1v1h-1zM450 70h1v1h-1zM451 79h1v1h-1zM453 82h1v1h-1zM441 82h1v1h-1zM451 78h1v1h-1zM444 73h1v1h-1zM447 91h1v1h-1zM459 74h1v1h-1zM440 75h1v1h-1zM456 81h1v1h-1zM465 75h1v1h-1zM452 87h1v1h-1zM449 90h1v1h-1zM446 77h1v1h-1zM447 80h1v1h-1zM460 87h1v1h-1zM459 80h1v1h-1zM477 69h1v1h-1zM461 73h1v1h-1zM450 85h1v1h-1zM443 73h1v1h-1zM448 68h1v1h-1zM450 83h1v1h-1zM455 85h1v1h-1zM455 75h1v1h-1zM450 74h1v1h-1zM446 75h1v1h-1zM466 81h1v1h-1zM454 64h1v1h-1zM453 72h1v1h-1zM452 68h1v1h-1zM475 76h1v1h-1zM450 68h1v1h-1zM458 80h1v1h-1zM454 66h1v1h-1zM452 69h1v1h-1zM467 73h1v1h-1zM454 79h1v1h-1zM442 83h1v1h-1zM464 79h1v1h-1zM455 88h1v1h-1zM460 83h1v1h-1zM463 84h1v1h-1zM472 80h1v1h-1zM459 84h1v1h-1zM455 65h1v1h-1zM460 92h1v1h-1zM458 72h1v1h-1zM467 67h1v1h-1zM462 66h1v1h-1zM465 85h1v1h-1zM458 85h1v1h-1zM446 70h1v1h-1zM467 75h1v1h-1zM459 72h1v1h-1zM470 76h1v1h-1zM445 73h1v1h-1zM449 66h1v1h-1zM445 74h1v1h-1zM453 84h1v1h-1zM453 68h1v1h-1zM466 75h1v1h-1zM472 79h1v1h-1zM462 77h1v1h-1zM462 75h1v1h-1zM462 82h1v1h-1zM445 84h1v1h-1zM446 76h1v1h-1zM448 65h1v1h-1zM469 77h1v1h-1zM459 78h1v1h-1zM458 67h1v1h-1zM443 67h1v1h-1zM469 91h1v1h-1zM468 84h1v1h-1zM442 79h1v1h-1zM467 78h1v1h-1zM448 75h1v1h-1zM454 87h1v1h-1zM460 81h1v1h-1zM457 81h1v1h-1zM441 86h1v1h-1zM445 78h1v1h-1zM446 72h1v1h-1zM461 76h1v1h-1zM466 79h1v1h-1zM463 69h1v1h-1zM453 75h1v1h-1zM466 82h1v1h-1zM453 88h1v1h-1zM465 67h1v1h-1zM442 68h1v1h-1zM443 77h1v1h-1zM451 84h1v1h-1zM471 80h1v1h-1zM455 90h1v1h-1zM464 84h1v1h-1zM450 75h1v1h-1zM464 80h1v1h-1zM453 86h1v1h-1zM458 68h1v1h-1zM464 76h1v1h-1zM444 75h1v1h-1zM445 77h1v1h-1zM444 70h1v1h-1zM448 84h1v1h-1zM453 79h1v1h-1zM457 80h1v1h-1zM449 83h1v1h-1zM455 78h1v1h-1zM460 66h1v1h-1zM442 80h1v1h-1zM446 79h1v1h-1zM462 73h1v1h-1zM444 81h1v1h-1zM456 83h1v1h-1zM452 73h1v1h-1zM443 65h1v1h-1zM460 84h1v1h-1zM447 76h1v1h-1zM467 74h1v1h-1zM444 86h1v1h-1zM458 79h1v1h-1zM471 83h1v1h-1zM462 69h1v1h-1zM457 75h1v1h-1zM444 76h1v1h-1zM468 69h1v1h-1zM446 81h1v1h-1zM463 82h1v1h-1zM442 70h1v1h-1zM445 89h1v1h-1zM446 86h1v1h-1zM447 87h1v1h-1zM444 69h1v1h-1zM455 83h1v1h-1zM447 77h1v1h-1zM446 71h1v1h-1zM461 88h1v1h-1zM457 83h1v1h-1zM452 78h1v1h-1zM445 82h1v1h-1zM455 84h1v1h-1zM457 71h1v1h-1zM453 67h1v1h-1zM454 68h1v1h-1zM449 79h1v1h-1zM450 66h1v1h-1zM445 72h1v1h-1zM443 89h1v1h-1zM451 85h1v1h-1zM448 72h1v1h-1z" fill="#eccc98" fill-opacity="0.55"/>
<path d="M420 125h1v1h-1zM447 110h1v1h-1zM415 103h1v1h-1zM406 124h1v1h-1zM425 109h1v1h-1zM392 113h1v1h-1zM447 102h1v1h-1zM416 104h1v1h-1zM405 116h1v1h-1zM399 113h1v1h-1zM410 111h1v1h-1zM414 98h1v1h-1zM418 129h1v1h-1zM411 100h1v1h-1zM423 109h1v1h-1zM407 111h1v1h-1zM431 109h1v1h-1zM404 117h1v1h-1zM404 113h1v1h-1zM426 114h1v1h-1zM422 115h1v1h-1zM437 115h1v1h-1zM418 110h1v1h-1zM425 98h1v1h-1zM395 127h1v1h-1zM409 119h1v1h-1zM437 107h1v1h-1zM427 105h1v1h-1zM407 124h1v1h-1zM412 105h1v1h-1zM406 120h1v1h-1zM427 122h1v1h-1zM377 100h1v1h-1zM404 122h1v1h-1zM398 100h1v1h-1zM428 126h1v1h-1zM412 113h1v1h-1zM410 120h1v1h-1zM423 120h1v1h-1zM402 121h1v1h-1zM443 120h1v1h-1zM427 112h1v1h-1zM409 132h1v1h-1zM413 112h1v1h-1zM404 120h1v1h-1zM436 107h1v1h-1zM383 109h1v1h-1zM418 108h1v1h-1zM410 123h1v1h-1zM428 104h1v1h-1zM418 112h1v1h-1zM419 115h1v1h-1zM421 105h1v1h-1zM420 99h1v1h-1zM405 105h1v1h-1zM406 117h1v1h-1zM432 109h1v1h-1zM433 110h1v1h-1zM411 103h1v1h-1zM407 134h1v1h-1zM419 120h1v1h-1zM424 100h1v1h-1zM394 122h1v1h-1zM410 107h1v1h-1zM403 124h1v1h-1zM419 123h1v1h-1zM386 124h1v1h-1zM413 117h1v1h-1zM434 104h1v1h-1zM409 120h1v1h-1zM421 120h1v1h-1zM392 117h1v1h-1zM414 120h1v1h-1zM393 111h1v1h-1zM413 128h1v1h-1zM415 102h1v1h-1zM397 112h1v1h-1zM432 118h1v1h-1zM385 108h1v1h-1zM431 102h1v1h-1zM406 104h1v1h-1zM400 105h1v1h-1zM419 110h1v1h-1zM419 112h1v1h-1zM409 116h1v1h-1zM424 118h1v1h-1zM413 127h1v1h-1zM413 102h1v1h-1zM435 109h1v1h-1zM398 115h1v1h-1zM415 113h1v1h-1zM393 112h1v1h-1zM421 128h1v1h-1zM421 124h1v1h-1zM436 122h1v1h-1zM426 121h1v1h-1zM423 105h1v1h-1zM390 107h1v1h-1zM422 125h1v1h-1zM410 110h1v1h-1zM435 123h1v1h-1zM417 113h1v1h-1zM385 124h1v1h-1zM419 113h1v1h-1zM414 111h1v1h-1zM421 113h1v1h-1zM393 114h1v1h-1zM445 118h1v1h-1zM432 123h1v1h-1zM414 114h1v1h-1zM438 117h1v1h-1zM424 98h1v1h-1zM415 124h1v1h-1zM403 110h1v1h-1zM418 119h1v1h-1zM397 114h1v1h-1zM423 102h1v1h-1zM426 98h1v1h-1zM428 119h1v1h-1zM434 95h1v1h-1zM415 106h1v1h-1zM432 112h1v1h-1zM412 104h1v1h-1zM406 97h1v1h-1zM408 107h1v1h-1zM409 118h1v1h-1zM408 112h1v1h-1zM399 109h1v1h-1zM416 109h1v1h-1zM425 103h1v1h-1zM408 118h1v1h-1zM430 98h1v1h-1zM413 114h1v1h-1zM411 117h1v1h-1zM410 121h1v1h-1zM422 98h1v1h-1zM384 101h1v1h-1zM400 120h1v1h-1zM392 115h1v1h-1zM414 116h1v1h-1zM407 114h1v1h-1zM400 115h1v1h-1zM406 114h1v1h-1zM428 118h1v1h-1zM413 115h1v1h-1zM414 112h1v1h-1zM407 118h1v1h-1zM416 125h1v1h-1zM420 115h1v1h-1zM406 107h1v1h-1zM415 115h1v1h-1zM432 105h1v1h-1zM431 112h1v1h-1zM416 121h1v1h-1zM425 117h1v1h-1zM402 113h1v1h-1zM400 124h1v1h-1zM416 108h1v1h-1zM415 117h1v1h-1zM397 124h1v1h-1zM411 122h1v1h-1zM407 109h1v1h-1zM424 119h1v1h-1zM414 101h1v1h-1zM429 120h1v1h-1zM391 101h1v1h-1zM410 118h1v1h-1zM416 102h1v1h-1zM417 117h1v1h-1zM421 112h1v1h-1zM403 107h1v1h-1zM427 115h1v1h-1zM424 117h1v1h-1zM428 102h1v1h-1zM430 121h1v1h-1zM405 119h1v1h-1zM403 117h1v1h-1zM426 112h1v1h-1zM400 101h1v1h-1zM420 107h1v1h-1zM396 106h1v1h-1zM423 128h1v1h-1zM379 96h1v1h-1zM407 122h1v1h-1zM420 109h1v1h-1zM404 129h1v1h-1zM399 104h1v1h-1zM399 117h1v1h-1zM418 120h1v1h-1zM399 114h1v1h-1zM390 106h1v1h-1zM408 114h1v1h-1zM380 117h1v1h-1zM403 114h1v1h-1zM423 126h1v1h-1zM431 123h1v1h-1zM429 102h1v1h-1zM405 113h1v1h-1zM413 124h1v1h-1zM422 120h1v1h-1zM419 100h1v1h-1zM433 116h1v1h-1zM412 102h1v1h-1zM389 119h1v1h-1zM426 102h1v1h-1zM388 116h1v1h-1zM421 114h1v1h-1zM409 104h1v1h-1zM423 129h1v1h-1zM397 123h1v1h-1zM400 117h1v1h-1zM422 129h1v1h-1zM409 110h1v1h-1zM405 99h1v1h-1zM387 109h1v1h-1zM423 115h1v1h-1zM435 102h1v1h-1zM406 112h1v1h-1zM432 106h1v1h-1zM421 123h1v1h-1zM431 111h1v1h-1zM412 122h1v1h-1zM411 120h1v1h-1zM415 123h1v1h-1zM420 118h1v1h-1zM412 140h1v1h-1zM409 97h1v1h-1zM413 118h1v1h-1zM420 112h1v1h-1zM404 105h1v1h-1zM432 110h1v1h-1zM405 104h1v1h-1zM422 113h1v1h-1zM426 123h1v1h-1zM413 110h1v1h-1zM441 128h1v1h-1zM420 106h1v1h-1zM430 113h1v1h-1zM405 124h1v1h-1zM417 114h1v1h-1zM441 108h1v1h-1zM391 126h1v1h-1zM408 113h1v1h-1zM415 133h1v1h-1zM394 116h1v1h-1zM418 117h1v1h-1zM420 116h1v1h-1zM451 117h1v1h-1zM433 114h1v1h-1zM403 112h1v1h-1zM389 133h1v1h-1zM392 126h1v1h-1zM404 109h1v1h-1zM400 113h1v1h-1zM417 94h1v1h-1zM388 115h1v1h-1zM395 128h1v1h-1zM402 112h1v1h-1zM412 107h1v1h-1zM443 110h1v1h-1zM418 107h1v1h-1zM404 112h1v1h-1zM400 123h1v1h-1zM426 117h1v1h-1zM421 104h1v1h-1zM395 125h1v1h-1zM398 98h1v1h-1zM425 121h1v1h-1zM425 111h1v1h-1zM434 124h1v1h-1zM429 117h1v1h-1zM410 112h1v1h-1zM405 112h1v1h-1zM440 109h1v1h-1zM432 113h1v1h-1zM431 130h1v1h-1zM389 108h1v1h-1zM409 111h1v1h-1zM407 116h1v1h-1zM409 115h1v1h-1zM414 117h1v1h-1zM376 129h1v1h-1zM412 121h1v1h-1zM440 105h1v1h-1zM418 115h1v1h-1zM422 101h1v1h-1zM405 126h1v1h-1zM396 115h1v1h-1zM419 118h1v1h-1zM445 112h1v1h-1zM412 109h1v1h-1zM417 125h1v1h-1zM413 119h1v1h-1zM425 118h1v1h-1zM421 108h1v1h-1zM429 114h1v1h-1zM403 97h1v1h-1zM446 115h1v1h-1zM425 122h1v1h-1zM412 106h1v1h-1zM425 116h1v1h-1zM441 112h1v1h-1zM410 101h1v1h-1zM407 99h1v1h-1zM379 113h1v1h-1zM406 118h1v1h-1zM413 106h1v1h-1zM409 113h1v1h-1zM420 104h1v1h-1zM401 124h1v1h-1zM402 116h1v1h-1zM405 114h1v1h-1zM413 120h1v1h-1zM379 116h1v1h-1zM415 107h1v1h-1zM424 110h1v1h-1zM416 126h1v1h-1zM435 107h1v1h-1zM455 122h1v1h-1zM405 117h1v1h-1zM389 115h1v1h-1zM427 121h1v1h-1zM386 120h1v1h-1zM422 117h1v1h-1zM417 120h1v1h-1zM433 115h1v1h-1zM427 101h1v1h-1zM433 129h1v1h-1zM403 105h1v1h-1zM417 121h1v1h-1zM409 94h1v1h-1zM428 124h1v1h-1zM414 121h1v1h-1zM402 107h1v1h-1zM392 120h1v1h-1zM399 121h1v1h-1zM415 110h1v1h-1zM407 110h1v1h-1zM381 117h1v1h-1zM395 109h1v1h-1zM414 115h1v1h-1zM393 110h1v1h-1zM439 124h1v1h-1zM406 111h1v1h-1zM405 102h1v1h-1zM394 109h1v1h-1zM433 107h1v1h-1zM388 118h1v1h-1zM412 112h1v1h-1zM410 105h1v1h-1zM431 125h1v1h-1zM405 115h1v1h-1zM416 96h1v1h-1zM402 117h1v1h-1zM417 96h1v1h-1zM422 102h1v1h-1zM443 126h1v1h-1zM393 118h1v1h-1zM431 104h1v1h-1zM404 108h1v1h-1zM400 110h1v1h-1zM411 116h1v1h-1zM410 109h1v1h-1zM402 126h1v1h-1zM417 115h1v1h-1zM393 103h1v1h-1zM405 110h1v1h-1zM434 112h1v1h-1zM417 123h1v1h-1zM386 99h1v1h-1zM452 114h1v1h-1zM406 108h1v1h-1zM415 105h1v1h-1zM413 116h1v1h-1zM406 110h1v1h-1zM400 125h1v1h-1zM398 124h1v1h-1zM427 118h1v1h-1zM431 116h1v1h-1zM424 123h1v1h-1zM410 95h1v1h-1zM426 126h1v1h-1zM400 119h1v1h-1zM398 119h1v1h-1zM422 111h1v1h-1zM416 118h1v1h-1zM431 118h1v1h-1zM400 102h1v1h-1zM393 128h1v1h-1zM424 104h1v1h-1zM412 117h1v1h-1zM403 103h1v1h-1zM429 104h1v1h-1zM401 119h1v1h-1zM423 122h1v1h-1zM418 114h1v1h-1zM411 105h1v1h-1zM423 118h1v1h-1zM433 105h1v1h-1zM391 111h1v1h-1zM422 94h1v1h-1zM410 124h1v1h-1zM388 102h1v1h-1zM387 106h1v1h-1zM455 97h1v1h-1zM404 111h1v1h-1zM416 123h1v1h-1zM399 118h1v1h-1zM391 105h1v1h-1zM418 103h1v1h-1zM408 111h1v1h-1zM416 97h1v1h-1zM388 119h1v1h-1zM401 110h1v1h-1zM423 108h1v1h-1zM408 108h1v1h-1zM415 99h1v1h-1zM397 122h1v1h-1zM427 124h1v1h-1zM434 126h1v1h-1zM417 122h1v1h-1zM380 108h1v1h-1zM412 111h1v1h-1zM451 110h1v1h-1zM408 127h1v1h-1zM423 121h1v1h-1zM419 125h1v1h-1zM411 97h1v1h-1zM425 107h1v1h-1zM405 122h1v1h-1zM410 122h1v1h-1zM435 120h1v1h-1zM438 106h1v1h-1zM418 101h1v1h-1zM390 123h1v1h-1zM403 120h1v1h-1zM381 103h1v1h-1zM411 112h1v1h-1zM425 126h1v1h-1zM391 117h1v1h-1zM432 126h1v1h-1zM415 97h1v1h-1zM404 123h1v1h-1zM403 116h1v1h-1zM396 104h1v1h-1zM445 108h1v1h-1zM412 110h1v1h-1zM412 120h1v1h-1zM406 109h1v1h-1zM419 97h1v1h-1zM412 123h1v1h-1zM408 115h1v1h-1zM418 116h1v1h-1zM380 113h1v1h-1zM401 112h1v1h-1zM437 111h1v1h-1zM398 117h1v1h-1zM408 109h1v1h-1zM427 109h1v1h-1zM415 116h1v1h-1zM414 119h1v1h-1zM441 116h1v1h-1zM400 126h1v1h-1zM432 97h1v1h-1zM431 107h1v1h-1zM413 111h1v1h-1zM415 118h1v1h-1zM434 108h1v1h-1zM416 119h1v1h-1zM410 100h1v1h-1zM427 108h1v1h-1zM437 105h1v1h-1zM404 118h1v1h-1zM430 127h1v1h-1zM440 116h1v1h-1zM434 93h1v1h-1zM419 122h1v1h-1zM432 114h1v1h-1zM390 105h1v1h-1zM412 115h1v1h-1zM393 119h1v1h-1zM398 123h1v1h-1zM396 121h1v1h-1zM417 106h1v1h-1zM399 119h1v1h-1zM408 96h1v1h-1zM410 115h1v1h-1zM433 117h1v1h-1zM398 114h1v1h-1zM428 120h1v1h-1zM416 98h1v1h-1zM441 103h1v1h-1zM433 93h1v1h-1zM432 121h1v1h-1zM425 114h1v1h-1zM414 107h1v1h-1zM418 124h1v1h-1zM418 118h1v1h-1zM395 120h1v1h-1zM401 101h1v1h-1zM383 99h1v1h-1zM422 122h1v1h-1zM419 121h1v1h-1zM417 118h1v1h-1zM400 114h1v1h-1zM400 103h1v1h-1zM421 127h1v1h-1zM407 106h1v1h-1zM418 121h1v1h-1zM419 124h1v1h-1zM435 114h1v1h-1zM448 112h1v1h-1zM391 104h1v1h-1zM390 116h1v1h-1zM407 113h1v1h-1zM427 113h1v1h-1zM423 103h1v1h-1zM384 119h1v1h-1zM411 109h1v1h-1zM384 110h1v1h-1zM411 118h1v1h-1zM391 99h1v1h-1zM423 113h1v1h-1zM414 109h1v1h-1zM392 104h1v1h-1zM447 114h1v1h-1zM406 119h1v1h-1zM428 114h1v1h-1zM389 95h1v1h-1zM401 99h1v1h-1zM404 101h1v1h-1zM408 117h1v1h-1zM412 108h1v1h-1zM429 110h1v1h-1zM406 131h1v1h-1zM420 113h1v1h-1zM410 104h1v1h-1zM388 104h1v1h-1zM441 127h1v1h-1zM387 116h1v1h-1zM409 126h1v1h-1zM398 105h1v1h-1zM437 110h1v1h-1zM428 121h1v1h-1zM394 97h1v1h-1zM407 125h1v1h-1zM396 117h1v1h-1zM440 107h1v1h-1zM399 101h1v1h-1zM437 128h1v1h-1zM430 119h1v1h-1zM414 96h1v1h-1zM407 121h1v1h-1zM402 102h1v1h-1zM440 102h1v1h-1zM434 115h1v1h-1zM391 112h1v1h-1zM397 102h1v1h-1zM398 101h1v1h-1zM420 136h1v1h-1zM427 110h1v1h-1zM399 108h1v1h-1zM384 129h1v1h-1zM428 111h1v1h-1zM400 112h1v1h-1zM380 125h1v1h-1zM397 100h1v1h-1zM394 102h1v1h-1zM397 106h1v1h-1zM423 111h1v1h-1zM418 100h1v1h-1zM429 109h1v1h-1zM378 114h1v1h-1zM424 116h1v1h-1zM422 110h1v1h-1zM430 129h1v1h-1zM433 112h1v1h-1zM432 111h1v1h-1zM428 97h1v1h-1zM448 102h1v1h-1zM428 115h1v1h-1zM427 125h1v1h-1zM409 124h1v1h-1zM411 108h1v1h-1zM415 131h1v1h-1zM428 108h1v1h-1zM418 102h1v1h-1zM436 117h1v1h-1zM390 108h1v1h-1zM425 123h1v1h-1zM398 97h1v1h-1zM416 113h1v1h-1zM423 133h1v1h-1zM422 118h1v1h-1zM410 116h1v1h-1zM425 113h1v1h-1zM403 115h1v1h-1zM414 106h1v1h-1zM421 119h1v1h-1zM417 107h1v1h-1zM406 125h1v1h-1zM411 121h1v1h-1zM421 109h1v1h-1zM421 110h1v1h-1zM404 102h1v1h-1zM446 118h1v1h-1zM407 120h1v1h-1zM396 109h1v1h-1zM433 102h1v1h-1zM406 113h1v1h-1zM401 116h1v1h-1zM392 114h1v1h-1zM420 110h1v1h-1zM420 123h1v1h-1zM394 112h1v1h-1zM433 108h1v1h-1zM379 115h1v1h-1zM396 113h1v1h-1zM435 122h1v1h-1zM420 120h1v1h-1zM434 122h1v1h-1zM416 122h1v1h-1zM406 115h1v1h-1zM405 118h1v1h-1zM446 108h1v1h-1zM408 105h1v1h-1zM424 102h1v1h-1zM427 111h1v1h-1zM402 128h1v1h-1zM408 120h1v1h-1zM440 103h1v1h-1zM406 122h1v1h-1zM420 117h1v1h-1zM421 115h1v1h-1zM386 125h1v1h-1zM410 119h1v1h-1zM394 123h1v1h-1zM431 105h1v1h-1zM387 114h1v1h-1zM403 101h1v1h-1zM399 112h1v1h-1zM384 107h1v1h-1zM407 101h1v1h-1zM423 112h1v1h-1zM428 100h1v1h-1zM380 124h1v1h-1zM427 127h1v1h-1zM409 108h1v1h-1zM430 118h1v1h-1zM400 121h1v1h-1zM403 122h1v1h-1zM414 105h1v1h-1zM413 94h1v1h-1zM411 115h1v1h-1zM432 120h1v1h-1zM419 116h1v1h-1zM405 108h1v1h-1zM396 118h1v1h-1zM431 117h1v1h-1zM404 115h1v1h-1zM417 128h1v1h-1zM407 117h1v1h-1zM407 115h1v1h-1zM417 102h1v1h-1zM397 104h1v1h-1zM430 110h1v1h-1zM398 109h1v1h-1zM430 96h1v1h-1zM405 127h1v1h-1zM405 120h1v1h-1zM428 116h1v1h-1zM420 101h1v1h-1zM430 124h1v1h-1zM407 104h1v1h-1zM415 114h1v1h-1zM429 112h1v1h-1zM394 118h1v1h-1zM422 112h1v1h-1zM426 105h1v1h-1zM408 129h1v1h-1zM443 113h1v1h-1zM404 127h1v1h-1zM429 124h1v1h-1zM422 114h1v1h-1zM393 121h1v1h-1zM424 108h1v1h-1zM428 117h1v1h-1zM414 110h1v1h-1zM432 101h1v1h-1zM377 125h1v1h-1zM383 118h1v1h-1zM404 133h1v1h-1zM438 111h1v1h-1zM428 110h1v1h-1zM433 99h1v1h-1zM431 103h1v1h-1zM409 123h1v1h-1zM438 116h1v1h-1zM462 122h1v1h-1zM419 119h1v1h-1zM414 122h1v1h-1zM402 122h1v1h-1zM388 108h1v1h-1zM398 108h1v1h-1zM432 125h1v1h-1zM388 122h1v1h-1zM408 119h1v1h-1zM435 104h1v1h-1zM438 119h1v1h-1zM394 117h1v1h-1zM420 94h1v1h-1zM428 105h1v1h-1zM407 108h1v1h-1zM452 123h1v1h-1zM421 117h1v1h-1zM397 110h1v1h-1zM414 113h1v1h-1zM401 127h1v1h-1zM438 114h1v1h-1zM392 119h1v1h-1zM431 127h1v1h-1zM412 124h1v1h-1zM400 100h1v1h-1zM408 121h1v1h-1zM395 111h1v1h-1zM413 105h1v1h-1zM448 109h1v1h-1zM383 117h1v1h-1zM427 96h1v1h-1zM417 105h1v1h-1zM402 123h1v1h-1zM411 107h1v1h-1zM409 106h1v1h-1zM426 104h1v1h-1zM408 101h1v1h-1zM407 128h1v1h-1zM391 133h1v1h-1zM378 120h1v1h-1zM409 122h1v1h-1zM406 128h1v1h-1zM421 125h1v1h-1zM418 132h1v1h-1zM396 114h1v1h-1zM421 118h1v1h-1zM400 107h1v1h-1zM410 129h1v1h-1zM411 124h1v1h-1zM430 107h1v1h-1zM396 116h1v1h-1zM413 122h1v1h-1zM387 111h1v1h-1zM401 100h1v1h-1zM408 116h1v1h-1zM416 106h1v1h-1zM447 131h1v1h-1zM397 101h1v1h-1zM404 116h1v1h-1zM408 104h1v1h-1zM402 106h1v1h-1zM419 130h1v1h-1zM447 117h1v1h-1zM405 100h1v1h-1zM392 121h1v1h-1zM447 120h1v1h-1zM400 116h1v1h-1zM435 101h1v1h-1zM432 115h1v1h-1zM398 116h1v1h-1zM434 109h1v1h-1zM415 126h1v1h-1zM400 106h1v1h-1zM433 111h1v1h-1zM389 118h1v1h-1zM398 113h1v1h-1zM438 104h1v1h-1zM405 101h1v1h-1zM439 101h1v1h-1zM408 106h1v1h-1zM409 109h1v1h-1zM398 122h1v1h-1zM403 126h1v1h-1zM401 97h1v1h-1zM396 101h1v1h-1zM426 108h1v1h-1zM386 119h1v1h-1zM389 116h1v1h-1zM425 108h1v1h-1zM411 99h1v1h-1zM434 114h1v1h-1zM417 103h1v1h-1zM400 98h1v1h-1zM380 111h1v1h-1zM395 116h1v1h-1zM416 110h1v1h-1zM412 101h1v1h-1zM421 98h1v1h-1zM420 102h1v1h-1zM428 113h1v1h-1zM433 104h1v1h-1zM427 123h1v1h-1zM401 118h1v1h-1zM411 114h1v1h-1zM390 117h1v1h-1zM405 111h1v1h-1zM402 108h1v1h-1zM433 118h1v1h-1zM417 104h1v1h-1zM413 107h1v1h-1zM381 106h1v1h-1zM436 132h1v1h-1zM420 111h1v1h-1zM401 129h1v1h-1zM439 103h1v1h-1zM430 117h1v1h-1zM422 116h1v1h-1zM387 107h1v1h-1zM424 122h1v1h-1zM403 109h1v1h-1zM394 106h1v1h-1zM405 123h1v1h-1zM388 107h1v1h-1zM439 114h1v1h-1zM394 131h1v1h-1zM410 117h1v1h-1zM407 138h1v1h-1zM423 123h1v1h-1zM416 128h1v1h-1zM435 126h1v1h-1zM415 98h1v1h-1zM414 123h1v1h-1zM431 108h1v1h-1zM420 108h1v1h-1zM441 117h1v1h-1zM393 122h1v1h-1zM448 107h1v1h-1zM416 116h1v1h-1zM431 115h1v1h-1zM380 116h1v1h-1zM431 120h1v1h-1zM449 114h1v1h-1zM394 119h1v1h-1zM421 111h1v1h-1zM430 114h1v1h-1zM406 116h1v1h-1zM410 132h1v1h-1zM381 105h1v1h-1zM441 114h1v1h-1zM397 103h1v1h-1zM405 109h1v1h-1zM446 112h1v1h-1zM424 105h1v1h-1zM429 131h1v1h-1zM392 96h1v1h-1zM403 104h1v1h-1zM401 115h1v1h-1zM393 116h1v1h-1zM389 111h1v1h-1zM417 101h1v1h-1zM436 112h1v1h-1zM384 108h1v1h-1zM406 98h1v1h-1zM395 107h1v1h-1zM391 120h1v1h-1zM383 112h1v1h-1zM404 97h1v1h-1zM394 107h1v1h-1zM399 127h1v1h-1zM427 104h1v1h-1zM407 107h1v1h-1zM406 121h1v1h-1zM427 119h1v1h-1zM418 133h1v1h-1zM400 118h1v1h-1zM437 112h1v1h-1zM398 107h1v1h-1zM392 118h1v1h-1zM424 109h1v1h-1zM426 107h1v1h-1zM392 97h1v1h-1zM405 107h1v1h-1zM434 106h1v1h-1zM413 104h1v1h-1zM419 114h1v1h-1zM425 124h1v1h-1zM422 105h1v1h-1zM419 106h1v1h-1zM397 118h1v1h-1z" fill="#4646e0" fill-opacity="0.7"/>
<path d="M411 115h1v1h-1zM404 114h1v1h-1zM408 120h1v1h-1zM429 110h1v1h-1zM402 104h1v1h-1zM431 122h1v1h-1zM419 108h1v1h-1zM407 114h1v1h-1zM432 100h1v1h-1zM416 115h1v1h-1zM424 117h1v1h-1zM409 113h1v1h-1zM407 111h1v1h-1zM402 112h1v1h-1zM422 123h1v1h-1zM410 111h1v1h-1zM406 115h1v1h-1zM391 111h1v1h-1zM406 122h1v1h-1zM421 112h1v1h-1zM404 105h1v1h-1zM410 116h1v1h-1zM425 105h1v1h-1zM410 115h1v1h-1zM417 104h1v1h-1zM417 112h1v1h-1zM412 111h1v1h-1zM422 118h1v1h-1zM420 106h1v1h-1zM416 110h1v1h-1zM418 118h1v1h-1zM408 105h1v1h-1zM413 114h1v1h-1zM399 112h1v1h-1zM407 118h1v1h-1zM403 109h1v1h-1zM401 114h1v1h-1zM419 113h1v1h-1zM421 110h1v1h-1zM400 108h1v1h-1zM412 124h1v1h-1zM417 114h1v1h-1zM414 99h1v1h-1zM408 121h1v1h-1zM414 119h1v1h-1zM400 111h1v1h-1zM407 115h1v1h-1zM394 110h1v1h-1zM420 118h1v1h-1zM414 107h1v1h-1zM418 108h1v1h-1zM406 102h1v1h-1zM421 108h1v1h-1zM407 110h1v1h-1zM405 112h1v1h-1zM413 116h1v1h-1zM408 117h1v1h-1zM421 107h1v1h-1zM410 108h1v1h-1zM403 101h1v1h-1zM425 115h1v1h-1zM407 112h1v1h-1zM387 112h1v1h-1zM414 117h1v1h-1zM409 105h1v1h-1zM402 110h1v1h-1zM407 107h1v1h-1zM403 106h1v1h-1zM404 115h1v1h-1zM415 121h1v1h-1zM422 110h1v1h-1zM417 117h1v1h-1zM417 127h1v1h-1zM408 110h1v1h-1zM416 109h1v1h-1zM404 109h1v1h-1zM409 116h1v1h-1zM400 123h1v1h-1zM406 112h1v1h-1zM413 110h1v1h-1zM389 102h1v1h-1zM419 122h1v1h-1zM434 116h1v1h-1zM403 121h1v1h-1zM405 127h1v1h-1zM401 109h1v1h-1zM416 114h1v1h-1zM409 108h1v1h-1zM386 114h1v1h-1zM409 121h1v1h-1zM395 114h1v1h-1zM395 109h1v1h-1zM401 113h1v1h-1zM420 110h1v1h-1zM393 118h1v1h-1zM419 104h1v1h-1zM410 100h1v1h-1zM432 109h1v1h-1zM401 97h1v1h-1zM411 116h1v1h-1zM413 106h1v1h-1zM404 106h1v1h-1zM437 108h1v1h-1zM411 114h1v1h-1zM415 111h1v1h-1zM406 110h1v1h-1zM425 103h1v1h-1zM427 117h1v1h-1zM424 105h1v1h-1zM418 113h1v1h-1zM398 97h1v1h-1zM419 116h1v1h-1zM400 101h1v1h-1zM418 123h1v1h-1zM401 107h1v1h-1zM398 113h1v1h-1zM397 127h1v1h-1zM392 117h1v1h-1zM406 107h1v1h-1zM397 113h1v1h-1zM377 118h1v1h-1zM413 119h1v1h-1zM425 110h1v1h-1zM424 113h1v1h-1zM429 119h1v1h-1zM399 116h1v1h-1zM416 113h1v1h-1zM398 120h1v1h-1zM419 121h1v1h-1zM413 108h1v1h-1zM401 115h1v1h-1zM417 111h1v1h-1zM412 109h1v1h-1zM419 118h1v1h-1zM415 109h1v1h-1zM414 115h1v1h-1zM406 119h1v1h-1zM408 112h1v1h-1zM405 121h1v1h-1zM432 115h1v1h-1zM412 104h1v1h-1zM395 108h1v1h-1zM409 111h1v1h-1zM399 113h1v1h-1zM414 118h1v1h-1zM403 104h1v1h-1zM410 102h1v1h-1zM392 112h1v1h-1zM409 110h1v1h-1zM415 114h1v1h-1zM407 109h1v1h-1zM420 115h1v1h-1zM426 116h1v1h-1zM400 113h1v1h-1zM414 116h1v1h-1zM420 120h1v1h-1zM398 119h1v1h-1zM424 115h1v1h-1zM400 122h1v1h-1zM423 113h1v1h-1zM419 115h1v1h-1zM413 118h1v1h-1zM406 111h1v1h-1zM394 113h1v1h-1zM417 107h1v1h-1zM419 112h1v1h-1zM418 114h1v1h-1zM399 109h1v1h-1zM411 119h1v1h-1zM404 122h1v1h-1zM395 111h1v1h-1zM412 115h1v1h-1zM401 116h1v1h-1zM413 102h1v1h-1zM417 113h1v1h-1zM401 105h1v1h-1zM403 119h1v1h-1zM405 103h1v1h-1zM398 116h1v1h-1zM403 118h1v1h-1zM419 107h1v1h-1zM410 106h1v1h-1zM418 109h1v1h-1zM404 112h1v1h-1zM414 109h1v1h-1zM402 105h1v1h-1zM424 111h1v1h-1zM418 119h1v1h-1zM416 116h1v1h-1zM407 113h1v1h-1zM433 114h1v1h-1zM394 116h1v1h-1zM397 124h1v1h-1zM430 125h1v1h-1zM391 113h1v1h-1zM378 125h1v1h-1zM421 106h1v1h-1zM427 104h1v1h-1zM419 119h1v1h-1zM427 113h1v1h-1zM414 114h1v1h-1zM416 112h1v1h-1zM420 109h1v1h-1zM427 108h1v1h-1zM404 116h1v1h-1zM397 114h1v1h-1zM428 115h1v1h-1zM399 114h1v1h-1zM421 113h1v1h-1zM415 112h1v1h-1zM428 118h1v1h-1zM418 106h1v1h-1zM419 114h1v1h-1zM392 108h1v1h-1zM410 105h1v1h-1zM406 120h1v1h-1zM430 117h1v1h-1zM404 107h1v1h-1zM411 113h1v1h-1zM414 111h1v1h-1zM410 114h1v1h-1zM396 116h1v1h-1zM396 114h1v1h-1zM393 114h1v1h-1zM403 105h1v1h-1zM422 115h1v1h-1zM429 108h1v1h-1zM403 114h1v1h-1zM429 120h1v1h-1zM418 116h1v1h-1zM407 106h1v1h-1zM406 105h1v1h-1zM420 96h1v1h-1zM400 115h1v1h-1zM407 124h1v1h-1zM395 121h1v1h-1zM417 115h1v1h-1zM408 102h1v1h-1zM399 119h1v1h-1zM400 107h1v1h-1zM403 112h1v1h-1zM429 116h1v1h-1zM415 107h1v1h-1zM424 112h1v1h-1zM423 110h1v1h-1zM401 119h1v1h-1zM401 112h1v1h-1zM431 118h1v1h-1zM402 123h1v1h-1zM415 105h1v1h-1zM412 101h1v1h-1zM419 106h1v1h-1zM429 106h1v1h-1zM425 116h1v1h-1zM416 121h1v1h-1zM397 118h1v1h-1zM413 103h1v1h-1zM402 118h1v1h-1zM407 128h1v1h-1zM411 105h1v1h-1zM401 108h1v1h-1zM404 110h1v1h-1zM412 112h1v1h-1zM422 101h1v1h-1zM418 115h1v1h-1zM414 122h1v1h-1zM417 120h1v1h-1zM408 108h1v1h-1zM422 107h1v1h-1zM412 113h1v1h-1zM397 115h1v1h-1zM411 110h1v1h-1zM407 108h1v1h-1zM405 105h1v1h-1zM421 117h1v1h-1zM407 104h1v1h-1zM391 105h1v1h-1zM432 107h1v1h-1zM405 110h1v1h-1zM391 109h1v1h-1zM409 115h1v1h-1zM408 106h1v1h-1zM411 104h1v1h-1zM427 115h1v1h-1zM420 112h1v1h-1zM395 106h1v1h-1zM423 127h1v1h-1zM386 120h1v1h-1zM412 118h1v1h-1zM417 119h1v1h-1zM409 107h1v1h-1zM418 112h1v1h-1zM432 114h1v1h-1zM405 120h1v1h-1zM412 110h1v1h-1zM407 119h1v1h-1zM405 111h1v1h-1zM420 124h1v1h-1zM430 113h1v1h-1zM424 114h1v1h-1zM433 117h1v1h-1zM417 122h1v1h-1zM408 122h1v1h-1zM423 124h1v1h-1zM418 110h1v1h-1zM416 96h1v1h-1zM394 117h1v1h-1zM411 109h1v1h-1zM415 120h1v1h-1zM422 119h1v1h-1zM416 107h1v1h-1zM409 118h1v1h-1zM398 110h1v1h-1zM410 112h1v1h-1zM400 114h1v1h-1zM402 119h1v1h-1zM414 104h1v1h-1zM416 119h1v1h-1zM395 110h1v1h-1zM405 118h1v1h-1zM417 105h1v1h-1zM426 104h1v1h-1zM405 113h1v1h-1zM393 112h1v1h-1zM416 108h1v1h-1zM417 108h1v1h-1zM404 101h1v1h-1zM403 110h1v1h-1zM404 113h1v1h-1zM423 108h1v1h-1zM413 109h1v1h-1zM427 116h1v1h-1zM411 122h1v1h-1zM414 123h1v1h-1zM376 119h1v1h-1zM413 101h1v1h-1zM421 120h1v1h-1zM415 116h1v1h-1zM408 113h1v1h-1zM406 116h1v1h-1zM423 114h1v1h-1zM383 107h1v1h-1zM410 117h1v1h-1zM407 116h1v1h-1zM426 110h1v1h-1zM414 108h1v1h-1zM427 121h1v1h-1zM391 103h1v1h-1zM411 131h1v1h-1zM413 105h1v1h-1zM402 109h1v1h-1zM399 115h1v1h-1zM410 109h1v1h-1zM403 113h1v1h-1zM401 110h1v1h-1zM426 118h1v1h-1zM423 116h1v1h-1zM392 111h1v1h-1zM411 98h1v1h-1zM420 113h1v1h-1zM413 111h1v1h-1zM407 103h1v1h-1zM423 121h1v1h-1zM416 111h1v1h-1zM389 103h1v1h-1zM399 117h1v1h-1zM424 110h1v1h-1zM399 104h1v1h-1zM406 114h1v1h-1zM400 103h1v1h-1zM416 105h1v1h-1zM400 112h1v1h-1zM422 109h1v1h-1zM412 122h1v1h-1zM398 115h1v1h-1zM425 125h1v1h-1zM406 103h1v1h-1zM414 120h1v1h-1zM420 121h1v1h-1zM398 109h1v1h-1zM412 108h1v1h-1zM408 111h1v1h-1zM393 126h1v1h-1zM402 93h1v1h-1zM421 115h1v1h-1zM424 107h1v1h-1zM428 108h1v1h-1zM415 132h1v1h-1zM394 120h1v1h-1zM432 112h1v1h-1zM391 115h1v1h-1zM400 106h1v1h-1zM392 105h1v1h-1zM432 103h1v1h-1zM405 114h1v1h-1zM410 120h1v1h-1zM420 114h1v1h-1zM438 122h1v1h-1zM395 112h1v1h-1zM402 114h1v1h-1zM413 115h1v1h-1zM405 115h1v1h-1zM428 111h1v1h-1zM425 112h1v1h-1zM408 116h1v1h-1zM399 111h1v1h-1zM411 106h1v1h-1zM435 111h1v1h-1zM389 115h1v1h-1zM391 114h1v1h-1zM402 124h1v1h-1zM406 113h1v1h-1zM402 97h1v1h-1zM396 117h1v1h-1zM411 121h1v1h-1zM422 105h1v1h-1zM438 114h1v1h-1zM426 113h1v1h-1zM440 109h1v1h-1zM422 113h1v1h-1zM403 116h1v1h-1zM402 115h1v1h-1zM394 112h1v1h-1zM423 117h1v1h-1zM419 105h1v1h-1zM418 122h1v1h-1zM418 97h1v1h-1zM422 112h1v1h-1zM424 118h1v1h-1zM402 111h1v1h-1zM398 117h1v1h-1zM415 108h1v1h-1zM417 118h1v1h-1zM415 119h1v1h-1zM410 104h1v1h-1zM397 110h1v1h-1zM411 111h1v1h-1zM407 125h1v1h-1zM396 111h1v1h-1zM393 113h1v1h-1zM421 111h1v1h-1zM416 120h1v1h-1zM425 108h1v1h-1zM415 113h1v1h-1zM415 102h1v1h-1zM398 105h1v1h-1zM423 112h1v1h-1zM408 118h1v1h-1z" fill="#2424e0" fill-opacity="0.75"/>
<path d="M481 105h1v1h-1zM488 100h1v1h-1zM478 108h1v1h-1zM480 119h1v1h-1zM479 108h1v1h-1zM473 109h1v1h-1zM477 112h1v1h-1zM467 113h1v1h-1zM480 104h1v1h-1zM481 102h1v1h-1zM484 111h1v1h-1zM484 103h1v1h-1zM476 104h1v1h-1zM477 111h1v1h-1zM487 101h1v1h-1zM477 104h1v1h-1zM473 99h1v1h-1zM474 112h1v1h-1zM474 115h1v1h-1zM476 108h1v1h-1zM477 101h1v1h-1zM475 120h1v1h-1zM480 108h1v1h-1zM482 115h1v1h-1zM480 110h1v1h-1zM487 102h1v1h-1zM462 103h1v1h-1zM481 109h1v1h-1zM462 104h1v1h-1zM484 107h1v1h-1zM481 107h1v1h-1zM477 100h1v1h-1zM470 103h1v1h-1zM480 107h1v1h-1zM480 99h1v1h-1zM486 101h1v1h-1zM478 99h1v1h-1zM474 99h1v1h-1zM464 100h1v1h-1zM477 103h1v1h-1zM487 104h1v1h-1zM487 103h1v1h-1zM482 109h1v1h-1zM482 113h1v1h-1zM476 110h1v1h-1zM481 103h1v1h-1zM478 100h1v1h-1zM472 101h1v1h-1zM475 110h1v1h-1zM486 100h1v1h-1zM466 112h1v1h-1zM470 108h1v1h-1zM472 112h1v1h-1zM486 102h1v1h-1zM479 109h1v1h-1zM481 114h1v1h-1zM469 105h1v1h-1z" fill="#8a8ad8" fill-opacity="0.6"/>
<path d="M473 136h1v1h-1zM459 143h1v1h-1zM388 110h1v1h-1zM407 105h1v1h-1zM460 152h1v1h-1zM442 122h1v1h-1zM414 114h1v1h-1zM456 137h1v1h-1zM455 125h1v1h-1zM400 100h1v1h-1zM381 148h1v1h-1zM422 152h1v1h-1zM401 109h1v1h-1zM421 116h1v1h-1zM414 96h1v1h-1zM463 146h1v1h-1zM428 107h1v1h-1zM434 151h1v1h-1zM477 146h1v1h-1zM423 112h1v1h-1zM451 129h1v1h-1zM448 147h1v1h-1zM426 121h1v1h-1zM452 123h1v1h-1zM465 119h1v1h-1zM429 122h1v1h-1zM470 124h1v1h-1zM404 132h1v1h-1zM414 148h1v1h-1zM408 124h1v1h-1zM435 120h1v1h-1zM453 130h1v1h-1zM398 103h1v1h-1zM456 150h1v1h-1zM408 119h1v1h-1zM482 103h1v1h-1zM439 111h1v1h-1zM406 132h1v1h-1zM468 121h1v1h-1zM470 142h1v1h-1z" fill="#a0a0dc" fill-opacity="0.5"/>
<path d="M399,110 L408,105 L425.3,101.5 L433,103 L434,115 L428,124 L418.6,128 L409.7,122 L402,116 Z" fill="#1010e6" filter="url(#b1)"/>
</g>
<line x1="374.40" y1="63.30" x2="490.20" y2="63.30" stroke="#333" stroke-width="0.9"/>
<line x1="374.40" y1="92.80" x2="490.20" y2="92.80" stroke="#333" stroke-width="0.9"/>
<line x1="439.70" y1="63.30" x2="439.70" y2="92.80" stroke="#333" stroke-width="0.9"/>
<rect x="385.80" y="69.20" width="6.50" height="9.00" fill="#fff" stroke="#bbb" stroke-width="0.4" rx="1.5"/>
<text x="386.90" y="76.50" font-size="6.5" text-anchor="start" fill="#444"  stroke="#444" stroke-width="0.15">E</text>
<rect x="471.20" y="68.20" width="6.50" height="9.00" fill="#fff" stroke="#bbb" stroke-width="0.4" rx="1.5"/>
<text x="472.40" y="75.50" font-size="6.5" text-anchor="start" fill="#444"  stroke="#444" stroke-width="0.15">F</text>
<rect x="374.40" y="36.90" width="115.80" height="117.60" fill="none" stroke="#111" stroke-width="1.3" rx="0"/>
<line x1="371.20" y1="126.00" x2="374.40" y2="126.00" stroke="#111" stroke-width="1.1"/>
<text transform="translate(368.30,130.30) scale(0.86,1)" font-size="9" text-anchor="end" fill="#111" stroke="#111" stroke-width="0.15">10<tspan font-size="5.7" dy="-3.3">0</tspan></text>
<line x1="372.80" y1="117.09" x2="374.40" y2="117.09" stroke="#111" stroke-width="0.6"/>
<line x1="372.80" y1="111.88" x2="374.40" y2="111.88" stroke="#111" stroke-width="0.6"/>
<line x1="372.80" y1="108.18" x2="374.40" y2="108.18" stroke="#111" stroke-width="0.6"/>
<line x1="372.80" y1="105.31" x2="374.40" y2="105.31" stroke="#111" stroke-width="0.6"/>
<line x1="372.80" y1="102.97" x2="374.40" y2="102.97" stroke="#111" stroke-width="0.6"/>
<line x1="372.80" y1="100.99" x2="374.40" y2="100.99" stroke="#111" stroke-width="0.6"/>
<line x1="372.80" y1="99.27" x2="374.40" y2="99.27" stroke="#111" stroke-width="0.6"/>
<line x1="372.80" y1="97.75" x2="374.40" y2="97.75" stroke="#111" stroke-width="0.6"/>
<line x1="371.20" y1="96.40" x2="374.40" y2="96.40" stroke="#111" stroke-width="1.1"/>
<text transform="translate(368.30,100.70) scale(0.86,1)" font-size="9" text-anchor="end" fill="#111" stroke="#111" stroke-width="0.15">10<tspan font-size="5.7" dy="-3.3">1</tspan></text>
<line x1="372.80" y1="87.49" x2="374.40" y2="87.49" stroke="#111" stroke-width="0.6"/>
<line x1="372.80" y1="82.28" x2="374.40" y2="82.28" stroke="#111" stroke-width="0.6"/>
<line x1="372.80" y1="78.58" x2="374.40" y2="78.58" stroke="#111" stroke-width="0.6"/>
<line x1="372.80" y1="75.71" x2="374.40" y2="75.71" stroke="#111" stroke-width="0.6"/>
<line x1="372.80" y1="73.37" x2="374.40" y2="73.37" stroke="#111" stroke-width="0.6"/>
<line x1="372.80" y1="71.39" x2="374.40" y2="71.39" stroke="#111" stroke-width="0.6"/>
<line x1="372.80" y1="69.67" x2="374.40" y2="69.67" stroke="#111" stroke-width="0.6"/>
<line x1="372.80" y1="68.15" x2="374.40" y2="68.15" stroke="#111" stroke-width="0.6"/>
<line x1="371.20" y1="66.80" x2="374.40" y2="66.80" stroke="#111" stroke-width="1.1"/>
<text transform="translate(368.30,71.10) scale(0.86,1)" font-size="9" text-anchor="end" fill="#111" stroke="#111" stroke-width="0.15">10<tspan font-size="5.7" dy="-3.3">2</tspan></text>
<line x1="372.80" y1="57.89" x2="374.40" y2="57.89" stroke="#111" stroke-width="0.6"/>
<line x1="372.80" y1="52.68" x2="374.40" y2="52.68" stroke="#111" stroke-width="0.6"/>
<line x1="372.80" y1="48.98" x2="374.40" y2="48.98" stroke="#111" stroke-width="0.6"/>
<line x1="372.80" y1="46.11" x2="374.40" y2="46.11" stroke="#111" stroke-width="0.6"/>
<line x1="372.80" y1="43.77" x2="374.40" y2="43.77" stroke="#111" stroke-width="0.6"/>
<line x1="372.80" y1="41.79" x2="374.40" y2="41.79" stroke="#111" stroke-width="0.6"/>
<line x1="372.80" y1="40.07" x2="374.40" y2="40.07" stroke="#111" stroke-width="0.6"/>
<line x1="372.80" y1="38.55" x2="374.40" y2="38.55" stroke="#111" stroke-width="0.6"/>
<line x1="371.20" y1="37.20" x2="374.40" y2="37.20" stroke="#111" stroke-width="1.1"/>
<text transform="translate(368.30,41.50) scale(0.86,1)" font-size="9" text-anchor="end" fill="#111" stroke="#111" stroke-width="0.15">10<tspan font-size="5.7" dy="-3.3">3</tspan></text>
<line x1="372.80" y1="146.69" x2="374.40" y2="146.69" stroke="#111" stroke-width="0.6"/>
<line x1="372.80" y1="141.48" x2="374.40" y2="141.48" stroke="#111" stroke-width="0.6"/>
<line x1="372.80" y1="137.78" x2="374.40" y2="137.78" stroke="#111" stroke-width="0.6"/>
<line x1="372.80" y1="134.91" x2="374.40" y2="134.91" stroke="#111" stroke-width="0.6"/>
<line x1="372.80" y1="132.57" x2="374.40" y2="132.57" stroke="#111" stroke-width="0.6"/>
<line x1="372.80" y1="130.59" x2="374.40" y2="130.59" stroke="#111" stroke-width="0.6"/>
<line x1="372.80" y1="128.87" x2="374.40" y2="128.87" stroke="#111" stroke-width="0.6"/>
<line x1="372.80" y1="127.35" x2="374.40" y2="127.35" stroke="#111" stroke-width="0.6"/>
<line x1="403.00" y1="154.50" x2="403.00" y2="157.50" stroke="#111" stroke-width="1.1"/>
<text transform="translate(403.00,169.90) scale(0.86,1)" font-size="9" text-anchor="middle" fill="#111" stroke="#111" stroke-width="0.15">10<tspan font-size="5.7" dy="-3.3">0</tspan></text>
<line x1="411.67" y1="154.50" x2="411.67" y2="156.10" stroke="#111" stroke-width="0.6"/>
<line x1="416.74" y1="154.50" x2="416.74" y2="156.10" stroke="#111" stroke-width="0.6"/>
<line x1="420.34" y1="154.50" x2="420.34" y2="156.10" stroke="#111" stroke-width="0.6"/>
<line x1="423.13" y1="154.50" x2="423.13" y2="156.10" stroke="#111" stroke-width="0.6"/>
<line x1="425.41" y1="154.50" x2="425.41" y2="156.10" stroke="#111" stroke-width="0.6"/>
<line x1="427.34" y1="154.50" x2="427.34" y2="156.10" stroke="#111" stroke-width="0.6"/>
<line x1="429.01" y1="154.50" x2="429.01" y2="156.10" stroke="#111" stroke-width="0.6"/>
<line x1="430.48" y1="154.50" x2="430.48" y2="156.10" stroke="#111" stroke-width="0.6"/>
<line x1="431.80" y1="154.50" x2="431.80" y2="157.50" stroke="#111" stroke-width="1.1"/>
<text transform="translate(431.80,169.90) scale(0.86,1)" font-size="9" text-anchor="middle" fill="#111" stroke="#111" stroke-width="0.15">10<tspan font-size="5.7" dy="-3.3">1</tspan></text>
<line x1="440.47" y1="154.50" x2="440.47" y2="156.10" stroke="#111" stroke-width="0.6"/>
<line x1="445.54" y1="154.50" x2="445.54" y2="156.10" stroke="#111" stroke-width="0.6"/>
<line x1="449.14" y1="154.50" x2="449.14" y2="156.10" stroke="#111" stroke-width="0.6"/>
<line x1="451.93" y1="154.50" x2="451.93" y2="156.10" stroke="#111" stroke-width="0.6"/>
<line x1="454.21" y1="154.50" x2="454.21" y2="156.10" stroke="#111" stroke-width="0.6"/>
<line x1="456.14" y1="154.50" x2="456.14" y2="156.10" stroke="#111" stroke-width="0.6"/>
<line x1="457.81" y1="154.50" x2="457.81" y2="156.10" stroke="#111" stroke-width="0.6"/>
<line x1="459.28" y1="154.50" x2="459.28" y2="156.10" stroke="#111" stroke-width="0.6"/>
<line x1="460.80" y1="154.50" x2="460.80" y2="157.50" stroke="#111" stroke-width="1.1"/>
<text transform="translate(460.80,169.90) scale(0.86,1)" font-size="9" text-anchor="middle" fill="#111" stroke="#111" stroke-width="0.15">10<tspan font-size="5.7" dy="-3.3">2</tspan></text>
<line x1="469.47" y1="154.50" x2="469.47" y2="156.10" stroke="#111" stroke-width="0.6"/>
<line x1="474.54" y1="154.50" x2="474.54" y2="156.10" stroke="#111" stroke-width="0.6"/>
<line x1="478.14" y1="154.50" x2="478.14" y2="156.10" stroke="#111" stroke-width="0.6"/>
<line x1="480.93" y1="154.50" x2="480.93" y2="156.10" stroke="#111" stroke-width="0.6"/>
<line x1="483.21" y1="154.50" x2="483.21" y2="156.10" stroke="#111" stroke-width="0.6"/>
<line x1="485.14" y1="154.50" x2="485.14" y2="156.10" stroke="#111" stroke-width="0.6"/>
<line x1="486.81" y1="154.50" x2="486.81" y2="156.10" stroke="#111" stroke-width="0.6"/>
<line x1="488.28" y1="154.50" x2="488.28" y2="156.10" stroke="#111" stroke-width="0.6"/>
<line x1="489.40" y1="154.50" x2="489.40" y2="157.50" stroke="#111" stroke-width="1.1"/>
<text transform="translate(489.40,169.90) scale(0.86,1)" font-size="9" text-anchor="middle" fill="#111" stroke="#111" stroke-width="0.15">10<tspan font-size="5.7" dy="-3.3">3</tspan></text>
<line x1="382.87" y1="154.50" x2="382.87" y2="156.10" stroke="#111" stroke-width="0.6"/>
<line x1="387.94" y1="154.50" x2="387.94" y2="156.10" stroke="#111" stroke-width="0.6"/>
<line x1="391.54" y1="154.50" x2="391.54" y2="156.10" stroke="#111" stroke-width="0.6"/>
<line x1="394.33" y1="154.50" x2="394.33" y2="156.10" stroke="#111" stroke-width="0.6"/>
<line x1="396.61" y1="154.50" x2="396.61" y2="156.10" stroke="#111" stroke-width="0.6"/>
<line x1="398.54" y1="154.50" x2="398.54" y2="156.10" stroke="#111" stroke-width="0.6"/>
<line x1="400.21" y1="154.50" x2="400.21" y2="156.10" stroke="#111" stroke-width="0.6"/>
<line x1="401.68" y1="154.50" x2="401.68" y2="156.10" stroke="#111" stroke-width="0.6"/>
<text x="0" y="0" transform="translate(436.20,184.00) scale(0.79,1)" font-size="10.5" text-anchor="middle" fill="#111"  stroke="#111" stroke-width="0.15">CD15</text>
<text x="0" y="0" transform="translate(349.60,89.00) rotate(-90) scale(0.83,1)" font-size="10.3" text-anchor="middle" fill="#111"  stroke="#111" stroke-width="0.15">CD33</text>
<text x="7.80" y="213.10" font-size="12.3" text-anchor="start" font-weight="bold" fill="#000"  stroke="#000" stroke-width="0.15">B</text>
<text x="98.10" y="211.20" font-size="10" text-anchor="middle" font-weight="bold" fill="#111"  stroke="#111" stroke-width="0.15">PBMCs</text>
<text x="98.10" y="223.00" font-size="10" text-anchor="middle" font-weight="bold" fill="#111"  stroke="#111" stroke-width="0.15">Gated</text>
<line x1="36.40" y1="236.50" x2="36.40" y2="320.50" stroke="#111" stroke-width="1.3"/>
<line x1="35.80" y1="320.50" x2="159.70" y2="320.50" stroke="#111" stroke-width="1.3"/>
<line x1="33.20" y1="320.50" x2="36.40" y2="320.50" stroke="#111" stroke-width="1.1"/>
<text x="0" y="0" transform="translate(30.20,323.60) scale(0.86,1)" font-size="9" text-anchor="end" fill="#111"  stroke="#111" stroke-width="0.15">0</text>
<line x1="33.20" y1="300.00" x2="36.40" y2="300.00" stroke="#111" stroke-width="1.1"/>
<text x="0" y="0" transform="translate(30.20,303.10) scale(0.86,1)" font-size="9" text-anchor="end" fill="#111"  stroke="#111" stroke-width="0.15">5</text>
<line x1="33.20" y1="279.50" x2="36.40" y2="279.50" stroke="#111" stroke-width="1.1"/>
<text x="0" y="0" transform="translate(30.20,282.60) scale(0.86,1)" font-size="9" text-anchor="end" fill="#111"  stroke="#111" stroke-width="0.15">10</text>
<line x1="33.20" y1="259.00" x2="36.40" y2="259.00" stroke="#111" stroke-width="1.1"/>
<text x="0" y="0" transform="translate(30.20,262.10) scale(0.86,1)" font-size="9" text-anchor="end" fill="#111"  stroke="#111" stroke-width="0.15">15</text>
<line x1="33.20" y1="238.50" x2="36.40" y2="238.50" stroke="#111" stroke-width="1.1"/>
<text x="0" y="0" transform="translate(30.20,241.60) scale(0.86,1)" font-size="9" text-anchor="end" fill="#111"  stroke="#111" stroke-width="0.15">20</text>
<line x1="67.00" y1="320.50" x2="67.00" y2="323.10" stroke="#111" stroke-width="1.1"/>
<line x1="128.20" y1="320.50" x2="128.20" y2="323.10" stroke="#111" stroke-width="1.1"/>
<text x="67.20" y="334.80" font-size="8.4" text-anchor="middle" fill="#111"  stroke="#111" stroke-width="0.15">Healthy</text>
<text x="128.30" y="334.80" font-size="8.3" text-anchor="middle" fill="#111"  stroke="#111" stroke-width="0.15">AML</text>
<text x="0" y="0" transform="translate(14.80,272.00) rotate(-90) scale(1.0,1)" font-size="8.2" text-anchor="middle" fill="#111"  stroke="#111" stroke-width="0.15">MDSCs(%)</text>
<path d="M62.2,302.8 V269.4 H121.4 V282.2" fill="none" stroke="#111" stroke-width="1.1"/>
<circle cx="91.8" cy="263.9" r="1.1" fill="#111"/>
<line x1="108.40" y1="288.10" x2="148.20" y2="288.10" stroke="#111" stroke-width="1.3"/>
<line x1="50.00" y1="319.60" x2="85.00" y2="319.60" stroke="#961032" stroke-width="1.3"/>
<circle cx="48.5" cy="318.2" r="2.0" fill="#961032"/>
<circle cx="52" cy="319.5" r="2.0" fill="#961032"/>
<circle cx="55.5" cy="319.8" r="2.0" fill="#961032"/>
<circle cx="59" cy="319.8" r="2.0" fill="#961032"/>
<circle cx="62.5" cy="319.8" r="2.0" fill="#961032"/>
<circle cx="66" cy="319.8" r="2.0" fill="#961032"/>
<circle cx="69.5" cy="319.8" r="2.0" fill="#961032"/>
<circle cx="73" cy="319.6" r="2.0" fill="#961032"/>
<circle cx="76.5" cy="319.5" r="2.0" fill="#961032"/>
<circle cx="80" cy="319.3" r="2.0" fill="#961032"/>
<circle cx="86.5" cy="317.6" r="2.0" fill="#961032"/>
<circle cx="126" cy="255.3" r="2.0" fill="#283660"/>
<circle cx="130.9" cy="251.5" r="2.0" fill="#283660"/>
<circle cx="128.5" cy="272.1" r="2.0" fill="#283660"/>
<circle cx="128.3" cy="284" r="2.0" fill="#283660"/>
<circle cx="123.4" cy="309.7" r="2.0" fill="#283660"/>
<circle cx="128.5" cy="306.2" r="2.0" fill="#283660"/>
<circle cx="128.2" cy="313.6" r="2.0" fill="#283660"/>
<circle cx="133.3" cy="312.8" r="2.0" fill="#283660"/>
<text x="176.00" y="213.00" font-size="12.3" text-anchor="start" font-weight="bold" fill="#000"  stroke="#000" stroke-width="0.15">C</text>
<text x="266.80" y="211.20" font-size="10" text-anchor="middle" font-weight="bold" fill="#111"  stroke="#111" stroke-width="0.15">CD11b+/HLADR-/CD14-</text>
<text x="267.50" y="223.00" font-size="10" text-anchor="middle" font-weight="bold" fill="#111"  stroke="#111" stroke-width="0.15">Gated</text>
<line x1="204.60" y1="228.60" x2="204.60" y2="320.60" stroke="#111" stroke-width="1.3"/>
<line x1="204.00" y1="320.60" x2="329.00" y2="320.60" stroke="#111" stroke-width="1.3"/>
<line x1="201.40" y1="320.60" x2="204.60" y2="320.60" stroke="#111" stroke-width="1.1"/>
<text x="0" y="0" transform="translate(198.10,323.70) scale(0.86,1)" font-size="9" text-anchor="end" fill="#111"  stroke="#111" stroke-width="0.15">0</text>
<line x1="201.40" y1="290.44" x2="204.60" y2="290.44" stroke="#111" stroke-width="1.1"/>
<text x="0" y="0" transform="translate(198.10,293.54) scale(0.86,1)" font-size="9" text-anchor="end" fill="#111"  stroke="#111" stroke-width="0.15">20</text>
<line x1="201.40" y1="260.28" x2="204.60" y2="260.28" stroke="#111" stroke-width="1.1"/>
<text x="0" y="0" transform="translate(198.10,263.38) scale(0.86,1)" font-size="9" text-anchor="end" fill="#111"  stroke="#111" stroke-width="0.15">40</text>
<line x1="201.40" y1="230.12" x2="204.60" y2="230.12" stroke="#111" stroke-width="1.1"/>
<text x="0" y="0" transform="translate(198.10,233.22) scale(0.86,1)" font-size="9" text-anchor="end" fill="#111"  stroke="#111" stroke-width="0.15">60</text>
<line x1="235.80" y1="320.60" x2="235.80" y2="323.20" stroke="#111" stroke-width="1.1"/>
<line x1="297.30" y1="320.60" x2="297.30" y2="323.20" stroke="#111" stroke-width="1.1"/>
<text x="235.60" y="334.80" font-size="8.4" text-anchor="middle" fill="#111"  stroke="#111" stroke-width="0.15">Healthy</text>
<text x="297.20" y="334.80" font-size="8.3" text-anchor="middle" fill="#111"  stroke="#111" stroke-width="0.15">AML</text>
<text x="0" y="0" transform="translate(182.00,273.50) rotate(-90) scale(1.0,1)" font-size="8.2" text-anchor="middle" fill="#111"  stroke="#111" stroke-width="0.15">MDSCs(%)</text>
<path d="M230.5,293.5 V260.6 H289.8 V273.2" fill="none" stroke="#111" stroke-width="1.1"/>
<circle cx="260" cy="254.6" r="1.2" fill="#111"/>
<line x1="215.20" y1="312.90" x2="255.80" y2="312.90" stroke="#111" stroke-width="1.3"/>
<line x1="277.20" y1="281.70" x2="318.00" y2="281.70" stroke="#111" stroke-width="1.3"/>
<circle cx="235.8" cy="299.1" r="2.0" fill="#961032"/>
<circle cx="233.3" cy="307.1" r="2.0" fill="#961032"/>
<circle cx="238.4" cy="305.6" r="2.0" fill="#961032"/>
<circle cx="226.1" cy="315.3" r="2.0" fill="#961032"/>
<circle cx="235.8" cy="313.8" r="2.0" fill="#961032"/>
<circle cx="230.9" cy="318.4" r="2.0" fill="#961032"/>
<circle cx="240.6" cy="318.4" r="2.0" fill="#961032"/>
<circle cx="245.7" cy="318" r="2.0" fill="#961032"/>
<circle cx="235.8" cy="321.4" r="2.0" fill="#961032"/>
<circle cx="297.3" cy="245.7" r="2.0" fill="#283660"/>
<circle cx="297.3" cy="261" r="2.0" fill="#283660"/>
<circle cx="297.3" cy="278.4" r="2.0" fill="#283660"/>
<circle cx="300.4" cy="286" r="2.0" fill="#283660"/>
<circle cx="294.9" cy="290" r="2.0" fill="#283660"/>
<circle cx="297.3" cy="300" r="2.0" fill="#283660"/>
<circle cx="297.3" cy="311.3" r="2.0" fill="#283660"/>
<text x="345.60" y="213.10" font-size="12.3" text-anchor="start" font-weight="bold" fill="#000"  stroke="#000" stroke-width="0.15">D</text>
<text x="442.30" y="211.20" font-size="10" text-anchor="middle" font-weight="bold" fill="#111"  stroke="#111" stroke-width="0.15">CD11b+/HLADR-/CD14-</text>
<text x="443.80" y="222.80" font-size="10" text-anchor="middle" font-weight="bold" fill="#111"  stroke="#111" stroke-width="0.15">Gated</text>
<line x1="373.90" y1="227.00" x2="373.90" y2="320.50" stroke="#111" stroke-width="1.3"/>
<line x1="373.30" y1="320.50" x2="512.50" y2="320.50" stroke="#111" stroke-width="1.3"/>
<line x1="370.80" y1="320.50" x2="373.90" y2="320.50" stroke="#111" stroke-width="1.1"/>
<text x="0" y="0" transform="translate(367.20,323.60) scale(0.86,1)" font-size="9" text-anchor="end" fill="#111"  stroke="#111" stroke-width="0.15">0</text>
<line x1="370.80" y1="289.70" x2="373.90" y2="289.70" stroke="#111" stroke-width="1.1"/>
<text x="0" y="0" transform="translate(367.20,292.80) scale(0.86,1)" font-size="9" text-anchor="end" fill="#111"  stroke="#111" stroke-width="0.15">20</text>
<line x1="370.80" y1="258.90" x2="373.90" y2="258.90" stroke="#111" stroke-width="1.1"/>
<text x="0" y="0" transform="translate(367.20,262.00) scale(0.86,1)" font-size="9" text-anchor="end" fill="#111"  stroke="#111" stroke-width="0.15">40</text>
<line x1="370.80" y1="228.10" x2="373.90" y2="228.10" stroke="#111" stroke-width="1.1"/>
<text x="0" y="0" transform="translate(367.20,231.20) scale(0.86,1)" font-size="9" text-anchor="end" fill="#111"  stroke="#111" stroke-width="0.15">60</text>
<line x1="390.80" y1="320.50" x2="390.80" y2="323.10" stroke="#111" stroke-width="1.1"/>
<text x="0" y="0" transform="translate(392.80,330.20) rotate(-45) scale(1.0,1)" font-size="8.5" text-anchor="end" fill="#111"  stroke="#111" stroke-width="0.15">Monocytic Healthy</text>
<line x1="425.80" y1="320.50" x2="425.80" y2="323.10" stroke="#111" stroke-width="1.1"/>
<text x="0" y="0" transform="translate(427.80,330.20) rotate(-45) scale(1.0,1)" font-size="8.5" text-anchor="end" fill="#111"  stroke="#111" stroke-width="0.15">Granulocytic Healthy</text>
<line x1="460.30" y1="320.50" x2="460.30" y2="323.10" stroke="#111" stroke-width="1.1"/>
<text x="0" y="0" transform="translate(463.60,331.20) rotate(-45) scale(1.0,1)" font-size="8.5" text-anchor="end" fill="#111"  stroke="#111" stroke-width="0.15">Monocytic AML</text>
<line x1="494.80" y1="320.50" x2="494.80" y2="323.10" stroke="#111" stroke-width="1.1"/>
<text x="0" y="0" transform="translate(498.10,331.20) rotate(-45) scale(1.0,1)" font-size="8.5" text-anchor="end" fill="#111"  stroke="#111" stroke-width="0.15">Granulocytic AML</text>
<text x="0" y="0" transform="translate(352.60,273.60) rotate(-90) scale(1.0,1)" font-size="8.2" text-anchor="middle" fill="#111"  stroke="#111" stroke-width="0.15">MDSCs(%)</text>
<path d="M398.1,306.8 V276.8 H446.2 V288.6" fill="none" stroke="#111" stroke-width="1.1"/>
<path d="M427.2,295 V261.1 H486.8 V273.8" fill="none" stroke="#111" stroke-width="1.1"/>
<circle cx="422.1" cy="271.4" r="1.1" fill="#111"/>
<circle cx="457.1" cy="255.3" r="1.1" fill="#111"/>
<line x1="380.20" y1="315.80" x2="402.60" y2="315.80" stroke="#111" stroke-width="1.3"/>
<line x1="415.20" y1="317.70" x2="436.40" y2="317.70" stroke="#111" stroke-width="1.3"/>
<line x1="448.90" y1="306.40" x2="471.80" y2="306.40" stroke="#111" stroke-width="1.3"/>
<line x1="483.80" y1="280.40" x2="506.20" y2="280.40" stroke="#111" stroke-width="1.3"/>
<circle cx="383" cy="310.5" r="2.0" fill="#961032"/>
<circle cx="388.6" cy="313.3" r="2.0" fill="#961032"/>
<circle cx="394.2" cy="313.3" r="2.0" fill="#961032"/>
<circle cx="399.8" cy="311.3" r="2.0" fill="#961032"/>
<circle cx="381.8" cy="316" r="2.0" fill="#961032"/>
<circle cx="385.8" cy="318.6" r="2.0" fill="#961032"/>
<circle cx="391.4" cy="319.4" r="2.0" fill="#961032"/>
<circle cx="397" cy="318.6" r="2.0" fill="#961032"/>
<circle cx="400.6" cy="318" r="2.0" fill="#961032"/>
<circle cx="426" cy="308.4" r="2.0" fill="#961032"/>
<circle cx="422.9" cy="313.8" r="2.0" fill="#961032"/>
<circle cx="428.8" cy="314.2" r="2.0" fill="#961032"/>
<circle cx="417.2" cy="316.3" r="2.0" fill="#961032"/>
<circle cx="419.5" cy="320.9" r="2.0" fill="#961032"/>
<circle cx="422.6" cy="321.2" r="2.0" fill="#961032"/>
<circle cx="425.7" cy="320.9" r="2.0" fill="#961032"/>
<circle cx="428.8" cy="321.2" r="2.0" fill="#961032"/>
<circle cx="431.9" cy="320.9" r="2.0" fill="#961032"/>
<circle cx="434.6" cy="320.7" r="2.0" fill="#961032"/>
<circle cx="460.4" cy="282.5" r="2.0" fill="#283660"/>
<circle cx="460.4" cy="296.6" r="2.0" fill="#283660"/>
<circle cx="452.2" cy="312.6" r="2.0" fill="#283660"/>
<circle cx="459.8" cy="311" r="2.0" fill="#283660"/>
<circle cx="462.9" cy="313.4" r="2.0" fill="#283660"/>
<circle cx="468.5" cy="312.6" r="2.0" fill="#283660"/>
<circle cx="457.3" cy="318.2" r="2.0" fill="#283660"/>
<circle cx="494.7" cy="243.4" r="2.0" fill="#283660"/>
<circle cx="492.2" cy="251.6" r="2.0" fill="#283660"/>
<circle cx="498" cy="256.2" r="2.0" fill="#283660"/>
<circle cx="494.7" cy="290.3" r="2.0" fill="#283660"/>
<circle cx="492.2" cy="299.3" r="2.0" fill="#283660"/>
<circle cx="498" cy="303.7" r="2.0" fill="#283660"/>
<circle cx="494.7" cy="317.4" r="2.0" fill="#283660"/>
<rect x="0" y="0" width="1.4" height="393" fill="#000"/>
<rect x="0" y="0" width="520" height="1.4" fill="#000"/>
<rect x="518.2" y="0" width="1.8" height="393" fill="#000"/>
<rect x="0" y="391.1" width="520" height="1.9" fill="#000"/>
</g>
</svg>
</body></html>
